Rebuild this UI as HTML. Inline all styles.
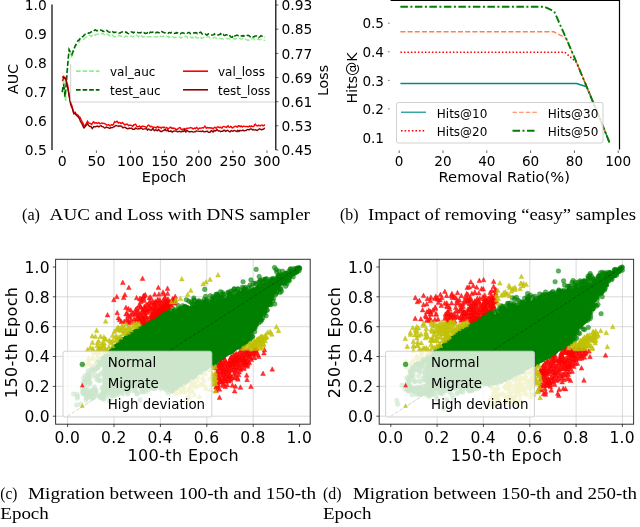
<!DOCTYPE html>
<html lang="en"><head><meta charset="utf-8"><title>Figure</title>
<style>html,body{margin:0;padding:0;background:#fff}svg{display:block}.s{font-family:"DejaVu Sans","Liberation Sans",sans-serif;fill:#000}.r{font-family:"Liberation Serif","DejaVu Serif",serif;fill:#000}</style></head>
<body>
<svg width="640" height="527" viewBox="0 0 640 527" style="will-change:transform">
<rect width="640" height="527" fill="#fff"/>
<path d="M62.3 92.3 63 85.5 63.7 79.1 64.3 88.6 65 97.8 65.7 101.4 66.4 87 67.1 76.4 67.8 68.9 68.4 58.5 69.1 48.4 69.8 51 70.5 53 71.2 55.6 71.9 57.8 72.5 55.9 73.2 52.9 73.9 50.9 74.6 48.3 75.3 47 75.9 45.9 76.6 45.2 77.3 44.7 78 43.6 78.7 42.7 79.4 41.6 80 39.9 80.7 39.3 81.4 39.1 82.1 39.8 82.8 39.2 83.5 39.2 84.1 38.9 84.8 38.2 85.5 37.7 86.2 36.8 86.9 36.4 87.5 35.8 88.2 35.8 88.9 35.4 89.6 35.3 90.3 35.5 91 36.4 91.6 36.1 92.3 35.1 93 34.1 93.7 34.2 94.4 34.8 95.1 35.1 95.7 34.7 96.4 34.4 97.1 34.2 97.8 34.2 98.5 34.2 99.1 34.3 99.8 34.3 100.5 34.3 101.2 34.1 101.9 33.5 102.6 33.3 103.2 33.4 103.9 34.6 104.6 34.7 105.3 35.4 106 35.3 106.7 35.1 107.3 34.2 108 34 108.7 35 109.4 35.6 110.1 36 110.7 35.4 111.4 34.6 112.1 34.5 112.8 35.2 113.5 36.5 114.2 36.8 114.8 36.8 115.5 36.8 116.2 36.7 116.9 37.1 117.6 36.3 118.3 36 118.9 35.2 119.6 35.8 120.3 35.9 121 36.4 121.7 36.3 122.3 36.6 123 37 123.7 37.4 124.4 37 125.1 36.6 125.8 36 126.4 36 127.1 36.5 127.8 36.8 128.5 37.1 129.2 36.4 129.9 36.3 130.5 36 131.2 36 131.9 36.3 132.6 37 133.3 36.8 133.9 36.2 134.6 36.5 135.3 36.3 136 36.3 136.7 35.2 137.4 35.8 138 36.1 138.7 36.9 139.4 35.9 140.1 35.9 140.8 35 141.5 36.1 142.1 35.9 142.8 37 143.5 37 144.2 36.7 144.9 36.5 145.5 36 146.2 36.3 146.9 36.2 147.6 36.7 148.3 37 149 36.7 149.6 36.7 150.3 36.8 151 36.9 151.7 37.1 152.4 37.2 153.1 37.1 153.7 36.5 154.4 36.6 155.1 36.5 155.8 37.1 156.5 36.9 157.1 36.6 157.8 36.5 158.5 35.7 159.2 36.3 159.9 35.9 160.6 36.5 161.2 36.6 161.9 36.5 162.6 36.5 163.3 36 164 36.3 164.6 36.6 165.3 36.9 166 36.8 166.7 36.2 167.4 36.5 168.1 36.5 168.7 37.4 169.4 36.9 170.1 37.3 170.8 37.3 171.5 37.6 172.2 36.9 172.8 36.8 173.5 37.1 174.2 37.8 174.9 37.7 175.6 37.2 176.2 37.2 176.9 37.1 177.6 37 178.3 37 179 36.7 179.7 37.2 180.3 37.4 181 38.2 181.7 37.2 182.4 36.9 183.1 36.2 183.8 36.9 184.4 36.8 185.1 36.8 185.8 36.2 186.5 36.6 187.2 37.2 187.8 38.2 188.5 38.3 189.2 37.5 189.9 36.9 190.6 36.8 191.3 37.6 191.9 38 192.6 37.2 193.3 37.7 194 37.4 194.7 38.3 195.4 37 196 37.5 196.7 37.3 197.4 38.2 198.1 38.1 198.8 37.6 199.4 36.8 200.1 36.6 200.8 37.4 201.5 38.3 202.2 38.4 202.9 38.1 203.5 37.5 204.2 37.4 204.9 37.8 205.6 37.8 206.3 37.8 207 37 207.6 36.4 208.3 36.4 209 37.1 209.7 37.8 210.4 38 211 38 211.7 38 212.4 38.2 213.1 37.8 213.8 37.8 214.5 37.4 215.1 37.7 215.8 37.9 216.5 38.4 217.2 38.4 217.9 38.4 218.6 38 219.2 38 219.9 38.3 220.6 38.4 221.3 38.9 222 38.6 222.6 38.8 223.3 39.1 224 38.9 224.7 38.7 225.4 38.1 226.1 38.3 226.7 38.5 227.4 38.8 228.1 38.8 228.8 38.9 229.5 38.6 230.2 38.9 230.8 38.7 231.5 38.7 232.2 38.4 232.9 38.6 233.6 38.5 234.2 39.1 234.9 38.8 235.6 38.9 236.3 38.3 237 38.4 237.7 38.7 238.3 38.9 239 38.9 239.7 38.5 240.4 38.4 241.1 39.2 241.8 39.1 242.4 38.8 243.1 38 243.8 38.2 244.5 39.1 245.2 39.2 245.8 39.3 246.5 39.7 247.2 39.9 247.9 40.4 248.6 40 249.3 40.4 249.9 39.5 250.6 39.2 251.3 38.9 252 38.8 252.7 38.2 253.4 38.3 254 39 254.7 40 255.4 40.2 256.1 40 256.8 39.5 257.4 39.3 258.1 39.1 258.8 39.5 259.5 39.6 260.2 39.7 260.9 39.3 261.5 39 262.2 39.1 262.9 39.5 263.6 39.8 264.3 40.3 265 40.8" fill="none" stroke="#90ee90" stroke-width="1.4" stroke-dasharray="5 2.2"/>
<path d="M62.3 92.1 63 85.8 63.7 84.9 64.3 89.3 65 96.8 65.7 88.1 66.4 82.4 67.1 70.9 67.8 63.2 68.4 56.4 69.1 49.6 69.8 51.2 70.5 52.4 71.2 53.3 71.9 54.5 72.5 52.5 73.2 51.2 73.9 49 74.6 47.3 75.3 45.7 75.9 44.7 76.6 43 77.3 41.8 78 40.4 78.7 40.4 79.4 39.6 80 38.5 80.7 37.2 81.4 37.1 82.1 36.8 82.8 36.8 83.5 36.1 84.1 35.1 84.8 34.6 85.5 33.9 86.2 33.7 86.9 33.4 87.5 33.2 88.2 33.2 88.9 32.7 89.6 32.9 90.3 32.6 91 31.9 91.6 31.8 92.3 31.3 93 31.5 93.7 30.9 94.4 30.3 95.1 29.8 95.7 30 96.4 30.7 97.1 30.8 97.8 30.5 98.5 30.3 99.1 30.6 99.8 30.3 100.5 30.1 101.2 30.3 101.9 30.5 102.6 31.2 103.2 31 103.9 31.5 104.6 31.5 105.3 31.7 106 31 106.7 30.4 107.3 30.9 108 31.6 108.7 31.9 109.4 32.2 110.1 32.2 110.7 32.6 111.4 31.7 112.1 31.4 112.8 31.6 113.5 32.3 114.2 32.7 114.8 32.2 115.5 32.3 116.2 32.3 116.9 32.7 117.6 32.6 118.3 32.5 118.9 33 119.6 33 120.3 33 121 32.3 121.7 32 122.3 31.9 123 32.1 123.7 32.4 124.4 32 125.1 32.2 125.8 31.9 126.4 32.7 127.1 32.6 127.8 33.4 128.5 33.6 129.2 33.8 129.9 33.5 130.5 32.8 131.2 31.9 131.9 31.9 132.6 32.2 133.3 32.9 133.9 32.4 134.6 32.2 135.3 32.4 136 32.3 136.7 32.1 137.4 32.3 138 32.6 138.7 32.8 139.4 32.8 140.1 32.6 140.8 32.9 141.5 32.3 142.1 32.3 142.8 31.9 143.5 32.5 144.2 32.6 144.9 33.3 145.5 33.5 146.2 33.3 146.9 33.3 147.6 32.7 148.3 33.4 149 32.4 149.6 32.9 150.3 32.1 151 32.3 151.7 32.5 152.4 32.4 153.1 31.9 153.7 31.4 154.4 31.9 155.1 32.5 155.8 32.8 156.5 32.3 157.1 32.4 157.8 32.1 158.5 32.7 159.2 32.8 159.9 33.2 160.6 32.5 161.2 32.4 161.9 31.6 162.6 32.1 163.3 32.3 164 32.7 164.6 33 165.3 32.7 166 32.8 166.7 32.7 167.4 33.2 168.1 33.4 168.7 32.7 169.4 32.5 170.1 32.6 170.8 33.1 171.5 32.4 172.2 32.6 172.8 32.8 173.5 33.5 174.2 33.6 174.9 33.3 175.6 33.2 176.2 32.6 176.9 33.1 177.6 32.9 178.3 33.2 179 33 179.7 33.5 180.3 33.8 181 33.3 181.7 33.1 182.4 32.7 183.1 33.1 183.8 33.1 184.4 33.4 185.1 33.2 185.8 33.2 186.5 33.1 187.2 33.3 187.8 32.9 188.5 32.6 189.2 32.5 189.9 33.1 190.6 33.8 191.3 33.7 191.9 33.2 192.6 32.8 193.3 32.9 194 33 194.7 32.7 195.4 32.6 196 33.1 196.7 32.9 197.4 33.6 198.1 33.2 198.8 33.6 199.4 32.9 200.1 32.5 200.8 32.2 201.5 32.9 202.2 34.2 202.9 34.4 203.5 34.4 204.2 33.9 204.9 33.9 205.6 34.1 206.3 34.8 207 35.1 207.6 34.5 208.3 33.9 209 34 209.7 34.3 210.4 34.8 211 34.9 211.7 35 212.4 35.1 213.1 34.9 213.8 34.6 214.5 33.9 215.1 34.5 215.8 34.7 216.5 35.2 217.2 35.2 217.9 35 218.6 35 219.2 34.6 219.9 34.6 220.6 33.7 221.3 34.3 222 34.1 222.6 34.9 223.3 34.5 224 35.3 224.7 35.5 225.4 35.2 226.1 34.8 226.7 34.7 227.4 35.1 228.1 34.7 228.8 34.7 229.5 35.4 230.2 36.1 230.8 36.8 231.5 37.2 232.2 37.2 232.9 36.1 233.6 35 234.2 35.3 234.9 36.1 235.6 35.7 236.3 35.3 237 35 237.7 35.5 238.3 35.6 239 35.3 239.7 35.2 240.4 35.1 241.1 35.8 241.8 35.9 242.4 36.2 243.1 35.5 243.8 36.2 244.5 36 245.2 36.4 245.8 36.5 246.5 35.9 247.2 35.4 247.9 35.2 248.6 35.5 249.3 35.9 249.9 36.7 250.6 36.9 251.3 37.1 252 36.2 252.7 36.7 253.4 36.8 254 37 254.7 36.2 255.4 36.1 256.1 36 256.8 36 257.4 36.3 258.1 36.5 258.8 37.6 259.5 37 260.2 36.5 260.9 35.7 261.5 36 262.2 36.3 262.9 36.6 263.6 37 264.3 37.2 265 37.3" fill="none" stroke="#006400" stroke-width="1.5" stroke-dasharray="5 2.2"/>
<path d="M62.3 77.7 63 76.6 63.7 76.3 64.3 77.1 65 77.3 65.7 78 66.4 81.2 67.1 83.4 67.8 85.4 68.4 89.8 69.1 94.7 69.8 98.5 70.5 101.9 71.2 104 71.9 105.8 72.5 108.2 73.2 110.8 73.9 112.4 74.6 112.4 75.3 112.3 75.9 113.7 76.6 115 77.3 114.7 78 115 78.7 116.2 79.4 116.8 80 117.2 80.7 118.7 81.4 120.4 82.1 121.6 82.8 122.9 83.5 124.3 84.1 126.1 84.8 126 85.5 124.6 86.2 123.6 86.9 122.5 87.5 121.2 88.2 122.4 88.9 122.9 89.6 123.2 90.3 123.3 91 123.9 91.6 124.4 92.3 123.5 93 122.3 93.7 121.8 94.4 122.7 95.1 123.3 95.7 122.6 96.4 122.6 97.1 123.5 97.8 123.3 98.5 122.6 99.1 122.9 99.8 123.7 100.5 123.8 101.2 123.1 101.9 123 102.6 123.5 103.2 123.4 103.9 123.2 104.6 123.7 105.3 124 106 124.4 106.7 125 107.3 125.3 108 124.8 108.7 124.6 109.4 125.6 110.1 126 110.7 125.4 111.4 124.6 112.1 124.8 112.8 125.2 113.5 124.3 114.2 122.4 114.8 121.5 115.5 122.2 116.2 122 116.9 121.2 117.6 121.8 118.3 123.1 118.9 122.7 119.6 122.5 120.3 122.9 121 123.6 121.7 123.2 122.3 122.5 123 123.1 123.7 123.7 124.4 124.8 125.1 124.9 125.8 124.3 126.4 124.4 127.1 124.1 127.8 124.5 128.5 125.6 129.2 125.4 129.9 125.1 130.5 125.4 131.2 125.5 131.9 125.5 132.6 126.3 133.3 125.7 133.9 124.7 134.6 124.8 135.3 124.1 136 124.6 136.7 126.3 137.4 126.8 138 126.6 138.7 126.5 139.4 126 140.1 126.7 140.8 126.6 141.5 126.5 142.1 126.6 142.8 126 143.5 126.4 144.2 126.4 144.9 126.6 145.5 126.9 146.2 127.4 146.9 127.2 147.6 125.8 148.3 125 149 125.3 149.6 125.9 150.3 126.8 151 126.5 151.7 126.3 152.4 127 153.1 127.2 153.7 127.2 154.4 127.3 155.1 127.4 155.8 127.8 156.5 128 157.1 126.6 157.8 126.5 158.5 127.7 159.2 127.5 159.9 127.1 160.6 127.8 161.2 128.3 161.9 127.4 162.6 127.2 163.3 127.6 164 127.1 164.6 127.5 165.3 128.1 166 128.1 166.7 127.5 167.4 128.1 168.1 129.1 168.7 128.5 169.4 127.9 170.1 127.5 170.8 127.2 171.5 128.1 172.2 128.4 172.8 127.9 173.5 128.5 174.2 128.2 174.9 128.4 175.6 129.5 176.2 129.3 176.9 129.1 177.6 129.2 178.3 128.4 179 128 179.7 127.6 180.3 127.8 181 129.1 181.7 129.4 182.4 129.2 183.1 129.4 183.8 128.8 184.4 128.6 185.1 129.7 185.8 129.1 186.5 128.2 187.2 128.4 187.8 128.2 188.5 128.1 189.2 128.1 189.9 127.8 190.6 127.6 191.3 127.9 191.9 127.9 192.6 128.6 193.3 128.9 194 128.3 194.7 128.1 195.4 128.6 196 127.9 196.7 127.3 197.4 128.4 198.1 129.2 198.8 128.7 199.4 128 200.1 128.2 200.8 128.1 201.5 128 202.2 127.8 202.9 127.8 203.5 128 204.2 127.2 204.9 126.1 205.6 126.9 206.3 128.2 207 128.1 207.6 127.5 208.3 127.6 209 128.1 209.7 127.6 210.4 127.8 211 128.2 211.7 127.9 212.4 128.4 213.1 128.8 213.8 128.1 214.5 127.4 215.1 127.3 215.8 128.1 216.5 128.2 217.2 127.1 217.9 126.7 218.6 127 219.2 127.6 219.9 127.3 220.6 127.2 221.3 128 222 128 222.6 126.9 223.3 126.5 224 126.6 224.7 126.9 225.4 127 226.1 127 226.7 127.5 227.4 126.2 228.1 125.8 228.8 127 229.5 127.4 230.2 127 230.8 126.4 231.5 126.8 232.2 128 232.9 127.9 233.6 127.2 234.2 127 234.9 126.4 235.6 126.3 236.3 126.5 237 127.1 237.7 127 238.3 125.6 239 125.6 239.7 126.4 240.4 126.6 241.1 125.9 241.8 126.3 242.4 127.1 243.1 126.5 243.8 126.1 244.5 126.4 245.2 126.6 245.8 126.5 246.5 126.5 247.2 126.4 247.9 126.9 248.6 126.9 249.3 126 249.9 126.3 250.6 126.8 251.3 126 252 126.4 252.7 126.5 253.4 126.5 254 126.1 254.7 124.6 255.4 124.2 256.1 125.2 256.8 125.7 257.4 125.6 258.1 125.8 258.8 125.1 259.5 125.7 260.2 125.9 260.9 125.3 261.5 125.1 262.2 125 262.9 125.8 263.6 125.8 264.3 125.1 265 125.2" fill="none" stroke="#ff0000" stroke-width="1.4"/>
<path d="M62.3 80.9 63 79.5 63.7 77.5 64.3 78.2 65 78.9 65.7 78.9 66.4 82 67.1 85.6 67.8 88.4 68.4 91.7 69.1 96 69.8 99.9 70.5 103.6 71.2 106.3 71.9 107.5 72.5 109 73.2 111.8 73.9 113.8 74.6 113.6 75.3 113.6 75.9 114.7 76.6 115.6 77.3 115.8 78 116.8 78.7 117.5 79.4 118.6 80 120.3 80.7 121.8 81.4 123 82.1 124.1 82.8 125.7 83.5 127.3 84.1 128 84.8 127.1 85.5 126.4 86.2 125.3 86.9 124.7 87.5 123.6 88.2 124.7 88.9 125.8 89.6 126.3 90.3 126.5 91 126.4 91.6 127.6 92.3 128.5 93 127.5 93.7 126.7 94.4 126.6 95.1 126.8 95.7 126.8 96.4 126.3 97.1 126.4 97.8 126.1 98.5 126.7 99.1 126.7 99.8 126.1 100.5 125.9 101.2 125.8 101.9 126.6 102.6 126.6 103.2 126.8 103.9 127.5 104.6 127.9 105.3 127.8 106 127.2 106.7 127 107.3 127.5 108 127.6 108.7 127.8 109.4 128.4 110.1 128.4 110.7 127.6 111.4 127.6 112.1 127.8 112.8 127.4 113.5 126.9 114.2 126.8 114.8 126.2 115.5 125.6 116.2 125.5 116.9 125.9 117.6 126.1 118.3 125.9 118.9 126.4 119.6 126 120.3 125.9 121 126.2 121.7 126.2 122.3 127.2 123 127.8 123.7 127.4 124.4 127.3 125.1 127.5 125.8 127.7 126.4 128.4 127.1 128.5 127.8 128.7 128.5 128.5 129.2 128 129.9 128.5 130.5 128.3 131.2 128 131.9 128.5 132.6 129.3 133.3 129.2 133.9 129.4 134.6 129.4 135.3 128.1 136 128.2 136.7 128.6 137.4 128.8 138 129 138.7 128.6 139.4 128.8 140.1 128.6 140.8 127.9 141.5 128.1 142.1 128.8 142.8 129.3 143.5 129.1 144.2 128.9 144.9 128.9 145.5 128.9 146.2 128.6 146.9 129.3 147.6 130.1 148.3 129.1 149 129.2 149.6 129.9 150.3 129.9 151 130.2 151.7 130.1 152.4 128.8 153.1 128.5 153.7 129.8 154.4 130.6 155.1 130.4 155.8 129.8 156.5 130 157.1 130.7 157.8 130.1 158.5 129.6 159.2 130.1 159.9 130.9 160.6 131.4 161.2 131.3 161.9 131.5 162.6 131 163.3 130.5 164 130.6 164.6 129.7 165.3 129.5 166 130.7 166.7 130.8 167.4 130 168.1 130.6 168.7 131.4 169.4 131.2 170.1 131.5 170.8 130.9 171.5 131.3 172.2 132.2 172.8 131.5 173.5 131.2 174.2 131.1 174.9 130.9 175.6 131.1 176.2 130.8 176.9 131.5 177.6 132 178.3 131.5 179 131.5 179.7 131.2 180.3 131.6 181 131.9 181.7 131.4 182.4 131 183.1 131.6 183.8 131 184.4 130 185.1 131.3 185.8 132 186.5 130.5 187.2 130.4 187.8 131.2 188.5 131.5 189.2 131.8 189.9 131.8 190.6 131.8 191.3 131.4 191.9 131.4 192.6 131.8 193.3 132.1 194 131.9 194.7 131.8 195.4 131.8 196 131.1 196.7 130.9 197.4 131.1 198.1 131.1 198.8 131.3 199.4 131.4 200.1 131.6 200.8 131.2 201.5 131.5 202.2 131.3 202.9 130.9 203.5 131.6 204.2 131.8 204.9 131.8 205.6 131.5 206.3 131.5 207 131.2 207.6 131.2 208.3 132.4 209 132.4 209.7 132.3 210.4 132 211 130.9 211.7 130.6 212.4 131.5 213.1 132 213.8 130.8 214.5 130.4 215.1 131 215.8 130.8 216.5 129.9 217.2 129.7 217.9 130.6 218.6 130.9 219.2 130.7 219.9 131 220.6 131.6 221.3 131.4 222 131.3 222.6 131.3 223.3 130.9 224 130.1 224.7 130.4 225.4 131.3 226.1 131 226.7 130.8 227.4 130.3 228.1 130.6 228.8 131.3 229.5 131.7 230.2 131.7 230.8 130.9 231.5 130.5 232.2 131.1 232.9 131.2 233.6 130.8 234.2 130.5 234.9 130.7 235.6 130.9 236.3 131.4 237 131.6 237.7 130.4 238.3 130.7 239 131.4 239.7 130.5 240.4 130.5 241.1 130.8 241.8 130.6 242.4 130.3 243.1 130.3 243.8 130.9 244.5 130.9 245.2 130.5 245.8 130.6 246.5 130.2 247.2 129.7 247.9 129.5 248.6 129.8 249.3 129.8 249.9 129.2 250.6 129 251.3 128.9 252 129.4 252.7 129.9 253.4 129.5 254 129.9 254.7 130.1 255.4 129.8 256.1 129.9 256.8 130.3 257.4 130.5 258.1 129.8 258.8 129.2 259.5 128.8 260.2 129.1 260.9 129.5 261.5 129.7 262.2 129.5 262.9 129.2 263.6 129.1 264.3 128.3 265 128.5" fill="none" stroke="#8b0000" stroke-width="1.4"/>
<rect x="70.7" y="62" width="206" height="40" rx="2" fill="#fff" fill-opacity=".8"/>
<path d="M70.7 64V100.5Q70.7 102 72.2 102H275" fill="none" stroke="#ccc" stroke-width=".9"/>
<path d="M76 71.2 99.5 71.2" fill="none" stroke="#90ee90" stroke-width="1.8" stroke-dasharray="4.6 2"/>
<path d="M76 89.8 99.5 89.8" fill="none" stroke="#006400" stroke-width="1.8" stroke-dasharray="4.6 2"/>
<path d="M183 71.2 208 71.2" fill="none" stroke="#ff0000" stroke-width="1.6"/>
<path d="M183 89.8 208 89.8" fill="none" stroke="#8b0000" stroke-width="1.6"/>
<text class="s" x="110" y="76.3" font-size="12" text-anchor="start">val_auc</text>
<text class="s" x="110" y="95" font-size="12" text-anchor="start">test_auc</text>
<text class="s" x="218" y="76.3" font-size="12" text-anchor="start">val_loss</text>
<text class="s" x="218" y="95" font-size="12" text-anchor="start">test_loss</text>
<path d="M52.0 4.5V150.0M275.8 0V150.0" stroke="#000" stroke-width="1.2" fill="none"/>
<path d="M62.3 150.4v2.6M96.4 150.4v2.6M130.5 150.4v2.6M164.6 150.4v2.6M198.8 150.4v2.6M232.9 150.4v2.6M267 150.4v2.6M275.8 150h2.6M275.8 125.8h2.6M275.8 101.7h2.6M275.8 77.5h2.6M275.8 53.4h2.6M275.8 29.2h2.6M275.8 5h2.6" stroke="#000" stroke-width=".6" fill="none"/>
<text class="s" x="62.3" y="165.6" font-size="14.1" text-anchor="middle">0</text>
<text class="s" x="96.4" y="165.6" font-size="14.1" text-anchor="middle">50</text>
<text class="s" x="130.5" y="165.6" font-size="14.1" text-anchor="middle">100</text>
<text class="s" x="164.6" y="165.6" font-size="14.1" text-anchor="middle">150</text>
<text class="s" x="198.8" y="165.6" font-size="14.1" text-anchor="middle">200</text>
<text class="s" x="232.9" y="165.6" font-size="14.1" text-anchor="middle">250</text>
<text class="s" x="267" y="165.6" font-size="14.1" text-anchor="middle">300</text>
<text class="s" x="46.8" y="155.2" font-size="13.8" text-anchor="end">0.5</text>
<text class="s" x="46.8" y="126.2" font-size="13.8" text-anchor="end">0.6</text>
<text class="s" x="46.8" y="97.2" font-size="13.8" text-anchor="end">0.7</text>
<text class="s" x="46.8" y="68.2" font-size="13.8" text-anchor="end">0.8</text>
<text class="s" x="46.8" y="39.2" font-size="13.8" text-anchor="end">0.9</text>
<text class="s" x="46.8" y="10.2" font-size="13.8" text-anchor="end">1.0</text>
<text class="s" x="281.5" y="155.2" font-size="13.8" text-anchor="start">0.45</text>
<text class="s" x="281.5" y="131" font-size="13.8" text-anchor="start">0.53</text>
<text class="s" x="281.5" y="106.9" font-size="13.8" text-anchor="start">0.61</text>
<text class="s" x="281.5" y="82.7" font-size="13.8" text-anchor="start">0.69</text>
<text class="s" x="281.5" y="58.6" font-size="13.8" text-anchor="start">0.77</text>
<text class="s" x="281.5" y="34.4" font-size="13.8" text-anchor="start">0.85</text>
<text class="s" x="281.5" y="10.2" font-size="13.8" text-anchor="start">0.93</text>
<text class="s" x="164" y="182.3" font-size="14.5" text-anchor="middle">Epoch</text>
<text class="s" x="18.3" y="79" font-size="14.2" text-anchor="middle" transform="rotate(-90 18.3 79)">AUC</text>
<text class="s" x="327.6" y="80.5" font-size="14.2" text-anchor="middle" transform="rotate(-90 327.6 80.5)">Loss</text>
<path d="M400.4 83.5 576.5 83.5 586.7 86.8 598 114 609.4 142.3" fill="none" stroke="#008b8b" stroke-width="1.5" stroke-linejoin="round"/>
<path d="M400.4 52.3 564.9 52.3 576.5 62.3 587 87.5 598 114 609.4 142.3" fill="none" stroke="#ff0000" stroke-width="1.5" stroke-dasharray="1.5 2.0" stroke-linejoin="round"/>
<path d="M400.4 31.7 553.5 31.7 566 38 577 63.5 587 87.5 598 114 609.4 142.3" fill="none" stroke="#ff7f50" stroke-width="1.4" stroke-dasharray="5 2.2" stroke-linejoin="round"/>
<path d="M400.4 6.7 544.2 6.7 554.2 11.4 566 38 577 63.5 587 87.5 598 114 609.4 142.3" fill="none" stroke="#008000" stroke-width="1.9" stroke-dasharray="7.5 2.5 2 2.5" stroke-linejoin="round"/>
<rect x="396.5" y="102.5" width="206.5" height="40.5" rx="2" fill="#fff" fill-opacity=".8" stroke="#ccc" stroke-width=".9"/>
<path d="M401 112.2 426 112.2" fill="none" stroke="#008b8b" stroke-width="1.15"/>
<path d="M401 130.7 426 130.7" fill="none" stroke="#ff0000" stroke-width="1.6" stroke-dasharray="1.6 2.0"/>
<path d="M512.5 112.2 537 112.2" fill="none" stroke="#ff7f50" stroke-width="1.15" stroke-dasharray="4.6 2"/>
<path d="M512.5 130.7 537 130.7" fill="none" stroke="#008000" stroke-width="1.9" stroke-dasharray="7.5 2.5 2 2.5"/>
<text class="s" x="436.8" y="117.6" font-size="12" text-anchor="start">Hits@10</text>
<text class="s" x="436.8" y="136.2" font-size="12" text-anchor="start">Hits@20</text>
<text class="s" x="547.8" y="117.6" font-size="12" text-anchor="start">Hits@30</text>
<text class="s" x="547.8" y="136.2" font-size="12" text-anchor="start">Hits@50</text>
<path d="M390.6 0.3H619.5M619.5 0V149.6" stroke="#000" stroke-width="1.2" fill="none"/>
<path d="M399.2 150.4v2.6M443 150.4v2.6M486.8 150.4v2.6M530.6 150.4v2.6M574.4 150.4v2.6M618.2 150.4v2.6M389.6 108.9h-1.5M389.6 80.4h-1.5M389.6 51.8h-1.5M389.6 23.2h-1.5" stroke="#000" stroke-width=".6" fill="none"/>
<text class="s" x="399.2" y="165.6" font-size="13.6" text-anchor="middle">0</text>
<text class="s" x="443" y="165.6" font-size="13.6" text-anchor="middle">20</text>
<text class="s" x="486.8" y="165.6" font-size="13.6" text-anchor="middle">40</text>
<text class="s" x="530.6" y="165.6" font-size="13.6" text-anchor="middle">60</text>
<text class="s" x="574.4" y="165.6" font-size="13.6" text-anchor="middle">80</text>
<text class="s" x="618.2" y="165.6" font-size="13.6" text-anchor="middle">100</text>
<text class="s" x="384" y="142.6" font-size="13.6" text-anchor="end">0.1</text>
<text class="s" x="384" y="114" font-size="13.6" text-anchor="end">0.2</text>
<text class="s" x="384" y="85.5" font-size="13.6" text-anchor="end">0.3</text>
<text class="s" x="384" y="56.9" font-size="13.6" text-anchor="end">0.4</text>
<text class="s" x="384" y="28.3" font-size="13.6" text-anchor="end">0.5</text>
<text class="s" x="504.3" y="182.3" font-size="14.7" text-anchor="middle">Removal Ratio(%)</text>
<text class="s" x="357.4" y="78" font-size="14.2" text-anchor="middle" transform="rotate(-90 357.4 78)">Hits@K</text>
<path d="M67.6 259.3V424.2M114 259.3V424.2M160.4 259.3V424.2M206.8 259.3V424.2M253.2 259.3V424.2M55.6 416.2H310.2M55.6 386.4H310.2M55.6 356.5H310.2M55.6 326.7H310.2M55.6 296.8H310.2" stroke="#d0d0d0" stroke-width=".8" fill="none"/>
<path d="M67.6 416.2L299.6 267" stroke="#000" stroke-width=".8" stroke-dasharray="3.4 1.8" fill="none"/>
<path d="M103.6 356.8 105.5 354.3 107.5 353.4 109.5 351 111.4 349.1 113.4 346.7 115.4 345.5 117.3 344.3 119.3 341.8 121.3 340.7 123.2 339.3 125.2 336.8 127.2 336.8 129.2 334.7 131.1 334 133.1 331.3 135.1 331 137 328.9 139 327.7 141 326.9 142.9 325.3 144.9 323.6 146.9 323.4 148.8 322.8 150.8 320.2 152.8 318.4 154.7 317.6 156.7 316.1 158.7 315 160.6 315.2 162.6 313 164.6 311.9 166.6 311.3 168.5 311.9 170.5 312.6 172.5 313 174.4 314.4 176.4 313.7 178.4 314.4 180.3 312.3 182.3 312.3 184.3 311.5 186.2 309.1 188.2 309.1 190.2 307.9 192.1 306.4 194.1 307.5 196.1 305.8 198 306.7 200 305.8 202 305.8 204 304.8 205.9 304.7 207.9 304.4 209.9 303.8 211.8 302.3 213.8 301.2 215.8 302.2 217.7 300.5 219.7 301.2 221.7 299.8 223.6 299.7 225.6 298.8 227.6 298.4 229.5 298 231.5 298.4 233.5 296 235.4 295.4 237.4 294.3 239.4 293.8 241.4 294.2 243.3 293.3 245.3 292.7 247.3 291.5 249.2 292.1 251.2 290.1 253.2 288.9 255.1 288.7 257.1 286.9 259.1 285.1 261 285.1 263 284.1 265 283.8 266.9 284.4 268.9 283.5 270.9 282.9 272.8 281.7 274.8 281.6 276.8 281.6 278.8 281.2 280.7 280.4 282.7 280.9 284.7 280.2 286.6 279 288.6 277.4 290.6 276.5 292.5 274 294.5 273.1 296.5 271 298.4 269.8 298.4 269.8 296.5 271 294.5 273.1 292.5 274 290.6 276.5 288.6 277.4 286.6 279 284.7 280.9 282.7 282 280.7 284.3 278.8 286.5 276.8 288.8 274.8 291.6 272.8 296.2 270.9 300.5 268.9 304.1 266.9 307.5 265 310.6 263 313.6 261 316.8 259.1 320.6 257.1 322 255.1 324.8 253.2 329.4 251.2 332.8 249.2 337.9 247.3 341.2 245.3 343.6 243.3 345.6 241.4 346.7 239.4 347.6 237.4 348.3 235.4 349.7 233.5 351.7 231.5 353.4 229.5 353.6 227.6 354.5 225.6 355.7 223.6 357.8 221.7 359.4 219.7 360.5 217.7 359.9 215.8 363.6 213.8 363.9 211.8 364.9 209.9 367.3 207.9 367 205.9 369.8 204 370.3 202 371.3 200 372.9 198 373.9 196.1 375.1 194.1 376.2 192.1 378.9 190.2 378.2 188.2 381.2 186.2 382.6 184.3 382.6 182.3 383.5 180.3 385.5 178.4 385.1 176.4 384.5 174.4 385.2 172.5 385.3 170.5 385.9 168.5 385.3 166.6 385.1 164.6 383.9 162.6 382.8 160.6 382.4 158.7 382.2 156.7 383.6 154.7 382.9 152.8 383 150.8 384.2 148.8 384 146.9 384.9 144.9 385.5 142.9 384.9 141 385.9 139 385.1 137 386.2 135.1 386.1 133.1 386.9 131.1 387.1 129.2 388.2 127.2 388.4 125.2 388.7 123.2 389.6 121.3 388.6 119.3 389.6 117.3 389.6 115.4 390.3 113.4 390.7 111.4 392.1 109.5 391.4 107.5 391.8 105.5 391.9 103.6 390.9Z" fill="#008000" stroke="#008000" stroke-width="2.4" stroke-linejoin="round"/>
<g fill="#008000" fill-opacity=".62" stroke="#008000" stroke-opacity=".5" stroke-width=".7">
<circle cx="174.9" cy="388" r="2.3"/><circle cx="171.8" cy="390.4" r="2.3"/><circle cx="269.5" cy="282.2" r="2.3"/><circle cx="181.8" cy="385.1" r="2.3"/><circle cx="198.4" cy="301.5" r="2.3"/><circle cx="237.3" cy="345.8" r="2.3"/><circle cx="176.6" cy="318.4" r="2.3"/><circle cx="87.9" cy="378.2" r="2.3"/><circle cx="281.1" cy="280" r="2.3"/><circle cx="100.4" cy="397.1" r="2.3"/><circle cx="179.2" cy="309" r="2.3"/><circle cx="292.5" cy="273.7" r="2.3"/><circle cx="191" cy="302.3" r="2.3"/><circle cx="187.8" cy="309.5" r="2.3"/><circle cx="88.6" cy="374.9" r="2.3"/><circle cx="285.7" cy="286.2" r="2.3"/><circle cx="168.2" cy="312.6" r="2.3"/><circle cx="270.3" cy="279.5" r="2.3"/><circle cx="212.1" cy="300.2" r="2.3"/><circle cx="163.2" cy="312.8" r="2.3"/><circle cx="166" cy="314.8" r="2.3"/><circle cx="158.9" cy="380.7" r="2.3"/><circle cx="275.5" cy="294.8" r="2.3"/><circle cx="281.6" cy="277.9" r="2.3"/><circle cx="171.4" cy="391.5" r="2.3"/><circle cx="247.5" cy="292.4" r="2.3"/><circle cx="135.7" cy="391.2" r="2.3"/><circle cx="145.8" cy="391.7" r="2.3"/><circle cx="86.1" cy="400.1" r="2.3"/><circle cx="128" cy="336" r="2.3"/><circle cx="164.2" cy="312.4" r="2.3"/><circle cx="140.6" cy="386.4" r="2.3"/><circle cx="163.6" cy="386.7" r="2.3"/><circle cx="120.6" cy="344.4" r="2.3"/><circle cx="173.4" cy="311.8" r="2.3"/><circle cx="162.7" cy="386.2" r="2.3"/><circle cx="101.7" cy="358.5" r="2.3"/><circle cx="162.7" cy="380.3" r="2.3"/><circle cx="137.9" cy="331" r="2.3"/><circle cx="131.4" cy="333.5" r="2.3"/><circle cx="259.9" cy="318.6" r="2.3"/><circle cx="206.9" cy="299.8" r="2.3"/><circle cx="84.2" cy="381.4" r="2.3"/><circle cx="219.7" cy="359.3" r="2.3"/><circle cx="282.2" cy="279.4" r="2.3"/><circle cx="255.4" cy="283.2" r="2.3"/><circle cx="144.3" cy="385" r="2.3"/><circle cx="253" cy="326.1" r="2.3"/><circle cx="179.3" cy="311" r="2.3"/><circle cx="232.6" cy="349.3" r="2.3"/><circle cx="294.2" cy="272.8" r="2.3"/><circle cx="276.8" cy="280.2" r="2.3"/><circle cx="217.7" cy="361.9" r="2.3"/><circle cx="103.8" cy="397.6" r="2.3"/><circle cx="216.6" cy="300.6" r="2.3"/><circle cx="275.3" cy="282.4" r="2.3"/><circle cx="167.9" cy="310.4" r="2.3"/><circle cx="139.2" cy="381.3" r="2.3"/><circle cx="220.3" cy="358.6" r="2.3"/><circle cx="95" cy="390" r="2.3"/><circle cx="182.7" cy="305.7" r="2.3"/><circle cx="97.6" cy="362.4" r="2.3"/><circle cx="235.7" cy="292.4" r="2.3"/><circle cx="138.9" cy="328.3" r="2.3"/><circle cx="278.2" cy="275.2" r="2.3"/><circle cx="204.8" cy="367" r="2.3"/><circle cx="110.5" cy="398.4" r="2.3"/><circle cx="115.6" cy="346.3" r="2.3"/><circle cx="172.5" cy="314.1" r="2.3"/><circle cx="251.4" cy="334" r="2.3"/><circle cx="109.2" cy="400.8" r="2.3"/><circle cx="199.7" cy="312.1" r="2.3"/><circle cx="186.4" cy="299.8" r="2.3"/><circle cx="266.2" cy="315.8" r="2.3"/><circle cx="272.1" cy="280.5" r="2.3"/><circle cx="148.3" cy="389.6" r="2.3"/><circle cx="235.8" cy="291.5" r="2.3"/><circle cx="265.1" cy="279.6" r="2.3"/><circle cx="116.3" cy="347.2" r="2.3"/><circle cx="213.6" cy="304.6" r="2.3"/><circle cx="280.4" cy="289.3" r="2.3"/><circle cx="129.2" cy="333.6" r="2.3"/><circle cx="147.3" cy="383" r="2.3"/><circle cx="257.3" cy="321.6" r="2.3"/><circle cx="166.3" cy="311.4" r="2.3"/><circle cx="243.3" cy="288.8" r="2.3"/><circle cx="256" cy="324.4" r="2.3"/><circle cx="273.4" cy="282" r="2.3"/><circle cx="280" cy="292.5" r="2.3"/><circle cx="155" cy="388.8" r="2.3"/><circle cx="180.3" cy="314.1" r="2.3"/><circle cx="214.5" cy="305.6" r="2.3"/><circle cx="194.2" cy="372.6" r="2.3"/><circle cx="159.1" cy="381.3" r="2.3"/><circle cx="176.7" cy="387.9" r="2.3"/><circle cx="204.2" cy="299.5" r="2.3"/><circle cx="163" cy="383" r="2.3"/><circle cx="91.1" cy="369.8" r="2.3"/><circle cx="84.1" cy="391.3" r="2.3"/><circle cx="219.1" cy="297.4" r="2.3"/><circle cx="195.1" cy="304.8" r="2.3"/><circle cx="185.7" cy="307.9" r="2.3"/><circle cx="270.4" cy="304.2" r="2.3"/><circle cx="229.8" cy="297.4" r="2.3"/><circle cx="219.8" cy="360.1" r="2.3"/><circle cx="129.2" cy="383.6" r="2.3"/><circle cx="152.3" cy="388.2" r="2.3"/><circle cx="247.5" cy="341.1" r="2.3"/><circle cx="86.7" cy="397.8" r="2.3"/><circle cx="109.4" cy="354.4" r="2.3"/><circle cx="269.9" cy="282.6" r="2.3"/><circle cx="230.3" cy="296" r="2.3"/><circle cx="192.5" cy="304.6" r="2.3"/><circle cx="258.7" cy="289.1" r="2.3"/><circle cx="206.4" cy="308.9" r="2.3"/><circle cx="262.8" cy="317.9" r="2.3"/><circle cx="242" cy="293" r="2.3"/><circle cx="265.4" cy="279.1" r="2.3"/><circle cx="128.7" cy="388.3" r="2.3"/><circle cx="256.7" cy="322.2" r="2.3"/><circle cx="153.5" cy="319.1" r="2.3"/><circle cx="232" cy="291.2" r="2.3"/><circle cx="229.5" cy="296.6" r="2.3"/><circle cx="242.9" cy="341.4" r="2.3"/><circle cx="176.5" cy="387.7" r="2.3"/><circle cx="208.3" cy="366.1" r="2.3"/><circle cx="168.9" cy="315.4" r="2.3"/><circle cx="167.1" cy="385.8" r="2.3"/><circle cx="203.9" cy="307.3" r="2.3"/><circle cx="91.4" cy="393.4" r="2.3"/><circle cx="165.5" cy="321.7" r="2.3"/><circle cx="160.2" cy="386.9" r="2.3"/><circle cx="259.2" cy="276.5" r="2.3"/><circle cx="133.1" cy="335.1" r="2.3"/><circle cx="240" cy="293.8" r="2.3"/><circle cx="170.3" cy="311" r="2.3"/><circle cx="219.5" cy="300.3" r="2.3"/><circle cx="87.8" cy="377.7" r="2.3"/><circle cx="165.4" cy="387.3" r="2.3"/><circle cx="117" cy="392.3" r="2.3"/><circle cx="229.2" cy="294.1" r="2.3"/><circle cx="123" cy="390.1" r="2.3"/><circle cx="281.4" cy="291.3" r="2.3"/><circle cx="220.9" cy="356.2" r="2.3"/><circle cx="279.4" cy="280.1" r="2.3"/><circle cx="223.9" cy="294.6" r="2.3"/><circle cx="266.8" cy="310.2" r="2.3"/><circle cx="252.6" cy="336.8" r="2.3"/><circle cx="293.7" cy="272.9" r="2.3"/><circle cx="89.5" cy="395.6" r="2.3"/><circle cx="111" cy="393.3" r="2.3"/><circle cx="146.6" cy="384.8" r="2.3"/><circle cx="174.1" cy="384.4" r="2.3"/><circle cx="108.1" cy="352.2" r="2.3"/><circle cx="190.5" cy="308.6" r="2.3"/><circle cx="95.1" cy="392.5" r="2.3"/><circle cx="244.5" cy="288.7" r="2.3"/><circle cx="247.9" cy="292.5" r="2.3"/><circle cx="207" cy="300.5" r="2.3"/><circle cx="249.6" cy="291" r="2.3"/><circle cx="155.9" cy="380.4" r="2.3"/><circle cx="233.6" cy="349.4" r="2.3"/><circle cx="172.8" cy="387" r="2.3"/><circle cx="245.9" cy="340.1" r="2.3"/><circle cx="280.5" cy="276.8" r="2.3"/><circle cx="185.4" cy="306.9" r="2.3"/><circle cx="88.6" cy="397.1" r="2.3"/><circle cx="122" cy="385.5" r="2.3"/><circle cx="199.7" cy="302.9" r="2.3"/><circle cx="198.8" cy="309.8" r="2.3"/><circle cx="240.2" cy="293.1" r="2.3"/><circle cx="186.5" cy="307.4" r="2.3"/><circle cx="201.2" cy="372.6" r="2.3"/><circle cx="228.7" cy="298.1" r="2.3"/><circle cx="112.7" cy="391.6" r="2.3"/><circle cx="184.4" cy="309.7" r="2.3"/><circle cx="125.2" cy="386.4" r="2.3"/><circle cx="220.7" cy="301" r="2.3"/><circle cx="287.9" cy="274.6" r="2.3"/><circle cx="228.4" cy="351.6" r="2.3"/><circle cx="113.5" cy="395.7" r="2.3"/><circle cx="247.1" cy="335.1" r="2.3"/><circle cx="220" cy="297" r="2.3"/><circle cx="164.9" cy="384.3" r="2.3"/><circle cx="280.9" cy="288.6" r="2.3"/><circle cx="87.4" cy="395.1" r="2.3"/><circle cx="185" cy="306.5" r="2.3"/><circle cx="244.4" cy="290.4" r="2.3"/><circle cx="243.4" cy="292.2" r="2.3"/><circle cx="267.3" cy="305.8" r="2.3"/><circle cx="120.3" cy="390.6" r="2.3"/><circle cx="214.8" cy="298.8" r="2.3"/><circle cx="254.7" cy="331.8" r="2.3"/><circle cx="98.2" cy="361.6" r="2.3"/><circle cx="222.5" cy="292.8" r="2.3"/><circle cx="176.7" cy="318.9" r="2.3"/><circle cx="151" cy="322.7" r="2.3"/><circle cx="88.1" cy="370.9" r="2.3"/><circle cx="87.6" cy="374.9" r="2.3"/><circle cx="260.6" cy="321.4" r="2.3"/><circle cx="267.2" cy="284.1" r="2.3"/><circle cx="142.7" cy="391.7" r="2.3"/><circle cx="184.1" cy="382.5" r="2.3"/><circle cx="106.7" cy="395.7" r="2.3"/><circle cx="216.7" cy="360.4" r="2.3"/><circle cx="217.3" cy="297.4" r="2.3"/><circle cx="83.3" cy="393.7" r="2.3"/><circle cx="242.1" cy="342.2" r="2.3"/><circle cx="92.8" cy="397.5" r="2.3"/><circle cx="215.9" cy="363.2" r="2.3"/><circle cx="256.2" cy="269.4" r="2.3"/><circle cx="178.9" cy="311.3" r="2.3"/><circle cx="270.4" cy="285.7" r="2.3"/><circle cx="264.5" cy="311.2" r="2.3"/><circle cx="204" cy="303.2" r="2.3"/><circle cx="210.2" cy="304.5" r="2.3"/><circle cx="92.8" cy="397.9" r="2.3"/><circle cx="179.8" cy="311.1" r="2.3"/><circle cx="261.1" cy="319.2" r="2.3"/><circle cx="183" cy="308.7" r="2.3"/><circle cx="180.2" cy="380.7" r="2.3"/><circle cx="228.7" cy="296" r="2.3"/><circle cx="280.1" cy="278.2" r="2.3"/><circle cx="85.9" cy="380.5" r="2.3"/><circle cx="169.6" cy="382.7" r="2.3"/><circle cx="222.6" cy="357.2" r="2.3"/><circle cx="97.5" cy="364.6" r="2.3"/><circle cx="259.7" cy="286.7" r="2.3"/><circle cx="168.3" cy="384.9" r="2.3"/><circle cx="254.8" cy="323.4" r="2.3"/><circle cx="235.4" cy="298.8" r="2.3"/><circle cx="156.6" cy="378.1" r="2.3"/><circle cx="162.3" cy="313.1" r="2.3"/><circle cx="119.7" cy="386.6" r="2.3"/><circle cx="86.7" cy="392.8" r="2.3"/><circle cx="264.3" cy="312.9" r="2.3"/><circle cx="242.4" cy="287.2" r="2.3"/><circle cx="141" cy="382.1" r="2.3"/><circle cx="261" cy="284.9" r="2.3"/><circle cx="91.8" cy="390.2" r="2.3"/><circle cx="238.7" cy="293.1" r="2.3"/><circle cx="203.7" cy="301.8" r="2.3"/><circle cx="192.1" cy="375.9" r="2.3"/><circle cx="195.9" cy="374.6" r="2.3"/><circle cx="178.9" cy="381.5" r="2.3"/><circle cx="277.6" cy="280.5" r="2.3"/><circle cx="117.6" cy="392" r="2.3"/><circle cx="91.7" cy="398.3" r="2.3"/><circle cx="217.2" cy="294.2" r="2.3"/><circle cx="281.8" cy="275.1" r="2.3"/><circle cx="193.8" cy="307.5" r="2.3"/><circle cx="274.8" cy="304" r="2.3"/><circle cx="171.6" cy="315.6" r="2.3"/><circle cx="241.2" cy="291" r="2.3"/><circle cx="179.7" cy="385.4" r="2.3"/><circle cx="217.4" cy="359.6" r="2.3"/><circle cx="260.2" cy="280.2" r="2.3"/><circle cx="121.8" cy="387.3" r="2.3"/><circle cx="128" cy="337" r="2.3"/><circle cx="222.2" cy="297.7" r="2.3"/><circle cx="181.1" cy="384.2" r="2.3"/><circle cx="156.7" cy="380.8" r="2.3"/><circle cx="273.8" cy="291.8" r="2.3"/><circle cx="256.5" cy="292.4" r="2.3"/><circle cx="236.8" cy="298.6" r="2.3"/><circle cx="253.3" cy="283.3" r="2.3"/><circle cx="91.6" cy="372.6" r="2.3"/><circle cx="278.6" cy="287.9" r="2.3"/><circle cx="163.8" cy="378.2" r="2.3"/><circle cx="166.7" cy="381.2" r="2.3"/><circle cx="180.8" cy="309.8" r="2.3"/><circle cx="114.2" cy="393" r="2.3"/><circle cx="197.4" cy="302.5" r="2.3"/><circle cx="150.9" cy="385.8" r="2.3"/><circle cx="168.6" cy="386.4" r="2.3"/><circle cx="86" cy="382.9" r="2.3"/><circle cx="248.8" cy="340.3" r="2.3"/><circle cx="212.6" cy="365.2" r="2.3"/><circle cx="220.5" cy="291.7" r="2.3"/><circle cx="127.9" cy="392.4" r="2.3"/><circle cx="84.1" cy="393.9" r="2.3"/><circle cx="165.1" cy="384.6" r="2.3"/><circle cx="248.3" cy="294.3" r="2.3"/><circle cx="245.3" cy="287.4" r="2.3"/><circle cx="100.5" cy="362.3" r="2.3"/><circle cx="250.9" cy="279.9" r="2.3"/><circle cx="187" cy="307.6" r="2.3"/><circle cx="244.6" cy="344.3" r="2.3"/><circle cx="252.3" cy="336.2" r="2.3"/><circle cx="102.5" cy="389.7" r="2.3"/><circle cx="96.2" cy="394.4" r="2.3"/><circle cx="194.2" cy="375.8" r="2.3"/><circle cx="178.6" cy="314" r="2.3"/><circle cx="243.1" cy="281.8" r="2.3"/><circle cx="293.7" cy="273.2" r="2.3"/><circle cx="153.1" cy="383.7" r="2.3"/><circle cx="188.5" cy="308" r="2.3"/><circle cx="152.3" cy="382.1" r="2.3"/><circle cx="277.4" cy="277.6" r="2.3"/><circle cx="236.8" cy="295.3" r="2.3"/><circle cx="230.1" cy="294.1" r="2.3"/><circle cx="103.8" cy="399.4" r="2.3"/><circle cx="206" cy="301.9" r="2.3"/><circle cx="183.8" cy="312.4" r="2.3"/><circle cx="173.9" cy="314.5" r="2.3"/><circle cx="193.9" cy="299.8" r="2.3"/><circle cx="205.1" cy="305.1" r="2.3"/><circle cx="167.7" cy="383.5" r="2.3"/><circle cx="259.8" cy="283.6" r="2.3"/><circle cx="247.9" cy="341.8" r="2.3"/><circle cx="263.2" cy="311.4" r="2.3"/><circle cx="287.1" cy="283.8" r="2.3"/><circle cx="237.9" cy="297" r="2.3"/><circle cx="261.1" cy="285.7" r="2.3"/><circle cx="195.7" cy="309" r="2.3"/><circle cx="234.4" cy="288.7" r="2.3"/><circle cx="153.4" cy="384.6" r="2.3"/><circle cx="108.2" cy="354.7" r="2.3"/><circle cx="252.1" cy="329.6" r="2.3"/><circle cx="126" cy="339.9" r="2.3"/><circle cx="243.8" cy="344.6" r="2.3"/><circle cx="271" cy="304.7" r="2.3"/><circle cx="251.6" cy="287" r="2.3"/><circle cx="142.7" cy="389.7" r="2.3"/><circle cx="182.4" cy="312.2" r="2.3"/><circle cx="142" cy="386.1" r="2.3"/><circle cx="146.4" cy="389.2" r="2.3"/><circle cx="209.1" cy="308.8" r="2.3"/><circle cx="215.9" cy="294.5" r="2.3"/><circle cx="224.4" cy="297" r="2.3"/><circle cx="234.7" cy="300.4" r="2.3"/><circle cx="138.2" cy="330.6" r="2.3"/><circle cx="291.5" cy="272.6" r="2.3"/><circle cx="99.7" cy="396.7" r="2.3"/><circle cx="283" cy="280.2" r="2.3"/><circle cx="194.7" cy="371.1" r="2.3"/><circle cx="251.1" cy="338" r="2.3"/><circle cx="182.9" cy="384.6" r="2.3"/><circle cx="145.5" cy="325.8" r="2.3"/><circle cx="164.4" cy="387" r="2.3"/><circle cx="246.4" cy="289.6" r="2.3"/><circle cx="104" cy="392.2" r="2.3"/><circle cx="145.4" cy="386.5" r="2.3"/><circle cx="178" cy="305.6" r="2.3"/><circle cx="278.1" cy="284" r="2.3"/><circle cx="180.4" cy="308.2" r="2.3"/><circle cx="193.8" cy="298" r="2.3"/><circle cx="243.6" cy="342.9" r="2.3"/><circle cx="230.5" cy="291.2" r="2.3"/><circle cx="127.9" cy="336.4" r="2.3"/><circle cx="129" cy="390.5" r="2.3"/><circle cx="106.1" cy="357.4" r="2.3"/><circle cx="146.4" cy="381.2" r="2.3"/><circle cx="162.9" cy="312.3" r="2.3"/><circle cx="176" cy="380.5" r="2.3"/><circle cx="277.9" cy="284.1" r="2.3"/><circle cx="227.8" cy="292.3" r="2.3"/><circle cx="116.5" cy="395.3" r="2.3"/><circle cx="234.7" cy="300.7" r="2.3"/><circle cx="276.9" cy="291.7" r="2.3"/><circle cx="132.4" cy="384.1" r="2.3"/><circle cx="289.4" cy="280.7" r="2.3"/><circle cx="92.4" cy="391.7" r="2.3"/><circle cx="220.2" cy="303.4" r="2.3"/><circle cx="94.2" cy="388.9" r="2.3"/><circle cx="113.8" cy="391.1" r="2.3"/><circle cx="121.1" cy="391.9" r="2.3"/><circle cx="249.8" cy="339.9" r="2.3"/><circle cx="162.4" cy="314.9" r="2.3"/><circle cx="135.1" cy="389.7" r="2.3"/><circle cx="226.4" cy="354" r="2.3"/><circle cx="230.3" cy="295" r="2.3"/><circle cx="275.6" cy="280.6" r="2.3"/><circle cx="239.4" cy="347.2" r="2.3"/><circle cx="211" cy="305" r="2.3"/><circle cx="218.7" cy="355.5" r="2.3"/><circle cx="278.6" cy="276.3" r="2.3"/><circle cx="123.9" cy="388.7" r="2.3"/><circle cx="121.8" cy="339.8" r="2.3"/><circle cx="187.4" cy="310.5" r="2.3"/><circle cx="185.6" cy="310.6" r="2.3"/><circle cx="272" cy="285.2" r="2.3"/><circle cx="206.4" cy="302.9" r="2.3"/><circle cx="93.4" cy="395.9" r="2.3"/><circle cx="254.6" cy="326.2" r="2.3"/><circle cx="161" cy="384.4" r="2.3"/><circle cx="127.8" cy="394.1" r="2.3"/><circle cx="204.7" cy="289.4" r="2.3"/><circle cx="218.5" cy="295.7" r="2.3"/><circle cx="192.1" cy="308" r="2.3"/><circle cx="120.3" cy="390.4" r="2.3"/><circle cx="122.5" cy="339.4" r="2.3"/><circle cx="256" cy="284.1" r="2.3"/><circle cx="266.2" cy="301.4" r="2.3"/><circle cx="109.3" cy="393" r="2.3"/><circle cx="213.6" cy="298.3" r="2.3"/><circle cx="174.3" cy="313.6" r="2.3"/><circle cx="132.8" cy="390.8" r="2.3"/><circle cx="229.6" cy="348.3" r="2.3"/><circle cx="143.8" cy="329.1" r="2.3"/><circle cx="252.3" cy="330.2" r="2.3"/><circle cx="255" cy="289.2" r="2.3"/><circle cx="151.6" cy="383.1" r="2.3"/><circle cx="153" cy="318.4" r="2.3"/><circle cx="289.1" cy="276.5" r="2.3"/><circle cx="164.2" cy="388.6" r="2.3"/><circle cx="276.3" cy="293.5" r="2.3"/><circle cx="255.1" cy="328.1" r="2.3"/><circle cx="202.9" cy="303.9" r="2.3"/><circle cx="118.5" cy="345.5" r="2.3"/><circle cx="137.2" cy="393.8" r="2.3"/><circle cx="92" cy="376.3" r="2.3"/><circle cx="119.8" cy="343.9" r="2.3"/><circle cx="248.2" cy="287.8" r="2.3"/><circle cx="271" cy="281.7" r="2.3"/><circle cx="118.2" cy="344.5" r="2.3"/><circle cx="106" cy="393.5" r="2.3"/><circle cx="192.2" cy="308.1" r="2.3"/><circle cx="137.2" cy="393.6" r="2.3"/><circle cx="109.6" cy="388.5" r="2.3"/><circle cx="282.5" cy="282.5" r="2.3"/><circle cx="272.6" cy="278.5" r="2.3"/><circle cx="121.4" cy="386.8" r="2.3"/><circle cx="271.6" cy="297.7" r="2.3"/><circle cx="177.7" cy="309.8" r="2.3"/><circle cx="174.6" cy="309.8" r="2.3"/><circle cx="212" cy="302.1" r="2.3"/><circle cx="168.3" cy="309" r="2.3"/><circle cx="143.6" cy="382.2" r="2.3"/><circle cx="157.7" cy="384" r="2.3"/><circle cx="190.4" cy="375.3" r="2.3"/><circle cx="163.4" cy="314" r="2.3"/><circle cx="249.9" cy="293.5" r="2.3"/><circle cx="221.3" cy="297.7" r="2.3"/><circle cx="265" cy="282.9" r="2.3"/><circle cx="254.2" cy="327.6" r="2.3"/><circle cx="208.3" cy="363.4" r="2.3"/><circle cx="172.3" cy="314.9" r="2.3"/><circle cx="133" cy="382.2" r="2.3"/><circle cx="88.7" cy="377.9" r="2.3"/><circle cx="144.3" cy="385.1" r="2.3"/><circle cx="123.6" cy="381.4" r="2.3"/><circle cx="103.4" cy="358" r="2.3"/><circle cx="271" cy="300.2" r="2.3"/><circle cx="94.4" cy="390.8" r="2.3"/><circle cx="259" cy="281.9" r="2.3"/><circle cx="199.5" cy="303.1" r="2.3"/><circle cx="133.6" cy="386.7" r="2.3"/><circle cx="155.6" cy="380.1" r="2.3"/><circle cx="213" cy="296.7" r="2.3"/><circle cx="222.8" cy="294.6" r="2.3"/><circle cx="217" cy="294.3" r="2.3"/><circle cx="195.8" cy="305" r="2.3"/><circle cx="120.7" cy="341" r="2.3"/><circle cx="96.2" cy="390.2" r="2.3"/><circle cx="248.6" cy="340.1" r="2.3"/><circle cx="237.7" cy="344.3" r="2.3"/><circle cx="117.4" cy="393.7" r="2.3"/><circle cx="210.3" cy="295.7" r="2.3"/><circle cx="160.7" cy="388.6" r="2.3"/><circle cx="286.7" cy="273.6" r="2.3"/><circle cx="192.1" cy="303.3" r="2.3"/><circle cx="245.7" cy="293.5" r="2.3"/><circle cx="266.5" cy="282.8" r="2.3"/><circle cx="189.5" cy="380.4" r="2.3"/><circle cx="211.8" cy="299.2" r="2.3"/><circle cx="274.5" cy="283.4" r="2.3"/><circle cx="282" cy="280.4" r="2.3"/><circle cx="279.4" cy="276.6" r="2.3"/><circle cx="189.4" cy="375" r="2.3"/><circle cx="130" cy="386.3" r="2.3"/><circle cx="263.1" cy="281.9" r="2.3"/><circle cx="274.5" cy="267.5" r="2.3"/><circle cx="115.8" cy="390.5" r="2.3"/><circle cx="166.2" cy="313.1" r="2.3"/><circle cx="198.9" cy="300.8" r="2.3"/><circle cx="170.1" cy="390" r="2.3"/><circle cx="269.7" cy="303" r="2.3"/><circle cx="141.6" cy="389" r="2.3"/><circle cx="223.4" cy="357.7" r="2.3"/><circle cx="95.9" cy="393.8" r="2.3"/><circle cx="167.6" cy="385.1" r="2.3"/><circle cx="250" cy="293.9" r="2.3"/><circle cx="266" cy="285.3" r="2.3"/><circle cx="278.1" cy="283.8" r="2.3"/><circle cx="164.2" cy="379.2" r="2.3"/><circle cx="274.6" cy="291.4" r="2.3"/><circle cx="228.5" cy="292.9" r="2.3"/><circle cx="143" cy="385.8" r="2.3"/><circle cx="266.6" cy="278.8" r="2.3"/><circle cx="198.4" cy="306.2" r="2.3"/><circle cx="88" cy="393.9" r="2.3"/><circle cx="273.5" cy="298.4" r="2.3"/><circle cx="86.3" cy="398" r="2.3"/><circle cx="205.3" cy="302.2" r="2.3"/><circle cx="244.8" cy="290.9" r="2.3"/><circle cx="84.6" cy="393.7" r="2.3"/><circle cx="183.8" cy="307.1" r="2.3"/><circle cx="159.3" cy="380.1" r="2.3"/><circle cx="127.4" cy="336.9" r="2.3"/><circle cx="231.3" cy="298.9" r="2.3"/><circle cx="86.9" cy="378.6" r="2.3"/><circle cx="152.1" cy="388" r="2.3"/><circle cx="260.3" cy="317.9" r="2.3"/><circle cx="201.3" cy="302" r="2.3"/><circle cx="261.7" cy="320.1" r="2.3"/><circle cx="181.5" cy="308.5" r="2.3"/><circle cx="159.2" cy="314.8" r="2.3"/><circle cx="188.9" cy="301.1" r="2.3"/><circle cx="270" cy="281.2" r="2.3"/><circle cx="208.7" cy="305.3" r="2.3"/><circle cx="171.7" cy="386.3" r="2.3"/><circle cx="116.1" cy="391.8" r="2.3"/><circle cx="94.6" cy="371" r="2.3"/><circle cx="140.8" cy="391.8" r="2.3"/><circle cx="101.1" cy="394.6" r="2.3"/><circle cx="92.7" cy="370" r="2.3"/><circle cx="148.7" cy="323.4" r="2.3"/><circle cx="155.4" cy="319" r="2.3"/><circle cx="228.1" cy="303" r="2.3"/><circle cx="222.4" cy="302.9" r="2.3"/><circle cx="88.6" cy="373.7" r="2.3"/><circle cx="93.1" cy="397.1" r="2.3"/><circle cx="120.7" cy="345.4" r="2.3"/><circle cx="155.7" cy="387.6" r="2.3"/><circle cx="165.2" cy="381.9" r="2.3"/><circle cx="194.7" cy="308.7" r="2.3"/><circle cx="202.2" cy="306.5" r="2.3"/><circle cx="204.2" cy="305.9" r="2.3"/><circle cx="286" cy="282.1" r="2.3"/><circle cx="288.6" cy="279.1" r="2.3"/><circle cx="135.2" cy="331.4" r="2.3"/><circle cx="273.8" cy="278.7" r="2.3"/><circle cx="231" cy="295.9" r="2.3"/><circle cx="177.9" cy="385.2" r="2.3"/><circle cx="243" cy="344.8" r="2.3"/><circle cx="207.5" cy="305.4" r="2.3"/><circle cx="112.5" cy="394.9" r="2.3"/><circle cx="173.4" cy="390.3" r="2.3"/><circle cx="238" cy="288.8" r="2.3"/><circle cx="190.7" cy="378" r="2.3"/><circle cx="88" cy="395.2" r="2.3"/><circle cx="208" cy="306.4" r="2.3"/><circle cx="133.6" cy="387.7" r="2.3"/><circle cx="118.4" cy="344.5" r="2.3"/><circle cx="276.5" cy="282.3" r="2.3"/><circle cx="262.8" cy="279.7" r="2.3"/><circle cx="186.1" cy="309.5" r="2.3"/><circle cx="229.7" cy="297.4" r="2.3"/><circle cx="100.7" cy="397.8" r="2.3"/><circle cx="242.8" cy="344.1" r="2.3"/><circle cx="172.6" cy="308.5" r="2.3"/><circle cx="140.1" cy="399.9" r="2.3"/><circle cx="269.4" cy="304" r="2.3"/><circle cx="206.2" cy="367.9" r="2.3"/><circle cx="260.8" cy="280.7" r="2.3"/><circle cx="194.2" cy="376.1" r="2.3"/><circle cx="90.7" cy="395.1" r="2.3"/><circle cx="146.4" cy="386.2" r="2.3"/><circle cx="167.3" cy="379" r="2.3"/><circle cx="237.6" cy="289.2" r="2.3"/><circle cx="217.5" cy="359.4" r="2.3"/><circle cx="112" cy="393.6" r="2.3"/><circle cx="154.1" cy="380.5" r="2.3"/><circle cx="238.4" cy="345.8" r="2.3"/><circle cx="133.1" cy="333.5" r="2.3"/><circle cx="136.1" cy="387.2" r="2.3"/><circle cx="162.6" cy="385.8" r="2.3"/><circle cx="235.9" cy="297.8" r="2.3"/><circle cx="119.7" cy="393" r="2.3"/><circle cx="101.5" cy="397.5" r="2.3"/><circle cx="114.4" cy="392" r="2.3"/><circle cx="145.9" cy="380.9" r="2.3"/><circle cx="197.4" cy="303.6" r="2.3"/><circle cx="174.3" cy="311.2" r="2.3"/><circle cx="166" cy="313" r="2.3"/><circle cx="244.8" cy="293.3" r="2.3"/><circle cx="121.7" cy="389" r="2.3"/><circle cx="102.6" cy="360.2" r="2.3"/><circle cx="102.9" cy="392.9" r="2.3"/><circle cx="122.6" cy="341.2" r="2.3"/><circle cx="112.8" cy="394.2" r="2.3"/><circle cx="205.6" cy="296.4" r="2.3"/><circle cx="172.5" cy="390.7" r="2.3"/><circle cx="125.9" cy="389.8" r="2.3"/><circle cx="174.8" cy="314.8" r="2.3"/><circle cx="277.7" cy="287.6" r="2.3"/><circle cx="256.3" cy="323.7" r="2.3"/><circle cx="82.7" cy="392.4" r="2.3"/><circle cx="142.2" cy="325.6" r="2.3"/><circle cx="174" cy="389.1" r="2.3"/><circle cx="231.3" cy="295.2" r="2.3"/><circle cx="123" cy="394" r="2.3"/><circle cx="256.3" cy="325.1" r="2.3"/><circle cx="193" cy="377.9" r="2.3"/><circle cx="168.6" cy="383.5" r="2.3"/><circle cx="166.1" cy="389.8" r="2.3"/><circle cx="185.3" cy="382.7" r="2.3"/><circle cx="267.2" cy="310.2" r="2.3"/><circle cx="258.7" cy="322.9" r="2.3"/><circle cx="210.5" cy="303.3" r="2.3"/><circle cx="234" cy="289.2" r="2.3"/><circle cx="159.2" cy="380.3" r="2.3"/><circle cx="99.9" cy="365.2" r="2.3"/><circle cx="254.4" cy="328" r="2.3"/><circle cx="284.1" cy="277.6" r="2.3"/><circle cx="136" cy="383.1" r="2.3"/><circle cx="273" cy="300.9" r="2.3"/><circle cx="237.3" cy="296.9" r="2.3"/><circle cx="126.8" cy="390.8" r="2.3"/><circle cx="214" cy="297.7" r="2.3"/><circle cx="226.7" cy="301.3" r="2.3"/><circle cx="278.2" cy="277.5" r="2.3"/><circle cx="119.8" cy="342.6" r="2.3"/><circle cx="169.2" cy="388.5" r="2.3"/><circle cx="83.7" cy="378.2" r="2.3"/><circle cx="249.9" cy="285.1" r="2.3"/><circle cx="134.7" cy="333.6" r="2.3"/><circle cx="104.3" cy="395.9" r="2.3"/><circle cx="264.7" cy="312" r="2.3"/><circle cx="274.9" cy="289.2" r="2.3"/><circle cx="87.1" cy="393.3" r="2.3"/><circle cx="225.5" cy="304.4" r="2.3"/><circle cx="169.1" cy="389.2" r="2.3"/><circle cx="210.7" cy="302.5" r="2.3"/><circle cx="232" cy="293.7" r="2.3"/><circle cx="264" cy="314.6" r="2.3"/><circle cx="195.1" cy="376.3" r="2.3"/><circle cx="163.6" cy="374.9" r="2.3"/><circle cx="122.1" cy="387.3" r="2.3"/><circle cx="194.8" cy="300.7" r="2.3"/><circle cx="183.8" cy="308.4" r="2.3"/><circle cx="241.7" cy="297.1" r="2.3"/><circle cx="213" cy="363.1" r="2.3"/><circle cx="294.2" cy="272.4" r="2.3"/><circle cx="276.7" cy="289" r="2.3"/><circle cx="102.9" cy="393.6" r="2.3"/><circle cx="151.2" cy="386.6" r="2.3"/><circle cx="272.1" cy="279.8" r="2.3"/><circle cx="180.6" cy="312.6" r="2.3"/><circle cx="197" cy="303.9" r="2.3"/><circle cx="149.8" cy="387.6" r="2.3"/><circle cx="157.7" cy="381.9" r="2.3"/><circle cx="165.8" cy="380.2" r="2.3"/><circle cx="142.9" cy="391.7" r="2.3"/><circle cx="145.3" cy="324.3" r="2.3"/><circle cx="146" cy="326" r="2.3"/><circle cx="273.3" cy="283.2" r="2.3"/><circle cx="167.9" cy="393" r="2.3"/><circle cx="177.8" cy="311.7" r="2.3"/><circle cx="105.1" cy="386.2" r="2.3"/><circle cx="105.4" cy="363.4" r="2.3"/><circle cx="101.9" cy="387.6" r="2.3"/><circle cx="101.5" cy="373.1" r="2.3"/><circle cx="92.5" cy="366.7" r="2.3"/><circle cx="106.8" cy="368.6" r="2.3"/><circle cx="105.7" cy="383.5" r="2.3"/><circle cx="87.5" cy="390.1" r="2.3"/><circle cx="98" cy="364.8" r="2.3"/><circle cx="104.2" cy="388" r="2.3"/><circle cx="103.8" cy="360.7" r="2.3"/><circle cx="98.4" cy="380" r="2.3"/><circle cx="95.6" cy="392" r="2.3"/><circle cx="90.1" cy="383.8" r="2.3"/><circle cx="96.7" cy="379.5" r="2.3"/><circle cx="95.1" cy="369.2" r="2.3"/><circle cx="87.4" cy="394.6" r="2.3"/><circle cx="106.3" cy="372" r="2.3"/><circle cx="99.2" cy="380.5" r="2.3"/><circle cx="94.6" cy="386.9" r="2.3"/><circle cx="97.2" cy="368.3" r="2.3"/><circle cx="83.3" cy="382.9" r="2.3"/><circle cx="88.1" cy="385.4" r="2.3"/><circle cx="104" cy="392.7" r="2.3"/><circle cx="100" cy="374.8" r="2.3"/><circle cx="97.7" cy="367.8" r="2.3"/><circle cx="86.3" cy="393.7" r="2.3"/><circle cx="105.8" cy="356.1" r="2.3"/><circle cx="86.1" cy="381.6" r="2.3"/><circle cx="85.2" cy="375.7" r="2.3"/><circle cx="106.5" cy="367.1" r="2.3"/><circle cx="95.9" cy="375.6" r="2.3"/><circle cx="97.8" cy="367.9" r="2.3"/><circle cx="104.1" cy="361.4" r="2.3"/><circle cx="104.2" cy="388.9" r="2.3"/><circle cx="88.6" cy="379" r="2.3"/><circle cx="97.6" cy="362.7" r="2.3"/><circle cx="83.7" cy="391.1" r="2.3"/><circle cx="104.9" cy="378.8" r="2.3"/><circle cx="86.4" cy="390.8" r="2.3"/><circle cx="106.9" cy="363.2" r="2.3"/><circle cx="104.2" cy="387.2" r="2.3"/><circle cx="103.4" cy="398.2" r="2.3"/><circle cx="89" cy="380.9" r="2.3"/><circle cx="100.2" cy="380.7" r="2.3"/><circle cx="106.9" cy="381.5" r="2.3"/><circle cx="90.5" cy="393" r="2.3"/><circle cx="102.2" cy="364.8" r="2.3"/><circle cx="103.9" cy="371.8" r="2.3"/><circle cx="82.9" cy="392" r="2.3"/><circle cx="87.4" cy="391.6" r="2.3"/><circle cx="82.6" cy="388.8" r="2.3"/><circle cx="89.9" cy="382.2" r="2.3"/><circle cx="106.9" cy="387.5" r="2.3"/><circle cx="90.9" cy="391.3" r="2.3"/><circle cx="84.1" cy="387.3" r="2.3"/><circle cx="97.6" cy="376.5" r="2.3"/><circle cx="106.9" cy="372" r="2.3"/><circle cx="99" cy="364.4" r="2.3"/><circle cx="105" cy="375.4" r="2.3"/><circle cx="288.6" cy="280" r="2.3"/><circle cx="285.6" cy="273.1" r="2.3"/><circle cx="286.5" cy="279.9" r="2.3"/><circle cx="288.5" cy="275.8" r="2.3"/><circle cx="280.4" cy="282.3" r="2.3"/><circle cx="293.6" cy="268.7" r="2.3"/><circle cx="299.5" cy="268.5" r="2.3"/><circle cx="289" cy="271" r="2.3"/><circle cx="290.8" cy="269.4" r="2.3"/><circle cx="283.8" cy="283.1" r="2.3"/><circle cx="299.1" cy="270.7" r="2.3"/><circle cx="282" cy="283.6" r="2.3"/><circle cx="295.4" cy="268.9" r="2.3"/><circle cx="280.4" cy="280.4" r="2.3"/><circle cx="275.6" cy="283.7" r="2.3"/><circle cx="296.8" cy="271.4" r="2.3"/><circle cx="291.6" cy="272.9" r="2.3"/><circle cx="297.1" cy="270.3" r="2.3"/><circle cx="296.7" cy="272.3" r="2.3"/><circle cx="296.5" cy="271.5" r="2.3"/><circle cx="292.1" cy="274.2" r="2.3"/><circle cx="279.5" cy="280.6" r="2.3"/><circle cx="297.2" cy="268.4" r="2.3"/><circle cx="278.8" cy="271.1" r="2.3"/><circle cx="296.2" cy="269.4" r="2.3"/><circle cx="289.1" cy="276.9" r="2.3"/><circle cx="283.6" cy="274.6" r="2.3"/><circle cx="289.7" cy="277" r="2.3"/><circle cx="291" cy="271.7" r="2.3"/><circle cx="274" cy="285.3" r="2.3"/><circle cx="275" cy="284.8" r="2.3"/><circle cx="289.8" cy="275.5" r="2.3"/><circle cx="297.5" cy="270.2" r="2.3"/><circle cx="297.4" cy="268" r="2.3"/><circle cx="282.4" cy="271.2" r="2.3"/><circle cx="276.1" cy="281.4" r="2.3"/><circle cx="299.5" cy="268" r="2.3"/><circle cx="297.6" cy="268.7" r="2.3"/><circle cx="288.4" cy="273.6" r="2.3"/><circle cx="291.4" cy="271.8" r="2.3"/><circle cx="283.9" cy="278.3" r="2.3"/><circle cx="281" cy="274.8" r="2.3"/><circle cx="284.5" cy="278.9" r="2.3"/><circle cx="299.1" cy="267.7" r="2.3"/><circle cx="275.9" cy="280.4" r="2.3"/><circle cx="280.3" cy="280.8" r="2.3"/><circle cx="277.5" cy="282.7" r="2.3"/><circle cx="279.7" cy="279.2" r="2.3"/><circle cx="276" cy="269.5" r="2.3"/><circle cx="283.7" cy="277.4" r="2.3"/><circle cx="291.4" cy="273" r="2.3"/><circle cx="284.6" cy="282.2" r="2.3"/><circle cx="280.3" cy="276.4" r="2.3"/><circle cx="290.6" cy="273.9" r="2.3"/><circle cx="283.1" cy="278.6" r="2.3"/><circle cx="280.8" cy="279.9" r="2.3"/><circle cx="290.9" cy="275.9" r="2.3"/><circle cx="293.2" cy="276.9" r="2.3"/><circle cx="272.2" cy="280.6" r="2.3"/><circle cx="290.4" cy="268.8" r="2.3"/><circle cx="287.9" cy="276.1" r="2.3"/><circle cx="295.1" cy="271.5" r="2.3"/><circle cx="283.9" cy="283" r="2.3"/><circle cx="276.7" cy="272.1" r="2.3"/><circle cx="286.3" cy="273.6" r="2.3"/><circle cx="277.5" cy="282.5" r="2.3"/><circle cx="278.4" cy="282.2" r="2.3"/><circle cx="298.5" cy="268.8" r="2.3"/><circle cx="278.8" cy="277.2" r="2.3"/><circle cx="294.7" cy="273.3" r="2.3"/><circle cx="73.5" cy="394" r="2.3"/><circle cx="76.6" cy="404.9" r="2.3"/><circle cx="77.3" cy="398.2" r="2.3"/><circle cx="80.8" cy="404.2" r="2.3"/><circle cx="77.5" cy="396.6" r="2.3"/><circle cx="77.1" cy="394.2" r="2.3"/>
</g>
<path d="M79.2 408.7L299.6 267" stroke="#002800" stroke-opacity=".55" stroke-width=".8" stroke-dasharray="3.4 1.8" fill="none"/>
<path d="M156.3 305.9l2.4 4.5h-4.7zM136.9 306l2.4 4.5h-4.7zM140.3 313.2l2.4 4.5h-4.7zM172.4 297.2l2.4 4.5h-4.7zM150.6 294.7l2.4 4.5h-4.7zM174.1 300.3l2.4 4.5h-4.7zM145.7 307.1l2.4 4.5h-4.7zM158.6 308.3l2.4 4.5h-4.7zM165.4 304.9l2.4 4.5h-4.7zM168.4 301l2.4 4.5h-4.7zM151.7 306l2.4 4.5h-4.7zM139.3 317.8l2.4 4.5h-4.7zM144.5 307l2.4 4.5h-4.7zM139.3 311.8l2.4 4.5h-4.7zM142.7 307.1l2.4 4.5h-4.7zM175.4 299.3l2.4 4.5h-4.7zM145.5 309.1l2.4 4.5h-4.7zM146.1 313.5l2.4 4.5h-4.7zM141.8 297.5l2.4 4.5h-4.7zM152.8 309.8l2.4 4.5h-4.7zM149.1 300.5l2.4 4.5h-4.7zM126.6 317l2.4 4.5h-4.7zM145.8 306.1l2.4 4.5h-4.7zM130.6 312.6l2.4 4.5h-4.7zM140.8 305.1l2.4 4.5h-4.7zM158.1 309.5l2.4 4.5h-4.7zM154.4 300.7l2.4 4.5h-4.7zM175.2 293.9l2.4 4.5h-4.7zM165.3 295.4l2.4 4.5h-4.7zM136.3 309.5l2.4 4.5h-4.7zM153.3 308.2l2.4 4.5h-4.7zM158.7 309.9l2.4 4.5h-4.7zM160.4 307.8l2.4 4.5h-4.7zM151.1 308.1l2.4 4.5h-4.7zM154.6 312.7l2.4 4.5h-4.7zM152.1 311.9l2.4 4.5h-4.7zM160.4 307.5l2.4 4.5h-4.7zM167 297.5l2.4 4.5h-4.7zM142.4 311.6l2.4 4.5h-4.7zM164.1 305.9l2.4 4.5h-4.7zM146.3 302.5l2.4 4.5h-4.7zM158.2 297.9l2.4 4.5h-4.7zM164.2 303.8l2.4 4.5h-4.7zM146.3 302.6l2.4 4.5h-4.7zM153 303.9l2.4 4.5h-4.7zM161.8 301.1l2.4 4.5h-4.7zM172.5 299.2l2.4 4.5h-4.7zM155.9 308.2l2.4 4.5h-4.7zM130 314.7l2.4 4.5h-4.7zM126.9 318.6l2.4 4.5h-4.7zM140.7 304.1l2.4 4.5h-4.7zM145 306.5l2.4 4.5h-4.7zM166.6 300.6l2.4 4.5h-4.7zM141.6 317.1l2.4 4.5h-4.7zM158 308.3l2.4 4.5h-4.7zM133.3 310.8l2.4 4.5h-4.7zM142.4 314.6l2.4 4.5h-4.7zM132.3 310.8l2.4 4.5h-4.7zM137.4 316.8l2.4 4.5h-4.7zM157.2 309.5l2.4 4.5h-4.7zM121.4 319.3l2.4 4.5h-4.7zM143.7 295.9l2.4 4.5h-4.7zM160 305.6l2.4 4.5h-4.7zM138.5 309.9l2.4 4.5h-4.7zM162 307.5l2.4 4.5h-4.7zM154.5 302.3l2.4 4.5h-4.7zM164.7 299.3l2.4 4.5h-4.7zM151.8 312.4l2.4 4.5h-4.7zM130.7 307.5l2.4 4.5h-4.7zM162.8 305.1l2.4 4.5h-4.7zM129.6 320.3l2.4 4.5h-4.7zM159.4 301.2l2.4 4.5h-4.7zM161.9 305.5l2.4 4.5h-4.7zM164.1 300.7l2.4 4.5h-4.7zM128.6 318.8l2.4 4.5h-4.7zM163.8 303.5l2.4 4.5h-4.7zM155 300.7l2.4 4.5h-4.7zM162.8 304.6l2.4 4.5h-4.7zM158.5 305.7l2.4 4.5h-4.7zM152.9 299.5l2.4 4.5h-4.7zM149.7 303.7l2.4 4.5h-4.7zM157.7 297l2.4 4.5h-4.7zM164.2 305.9l2.4 4.5h-4.7zM139.6 302.9l2.4 4.5h-4.7zM135.7 307l2.4 4.5h-4.7zM154.8 309.9l2.4 4.5h-4.7zM148.2 308.4l2.4 4.5h-4.7zM160.8 301.3l2.4 4.5h-4.7zM147.5 309.9l2.4 4.5h-4.7zM162.3 304.9l2.4 4.5h-4.7zM154.9 310.7l2.4 4.5h-4.7zM167 299.1l2.4 4.5h-4.7zM142.8 319.9l2.4 4.5h-4.7zM165.3 302.5l2.4 4.5h-4.7zM145.1 313.7l2.4 4.5h-4.7zM128.4 306.2l2.4 4.5h-4.7zM154.5 309.5l2.4 4.5h-4.7zM141.9 317.3l2.4 4.5h-4.7zM166.9 304.5l2.4 4.5h-4.7zM142.2 310l2.4 4.5h-4.7zM130.9 318l2.4 4.5h-4.7zM148.6 316.3l2.4 4.5h-4.7zM157.2 300.5l2.4 4.5h-4.7zM139.2 302.6l2.4 4.5h-4.7zM163.4 297.2l2.4 4.5h-4.7zM165.2 306.3l2.4 4.5h-4.7zM170.4 299.4l2.4 4.5h-4.7zM124.2 319.1l2.4 4.5h-4.7zM169 298.6l2.4 4.5h-4.7zM138.8 316.5l2.4 4.5h-4.7zM137.8 314.6l2.4 4.5h-4.7zM149.8 305.6l2.4 4.5h-4.7zM147.5 302.5l2.4 4.5h-4.7zM164.6 301.7l2.4 4.5h-4.7zM155.3 298.9l2.4 4.5h-4.7zM157.6 310.1l2.4 4.5h-4.7zM139.9 318.4l2.4 4.5h-4.7zM145.3 314.5l2.4 4.5h-4.7zM167.3 300.2l2.4 4.5h-4.7zM168 296.7l2.4 4.5h-4.7zM151.6 300.8l2.4 4.5h-4.7zM150.3 305l2.4 4.5h-4.7zM143.1 308.8l2.4 4.5h-4.7zM143.5 317.5l2.4 4.5h-4.7zM128 313.4l2.4 4.5h-4.7zM142.7 318.6l2.4 4.5h-4.7zM156.1 304.9l2.4 4.5h-4.7zM153.5 313.4l2.4 4.5h-4.7zM162.1 304l2.4 4.5h-4.7zM152.9 313.8l2.4 4.5h-4.7zM137.7 308.7l2.4 4.5h-4.7zM135.5 311.1l2.4 4.5h-4.7zM163.3 306.6l2.4 4.5h-4.7zM164.4 305.6l2.4 4.5h-4.7zM172.1 298.8l2.4 4.5h-4.7zM166.2 303l2.4 4.5h-4.7zM163.5 305.5l2.4 4.5h-4.7zM144.1 293.1l2.4 4.5h-4.7zM140.8 299.3l2.4 4.5h-4.7zM154.7 291.8l2.4 4.5h-4.7zM157.7 311.3l2.4 4.5h-4.7zM168.3 301.4l2.4 4.5h-4.7zM155.6 312.5l2.4 4.5h-4.7zM136.3 316.2l2.4 4.5h-4.7zM140.7 319.2l2.4 4.5h-4.7zM142.8 319.6l2.4 4.5h-4.7zM150.1 298.3l2.4 4.5h-4.7zM146.4 307.4l2.4 4.5h-4.7zM162 300.8l2.4 4.5h-4.7zM152.4 311.8l2.4 4.5h-4.7zM141 314.2l2.4 4.5h-4.7zM153.4 311.3l2.4 4.5h-4.7zM174.3 300.2l2.4 4.5h-4.7zM165.1 306.2l2.4 4.5h-4.7zM165.8 299.2l2.4 4.5h-4.7zM166.2 301.8l2.4 4.5h-4.7zM144.8 311.8l2.4 4.5h-4.7zM171.6 299.6l2.4 4.5h-4.7zM142.5 308.4l2.4 4.5h-4.7zM172.8 296.3l2.4 4.5h-4.7zM164.6 295.6l2.4 4.5h-4.7zM143.6 316.9l2.4 4.5h-4.7zM146.1 314.1l2.4 4.5h-4.7zM145.7 316.5l2.4 4.5h-4.7zM126 311.5l2.4 4.5h-4.7zM134.5 319.3l2.4 4.5h-4.7zM139.7 312.7l2.4 4.5h-4.7zM146.5 317.4l2.4 4.5h-4.7zM168.6 304.2l2.4 4.5h-4.7zM143.4 293.7l2.4 4.5h-4.7zM148.2 306.4l2.4 4.5h-4.7zM157.7 311.2l2.4 4.5h-4.7zM163.7 291.3l2.4 4.5h-4.7zM159.8 297.4l2.4 4.5h-4.7zM150.7 313.2l2.4 4.5h-4.7zM158.4 305.4l2.4 4.5h-4.7zM159.8 304l2.4 4.5h-4.7zM119.7 317.3l2.4 4.5h-4.7zM168.9 302l2.4 4.5h-4.7zM168.4 303.5l2.4 4.5h-4.7zM152.7 304.7l2.4 4.5h-4.7zM172.7 300.4l2.4 4.5h-4.7zM144.1 318.7l2.4 4.5h-4.7zM174.9 296.6l2.4 4.5h-4.7zM166.3 300.7l2.4 4.5h-4.7zM152.9 299.3l2.4 4.5h-4.7zM152.1 314l2.4 4.5h-4.7zM157.7 300.6l2.4 4.5h-4.7zM151.9 314l2.4 4.5h-4.7zM143.2 316.3l2.4 4.5h-4.7zM159.8 298.6l2.4 4.5h-4.7zM155.7 304.5l2.4 4.5h-4.7zM160.7 306.1l2.4 4.5h-4.7zM162.1 304.5l2.4 4.5h-4.7zM135.1 311.9l2.4 4.5h-4.7zM143.9 297.9l2.4 4.5h-4.7zM155.1 309.5l2.4 4.5h-4.7zM171.1 302.5l2.4 4.5h-4.7zM156.5 305.5l2.4 4.5h-4.7zM168.9 301.3l2.4 4.5h-4.7zM166.7 301.6l2.4 4.5h-4.7zM173.9 299.6l2.4 4.5h-4.7zM155.2 306.8l2.4 4.5h-4.7zM144.3 304l2.4 4.5h-4.7zM174.6 297.7l2.4 4.5h-4.7zM134.1 316.5l2.4 4.5h-4.7zM155.4 303l2.4 4.5h-4.7zM125.9 305l2.4 4.5h-4.7zM158.9 291.7l2.4 4.5h-4.7zM163 289.7l2.4 4.5h-4.7zM123.6 295.1l2.4 4.5h-4.7zM142.5 276l2.4 4.5h-4.7zM167.5 285.9l2.4 4.5h-4.7zM118.4 315.4l2.4 4.5h-4.7zM136.6 295.3l2.4 4.5h-4.7zM139.9 296.2l2.4 4.5h-4.7zM143.4 293.8l2.4 4.5h-4.7zM167.6 290.9l2.4 4.5h-4.7zM245.3 360.1l2.4 4.5h-4.7zM253.9 349.6l2.4 4.5h-4.7zM254.6 350.6l2.4 4.5h-4.7zM220.7 363.4l2.4 4.5h-4.7zM230.8 357.8l2.4 4.5h-4.7zM216.9 377.5l2.4 4.5h-4.7zM226.9 373.8l2.4 4.5h-4.7zM221.3 359.2l2.4 4.5h-4.7zM229.8 357.3l2.4 4.5h-4.7zM218.6 373.6l2.4 4.5h-4.7zM223.8 366.1l2.4 4.5h-4.7zM222.9 382.9l2.4 4.5h-4.7zM219.4 386.8l2.4 4.5h-4.7zM217.6 368.3l2.4 4.5h-4.7zM230.8 365.5l2.4 4.5h-4.7zM247.9 361.8l2.4 4.5h-4.7zM236.8 360.7l2.4 4.5h-4.7zM246.9 350.9l2.4 4.5h-4.7zM230.5 361.3l2.4 4.5h-4.7zM228.9 376.3l2.4 4.5h-4.7zM231.1 358l2.4 4.5h-4.7zM256.2 350l2.4 4.5h-4.7zM254.1 355.3l2.4 4.5h-4.7zM222.2 364.6l2.4 4.5h-4.7zM258 352l2.4 4.5h-4.7zM225.1 377.9l2.4 4.5h-4.7zM226.8 366.5l2.4 4.5h-4.7zM234.2 359l2.4 4.5h-4.7zM234.2 371l2.4 4.5h-4.7zM229.9 362.6l2.4 4.5h-4.7zM223.9 372.1l2.4 4.5h-4.7zM217 370.1l2.4 4.5h-4.7zM232.6 361.1l2.4 4.5h-4.7zM232.8 363.9l2.4 4.5h-4.7zM215.7 365.5l2.4 4.5h-4.7zM242.1 357.4l2.4 4.5h-4.7zM218.9 363.2l2.4 4.5h-4.7zM243.9 362.1l2.4 4.5h-4.7zM238.3 361.8l2.4 4.5h-4.7zM256.7 346.4l2.4 4.5h-4.7zM220.2 361.1l2.4 4.5h-4.7zM255.1 347.8l2.4 4.5h-4.7zM233.9 352.6l2.4 4.5h-4.7zM225.2 357.4l2.4 4.5h-4.7zM216.9 383.5l2.4 4.5h-4.7zM238.2 353.3l2.4 4.5h-4.7zM225.6 374l2.4 4.5h-4.7zM240.2 357.1l2.4 4.5h-4.7zM244.8 355l2.4 4.5h-4.7zM237.1 361.7l2.4 4.5h-4.7zM226.6 368.7l2.4 4.5h-4.7zM219.5 377.7l2.4 4.5h-4.7zM235.5 355.5l2.4 4.5h-4.7zM230.5 355.5l2.4 4.5h-4.7zM230.6 377.7l2.4 4.5h-4.7zM220.5 378.8l2.4 4.5h-4.7zM215.9 384.6l2.4 4.5h-4.7zM244.2 356.4l2.4 4.5h-4.7zM240.4 359.7l2.4 4.5h-4.7zM231 358.2l2.4 4.5h-4.7zM217.4 365.1l2.4 4.5h-4.7zM218 364l2.4 4.5h-4.7zM236.2 356.5l2.4 4.5h-4.7zM230.1 373.3l2.4 4.5h-4.7zM221.9 361.4l2.4 4.5h-4.7zM240.2 348.5l2.4 4.5h-4.7zM235.1 364.2l2.4 4.5h-4.7zM241.9 355.1l2.4 4.5h-4.7zM220.1 360.8l2.4 4.5h-4.7zM219.5 362.6l2.4 4.5h-4.7zM235.3 369.7l2.4 4.5h-4.7zM249.6 355l2.4 4.5h-4.7zM238 357.2l2.4 4.5h-4.7zM226.8 366.4l2.4 4.5h-4.7zM239.7 357l2.4 4.5h-4.7zM243.7 352.2l2.4 4.5h-4.7zM242.3 347l2.4 4.5h-4.7zM248.7 349.8l2.4 4.5h-4.7zM229.5 372.8l2.4 4.5h-4.7zM252.8 350.1l2.4 4.5h-4.7zM247.5 350.6l2.4 4.5h-4.7zM247.5 351.7l2.4 4.5h-4.7zM230.7 375.9l2.4 4.5h-4.7zM238.2 357.7l2.4 4.5h-4.7zM238.5 365.8l2.4 4.5h-4.7zM248.8 348l2.4 4.5h-4.7zM239.7 363.7l2.4 4.5h-4.7zM245.7 361.5l2.4 4.5h-4.7zM248.9 354.3l2.4 4.5h-4.7zM233 360.1l2.4 4.5h-4.7zM219.9 363.7l2.4 4.5h-4.7zM234.7 359.1l2.4 4.5h-4.7zM246 348.9l2.4 4.5h-4.7zM227.6 376.5l2.4 4.5h-4.7zM228 361.9l2.4 4.5h-4.7zM240.1 365.1l2.4 4.5h-4.7zM242.1 354.6l2.4 4.5h-4.7zM235.9 360.8l2.4 4.5h-4.7zM220.5 379.7l2.4 4.5h-4.7zM229.9 361.3l2.4 4.5h-4.7zM229.5 359.3l2.4 4.5h-4.7zM241.9 351.2l2.4 4.5h-4.7zM216.7 371.8l2.4 4.5h-4.7zM243.1 357.3l2.4 4.5h-4.7zM218.2 374.5l2.4 4.5h-4.7zM218.1 382.2l2.4 4.5h-4.7zM223.8 359.7l2.4 4.5h-4.7zM236.8 355.6l2.4 4.5h-4.7zM219.5 365.5l2.4 4.5h-4.7zM243.2 361l2.4 4.5h-4.7zM218 377.4l2.4 4.5h-4.7zM217.6 384.8l2.4 4.5h-4.7zM240.6 357l2.4 4.5h-4.7zM245.4 349.1l2.4 4.5h-4.7zM222.2 374.3l2.4 4.5h-4.7zM219.3 375.9l2.4 4.5h-4.7zM250.1 351.5l2.4 4.5h-4.7zM221 368.5l2.4 4.5h-4.7zM223.6 370.6l2.4 4.5h-4.7zM222.5 369.6l2.4 4.5h-4.7zM228.5 378.6l2.4 4.5h-4.7zM238.9 365.1l2.4 4.5h-4.7zM234.4 358.2l2.4 4.5h-4.7zM225.2 384l2.4 4.5h-4.7zM224.7 375.9l2.4 4.5h-4.7zM246.6 359.5l2.4 4.5h-4.7zM223.3 378.5l2.4 4.5h-4.7zM234.4 366.6l2.4 4.5h-4.7zM218.8 371.8l2.4 4.5h-4.7zM249.2 360.1l2.4 4.5h-4.7zM236.5 351.5l2.4 4.5h-4.7zM242.3 355.3l2.4 4.5h-4.7zM231.8 354.8l2.4 4.5h-4.7zM235 354.7l2.4 4.5h-4.7zM229 367.9l2.4 4.5h-4.7zM226.7 371l2.4 4.5h-4.7zM234 355.9l2.4 4.5h-4.7zM250.6 351.1l2.4 4.5h-4.7zM239.1 351.7l2.4 4.5h-4.7zM222.9 369.9l2.4 4.5h-4.7zM226.7 368.8l2.4 4.5h-4.7zM223.2 376l2.4 4.5h-4.7zM228.9 365.3l2.4 4.5h-4.7zM225.8 361.4l2.4 4.5h-4.7zM236.1 368l2.4 4.5h-4.7zM225.8 372.9l2.4 4.5h-4.7zM244.5 359l2.4 4.5h-4.7zM218.7 377.4l2.4 4.5h-4.7zM248.7 359.3l2.4 4.5h-4.7zM246.9 351l2.4 4.5h-4.7zM253.4 347.9l2.4 4.5h-4.7zM247.6 353.2l2.4 4.5h-4.7zM220.5 369.2l2.4 4.5h-4.7zM232.9 359.3l2.4 4.5h-4.7zM228.1 373.2l2.4 4.5h-4.7zM224.7 368.1l2.4 4.5h-4.7zM242 352.8l2.4 4.5h-4.7zM228.7 363.2l2.4 4.5h-4.7zM233.9 357.7l2.4 4.5h-4.7zM224.1 377.9l2.4 4.5h-4.7zM245.4 352.5l2.4 4.5h-4.7zM264.4 347.2l2.4 4.5h-4.7zM238.6 372.3l2.4 4.5h-4.7zM220.1 360.6l2.4 4.5h-4.7zM238 358.6l2.4 4.5h-4.7zM222.3 365l2.4 4.5h-4.7zM235.4 372.9l2.4 4.5h-4.7zM249.6 354.4l2.4 4.5h-4.7zM247.4 359.1l2.4 4.5h-4.7zM231.8 362l2.4 4.5h-4.7zM222.7 368.1l2.4 4.5h-4.7zM254.2 355l2.4 4.5h-4.7zM240.5 367.2l2.4 4.5h-4.7zM243.6 364.9l2.4 4.5h-4.7zM221.9 361.3l2.4 4.5h-4.7zM253.5 351.6l2.4 4.5h-4.7zM228.3 376.2l2.4 4.5h-4.7zM233 353.9l2.4 4.5h-4.7zM226.2 364.7l2.4 4.5h-4.7zM229.9 366.6l2.4 4.5h-4.7zM220.5 362l2.4 4.5h-4.7zM252.2 351.2l2.4 4.5h-4.7zM235.3 364.5l2.4 4.5h-4.7zM240 350.6l2.4 4.5h-4.7zM243.8 358.9l2.4 4.5h-4.7zM236.4 357.8l2.4 4.5h-4.7zM258.6 354l2.4 4.5h-4.7zM237.8 376.8l2.4 4.5h-4.7zM251.2 357.1l2.4 4.5h-4.7zM223.4 368.7l2.4 4.5h-4.7zM236.6 364.1l2.4 4.5h-4.7zM243.4 347.1l2.4 4.5h-4.7zM255.9 348.1l2.4 4.5h-4.7zM223.3 381.1l2.4 4.5h-4.7zM219.7 366.8l2.4 4.5h-4.7zM237 351.5l2.4 4.5h-4.7zM231.4 361.7l2.4 4.5h-4.7zM263.9 350.5l2.4 4.5h-4.7zM226 359.7l2.4 4.5h-4.7zM232.6 361.1l2.4 4.5h-4.7zM234.8 375.4l2.4 4.5h-4.7zM232 375l2.4 4.5h-4.7zM254.9 347l2.4 4.5h-4.7zM232.4 367.9l2.4 4.5h-4.7zM245.9 362.3l2.4 4.5h-4.7zM240.7 362.5l2.4 4.5h-4.7zM229.4 371.5l2.4 4.5h-4.7zM219.3 364.9l2.4 4.5h-4.7zM230.3 372.2l2.4 4.5h-4.7zM222.3 375.4l2.4 4.5h-4.7zM232.4 364.5l2.4 4.5h-4.7zM239.2 369.4l2.4 4.5h-4.7zM234.5 366.6l2.4 4.5h-4.7zM238.4 354.3l2.4 4.5h-4.7zM229.6 362.5l2.4 4.5h-4.7zM250.3 353.6l2.4 4.5h-4.7zM246.6 358l2.4 4.5h-4.7zM243.8 356.6l2.4 4.5h-4.7zM225.7 378.8l2.4 4.5h-4.7zM235.2 352.2l2.4 4.5h-4.7zM218.1 382.1l2.4 4.5h-4.7zM216.3 380.6l2.4 4.5h-4.7zM246.6 348.6l2.4 4.5h-4.7zM242 349.2l2.4 4.5h-4.7zM224.3 357.8l2.4 4.5h-4.7zM224.6 367.1l2.4 4.5h-4.7zM225.8 359.8l2.4 4.5h-4.7zM236.5 359.1l2.4 4.5h-4.7zM244.7 360l2.4 4.5h-4.7zM224.4 362.4l2.4 4.5h-4.7zM243.8 366l2.4 4.5h-4.7zM231.1 354.8l2.4 4.5h-4.7zM222.1 371.7l2.4 4.5h-4.7zM236.1 356.9l2.4 4.5h-4.7zM244.8 359.3l2.4 4.5h-4.7zM236.5 352.7l2.4 4.5h-4.7zM220.3 378.9l2.4 4.5h-4.7zM235.4 383.8l2.4 4.5h-4.7zM219.5 394.9l2.4 4.5h-4.7zM247 377.2l2.4 4.5h-4.7zM227.3 382.4l2.4 4.5h-4.7zM237.6 375.4l2.4 4.5h-4.7zM247.3 363.7l2.4 4.5h-4.7zM246.7 372.7l2.4 4.5h-4.7zM216.2 388.1l2.4 4.5h-4.7zM240.4 384.8l2.4 4.5h-4.7zM263 371l2.4 4.5h-4.7zM232.4 382.8l2.4 4.5h-4.7zM122.8 280l2.4 4.5h-4.7zM128.8 285.1l2.4 4.5h-4.7zM116.8 294.2l2.4 4.5h-4.7zM124.9 292.3l2.4 4.5h-4.7zM113.8 297.3l2.4 4.5h-4.7zM107.5 312.5l2.4 4.5h-4.7zM117.2 310.2l2.4 4.5h-4.7zM127 310.5l2.4 4.5h-4.7zM158.3 285.1l2.4 4.5h-4.7zM145.3 292.3l2.4 4.5h-4.7zM140.2 296.3l2.4 4.5h-4.7zM149.3 295.2l2.4 4.5h-4.7zM272.2 366.7l2.4 4.5h-4.7zM250.9 384l2.4 4.5h-4.7zM234.6 388.5l2.4 4.5h-4.7z" fill="#ff0000" fill-opacity=".8" stroke="#ff0000" stroke-opacity=".55" stroke-width=".7"/>
<path d="M187.6 291.9l2.4 4.5h-4.7zM133.5 324.2l2.4 4.5h-4.7zM118 334.7l2.4 4.5h-4.7zM103.6 349.6l2.4 4.5h-4.7zM138.3 322l2.4 4.5h-4.7zM109.2 337.8l2.4 4.5h-4.7zM84.6 363.1l2.4 4.5h-4.7zM99.3 350.2l2.4 4.5h-4.7zM92.8 345.9l2.4 4.5h-4.7zM119.6 327.3l2.4 4.5h-4.7zM102.3 340.6l2.4 4.5h-4.7zM114.3 329.1l2.4 4.5h-4.7zM105 347l2.4 4.5h-4.7zM120 334.2l2.4 4.5h-4.7zM136.6 323.8l2.4 4.5h-4.7zM88.7 360.5l2.4 4.5h-4.7zM104.4 336.6l2.4 4.5h-4.7zM175.8 296.9l2.4 4.5h-4.7zM127.9 325.7l2.4 4.5h-4.7zM87.5 347.2l2.4 4.5h-4.7zM124.5 328.7l2.4 4.5h-4.7zM100.6 346l2.4 4.5h-4.7zM123 331.2l2.4 4.5h-4.7zM87.1 361.5l2.4 4.5h-4.7zM97.1 343.3l2.4 4.5h-4.7zM97.1 348.9l2.4 4.5h-4.7zM190.8 287.9l2.4 4.5h-4.7zM122.4 327.4l2.4 4.5h-4.7zM115.9 333.8l2.4 4.5h-4.7zM122.2 323l2.4 4.5h-4.7zM118.3 324.9l2.4 4.5h-4.7zM88.1 357l2.4 4.5h-4.7zM218 272.5l2.4 4.5h-4.7zM121.1 328.2l2.4 4.5h-4.7zM117.1 325.5l2.4 4.5h-4.7zM99.8 347.1l2.4 4.5h-4.7zM98.6 338.6l2.4 4.5h-4.7zM105.7 336.6l2.4 4.5h-4.7zM206 279.5l2.4 4.5h-4.7zM103.9 334.5l2.4 4.5h-4.7zM126.1 329.3l2.4 4.5h-4.7zM100.3 345.5l2.4 4.5h-4.7zM122.1 324.7l2.4 4.5h-4.7zM130.1 325.1l2.4 4.5h-4.7zM116.7 327.5l2.4 4.5h-4.7zM96.6 327.9l2.4 4.5h-4.7zM124.6 325.5l2.4 4.5h-4.7zM102.7 343.2l2.4 4.5h-4.7zM112.6 332.9l2.4 4.5h-4.7zM108.8 344.5l2.4 4.5h-4.7zM103.2 345.2l2.4 4.5h-4.7zM93 356l2.4 4.5h-4.7zM105.5 346.7l2.4 4.5h-4.7zM95.3 359.6l2.4 4.5h-4.7zM116.4 334.4l2.4 4.5h-4.7zM92.5 347.2l2.4 4.5h-4.7zM133.5 323.1l2.4 4.5h-4.7zM110.6 339.1l2.4 4.5h-4.7zM92.7 355.1l2.4 4.5h-4.7zM106.9 347.7l2.4 4.5h-4.7zM128.9 325.8l2.4 4.5h-4.7zM175.5 299.4l2.4 4.5h-4.7zM119 325.7l2.4 4.5h-4.7zM103.4 342.2l2.4 4.5h-4.7zM135.6 324l2.4 4.5h-4.7zM131 327.6l2.4 4.5h-4.7zM210 276.9l2.4 4.5h-4.7zM88.5 355.2l2.4 4.5h-4.7zM115.7 338.3l2.4 4.5h-4.7zM134 321l2.4 4.5h-4.7zM180.4 296.1l2.4 4.5h-4.7zM106.4 348.8l2.4 4.5h-4.7zM95.2 350.5l2.4 4.5h-4.7zM99.2 344l2.4 4.5h-4.7zM117 337.2l2.4 4.5h-4.7zM90.2 361.8l2.4 4.5h-4.7zM139.1 321.1l2.4 4.5h-4.7zM128 325l2.4 4.5h-4.7zM98.1 346.8l2.4 4.5h-4.7zM120.5 334.7l2.4 4.5h-4.7zM128.2 329.8l2.4 4.5h-4.7zM97.5 354.1l2.4 4.5h-4.7zM136.3 321.1l2.4 4.5h-4.7zM112.6 343.2l2.4 4.5h-4.7zM98.2 355.1l2.4 4.5h-4.7zM112.8 338.1l2.4 4.5h-4.7zM125.8 321.4l2.4 4.5h-4.7zM104.2 340.7l2.4 4.5h-4.7zM128.7 325l2.4 4.5h-4.7zM93.7 349.8l2.4 4.5h-4.7zM125.1 331l2.4 4.5h-4.7zM203.2 281.4l2.4 4.5h-4.7zM111.4 340.3l2.4 4.5h-4.7zM92.2 333.4l2.4 4.5h-4.7zM181.8 276.4l2.4 4.5h-4.7zM250.3 340.8l2.4 4.5h-4.7zM257.5 336.8l2.4 4.5h-4.7zM183.3 389.2l2.4 4.5h-4.7zM186.2 396.4l2.4 4.5h-4.7zM254.8 340l2.4 4.5h-4.7zM266.7 334.4l2.4 4.5h-4.7zM254.6 343.2l2.4 4.5h-4.7zM215.6 377.6l2.4 4.5h-4.7zM250.1 343.4l2.4 4.5h-4.7zM258.7 345.1l2.4 4.5h-4.7zM262.2 340.9l2.4 4.5h-4.7zM270.1 329.9l2.4 4.5h-4.7zM254.4 339.5l2.4 4.5h-4.7zM264.9 334.3l2.4 4.5h-4.7zM190.1 386l2.4 4.5h-4.7zM215.3 373.4l2.4 4.5h-4.7zM256.5 338.3l2.4 4.5h-4.7zM262.2 345.7l2.4 4.5h-4.7zM183.1 387.7l2.4 4.5h-4.7zM211 373.9l2.4 4.5h-4.7zM183.8 389.4l2.4 4.5h-4.7zM257.8 337.3l2.4 4.5h-4.7zM265.4 334.9l2.4 4.5h-4.7zM251.8 343.5l2.4 4.5h-4.7zM260 344.8l2.4 4.5h-4.7zM191.2 378.9l2.4 4.5h-4.7zM196.7 383.3l2.4 4.5h-4.7zM265 335.3l2.4 4.5h-4.7zM214.6 378.8l2.4 4.5h-4.7zM191.6 380.7l2.4 4.5h-4.7zM244.1 345.2l2.4 4.5h-4.7zM254.9 340.4l2.4 4.5h-4.7zM251.7 346.3l2.4 4.5h-4.7zM265.5 332.4l2.4 4.5h-4.7zM212.6 365l2.4 4.5h-4.7zM262.1 334.4l2.4 4.5h-4.7zM263.9 337.7l2.4 4.5h-4.7zM194 383.3l2.4 4.5h-4.7zM254.8 339.4l2.4 4.5h-4.7zM262.5 338.1l2.4 4.5h-4.7zM250.3 344l2.4 4.5h-4.7zM263.5 341.4l2.4 4.5h-4.7zM187.5 396.4l2.4 4.5h-4.7zM176.8 390.8l2.4 4.5h-4.7zM262.1 339l2.4 4.5h-4.7zM179.7 389.6l2.4 4.5h-4.7zM256.7 337.8l2.4 4.5h-4.7zM259.3 337.3l2.4 4.5h-4.7zM267.7 329.7l2.4 4.5h-4.7zM184 383.8l2.4 4.5h-4.7zM187.4 388.1l2.4 4.5h-4.7zM256.4 345.9l2.4 4.5h-4.7zM198.7 374.6l2.4 4.5h-4.7zM258.4 336.3l2.4 4.5h-4.7zM262.3 339.4l2.4 4.5h-4.7zM203.9 377.5l2.4 4.5h-4.7zM199.5 394l2.4 4.5h-4.7zM251.3 342.3l2.4 4.5h-4.7zM259.3 339.4l2.4 4.5h-4.7zM251.7 343.6l2.4 4.5h-4.7zM191.3 389.2l2.4 4.5h-4.7zM210 387.2l2.4 4.5h-4.7zM246.1 344l2.4 4.5h-4.7zM209.7 367.5l2.4 4.5h-4.7zM242.7 345.9l2.4 4.5h-4.7zM258.4 340.4l2.4 4.5h-4.7zM262.9 334.2l2.4 4.5h-4.7zM261.3 336.4l2.4 4.5h-4.7zM253 345.2l2.4 4.5h-4.7zM180.7 386.9l2.4 4.5h-4.7zM270.3 329.2l2.4 4.5h-4.7zM197.4 377.9l2.4 4.5h-4.7zM204 382.7l2.4 4.5h-4.7zM206.2 385.9l2.4 4.5h-4.7zM202.3 380.7l2.4 4.5h-4.7zM258.6 336.8l2.4 4.5h-4.7zM175.7 389.9l2.4 4.5h-4.7zM245.8 345.6l2.4 4.5h-4.7zM194.6 379.4l2.4 4.5h-4.7zM206 385.7l2.4 4.5h-4.7zM215.5 376.9l2.4 4.5h-4.7zM215.2 376.4l2.4 4.5h-4.7zM254.1 340.8l2.4 4.5h-4.7zM212.5 376.9l2.4 4.5h-4.7zM256.1 342.1l2.4 4.5h-4.7zM258.4 340.4l2.4 4.5h-4.7zM261.8 342.4l2.4 4.5h-4.7zM261.2 334.2l2.4 4.5h-4.7zM215.2 364.4l2.4 4.5h-4.7zM200.8 381.9l2.4 4.5h-4.7zM210.1 375.8l2.4 4.5h-4.7zM250 340.9l2.4 4.5h-4.7zM263.4 341.5l2.4 4.5h-4.7zM182.7 388.6l2.4 4.5h-4.7zM256 341l2.4 4.5h-4.7zM252.6 342.2l2.4 4.5h-4.7zM215.6 381.3l2.4 4.5h-4.7zM256.9 337.8l2.4 4.5h-4.7zM265.2 338.3l2.4 4.5h-4.7zM263.5 342l2.4 4.5h-4.7zM253.6 342.2l2.4 4.5h-4.7zM260.1 334.9l2.4 4.5h-4.7zM254.3 338.3l2.4 4.5h-4.7zM215.1 370.8l2.4 4.5h-4.7zM264.8 335.3l2.4 4.5h-4.7zM249.1 341.6l2.4 4.5h-4.7zM260.7 336.3l2.4 4.5h-4.7zM252.9 341.4l2.4 4.5h-4.7zM211.6 381.7l2.4 4.5h-4.7zM259.8 341.3l2.4 4.5h-4.7zM189.5 384.5l2.4 4.5h-4.7zM259.4 337.4l2.4 4.5h-4.7zM183.5 385.3l2.4 4.5h-4.7zM200 382l2.4 4.5h-4.7zM214.7 380.8l2.4 4.5h-4.7zM189.7 387l2.4 4.5h-4.7zM262.5 340.6l2.4 4.5h-4.7zM255.6 341.9l2.4 4.5h-4.7zM212.4 371.8l2.4 4.5h-4.7zM213.7 376.5l2.4 4.5h-4.7zM195.5 384.3l2.4 4.5h-4.7zM188.3 393.4l2.4 4.5h-4.7zM194.5 392.2l2.4 4.5h-4.7zM261.1 334.3l2.4 4.5h-4.7zM202.8 375.3l2.4 4.5h-4.7zM260.5 336l2.4 4.5h-4.7zM193 389l2.4 4.5h-4.7zM188.5 395.6l2.4 4.5h-4.7zM205.2 370.9l2.4 4.5h-4.7zM249 345.5l2.4 4.5h-4.7zM183.4 386.9l2.4 4.5h-4.7zM261.2 335.5l2.4 4.5h-4.7zM190.5 383.1l2.4 4.5h-4.7zM105.6 318.7l2.4 4.5h-4.7zM95.4 333.9l2.4 4.5h-4.7zM100.5 333.9l2.4 4.5h-4.7zM92.4 340l2.4 4.5h-4.7zM97.5 340l2.4 4.5h-4.7zM90.3 345.1l2.4 4.5h-4.7zM171.5 299.4l2.4 4.5h-4.7zM278.5 328.2l2.4 4.5h-4.7zM276.4 324.3l2.4 4.5h-4.7zM271.8 331.8l2.4 4.5h-4.7zM215.2 388.5l2.4 4.5h-4.7z" fill="#bfbf00" fill-opacity=".8" stroke="#bfbf00" stroke-opacity=".55" stroke-width=".7"/>
<rect x="63" y="351.2" width="148.8" height="65.8" rx="2" fill="#fff" fill-opacity=".8" stroke="#ccc" stroke-width=".9"/>
<circle cx="82.3" cy="364.4" r="2.4" fill="#008000" fill-opacity=".7" stroke="#008000" stroke-opacity=".6" stroke-width=".7"/>
<path d="M82.3 382.65l2.35 4.5h-4.7z" fill="#ff0000" fill-opacity=".8"/>
<path d="M82.3 403.25l2.35 4.5h-4.7z" fill="#bfbf00" fill-opacity=".8"/>
<text class="s" x="107.8" y="367.2" font-size="13.4" text-anchor="start">Normal</text>
<text class="s" x="107.8" y="387.8" font-size="13.4" text-anchor="start">Migrate</text>
<text class="s" x="107.8" y="408.7" font-size="13.4" text-anchor="start">High deviation</text>
<rect x="55.6" y="259.3" width="254.6" height="164.9" fill="none" stroke="#333" stroke-width="1"/>
<text class="s" x="67.4" y="443" font-size="15.5" text-anchor="middle" letter-spacing=".3">0.0</text>
<text class="s" x="50" y="422" font-size="15.5" text-anchor="end" letter-spacing=".3">0.0</text>
<text class="s" x="113.8" y="443" font-size="15.5" text-anchor="middle" letter-spacing=".3">0.2</text>
<text class="s" x="50" y="392.2" font-size="15.5" text-anchor="end" letter-spacing=".3">0.2</text>
<text class="s" x="160.2" y="443" font-size="15.5" text-anchor="middle" letter-spacing=".3">0.4</text>
<text class="s" x="50" y="362.3" font-size="15.5" text-anchor="end" letter-spacing=".3">0.4</text>
<text class="s" x="206.6" y="443" font-size="15.5" text-anchor="middle" letter-spacing=".3">0.6</text>
<text class="s" x="50" y="332.5" font-size="15.5" text-anchor="end" letter-spacing=".3">0.6</text>
<text class="s" x="253" y="443" font-size="15.5" text-anchor="middle" letter-spacing=".3">0.8</text>
<text class="s" x="50" y="302.6" font-size="15.5" text-anchor="end" letter-spacing=".3">0.8</text>
<text class="s" x="299.4" y="443" font-size="15.5" text-anchor="middle" letter-spacing=".3">1.0</text>
<text class="s" x="50" y="272.8" font-size="15.5" text-anchor="end" letter-spacing=".3">1.0</text>
<path d="M67.6 424.2v2.8M55.6 416.2h-2.8M114 424.2v2.8M55.6 386.4h-2.8M160.4 424.2v2.8M55.6 356.5h-2.8M206.8 424.2v2.8M55.6 326.7h-2.8M253.2 424.2v2.8M55.6 296.8h-2.8M299.6 424.2v2.8M55.6 267h-2.8" stroke="#000" stroke-width=".7" fill="none"/>
<text class="s" x="183.2" y="460.8" font-size="16" text-anchor="middle" letter-spacing=".4">100-th Epoch</text>
<text class="s" x="17" y="342.4" font-size="16" text-anchor="middle" transform="rotate(-90 17 342.4)" letter-spacing=".4">150-th Epoch</text>
<path d="M437.1 259.3V424.2M483.4 259.3V424.2M529.8 259.3V424.2M576.1 259.3V424.2M622.4 259.3V424.2M379.2 416.2H633.6M379.2 386.4H633.6M379.2 356.5H633.6M379.2 326.7H633.6M379.2 296.8H633.6" stroke="#d0d0d0" stroke-width=".8" fill="none"/>
<path d="M390.8 416.2L622.4 267" stroke="#000" stroke-width=".8" stroke-dasharray="3.4 1.8" fill="none"/>
<path d="M426.7 357.1 428.7 356.1 430.6 354.4 432.6 352.8 434.6 351.4 436.5 350.3 438.5 349.2 440.5 347.7 442.4 346.2 444.4 344.3 446.3 342.7 448.3 341.3 450.3 340.1 452.2 336.9 454.2 336.1 456.2 334.9 458.1 332.9 460.1 329.6 462.1 329.2 464 328.6 466 326.4 468 325.6 469.9 323.4 471.9 323.9 473.9 321.3 475.8 320.9 477.8 320.4 479.8 319.2 481.7 317.2 483.7 315.6 485.7 314.4 487.6 313.2 489.6 311.1 491.5 310.7 493.5 314.2 495.5 316.7 497.4 313.4 499.4 314.5 501.4 312.6 503.3 311.8 505.3 310.5 507.3 310.2 509.2 308.7 511.2 307.7 513.2 307 515.1 306.7 517.1 307.4 519.1 306 521 305.5 523 304.6 525 304.1 526.9 302.4 528.9 302.4 530.8 302.1 532.8 301.4 534.8 301.4 536.7 300.5 538.7 299.9 540.7 299.5 542.6 299.9 544.6 298.2 546.6 299.4 548.5 297.9 550.5 297.9 552.5 297.2 554.4 296.1 556.4 295.5 558.4 294.6 560.3 293 562.3 293.4 564.3 291.5 566.2 291.5 568.2 288.6 570.1 289.8 572.1 289.8 574.1 289.1 576 289.1 578 289.7 580 287.8 581.9 286.9 583.9 285.6 585.9 285.6 587.8 285.4 589.8 284.8 591.8 283.9 593.7 282.6 595.7 283.3 597.7 281.1 599.6 280.2 601.6 280.8 603.6 279.4 605.5 279.3 607.5 279.4 609.5 278.3 611.4 276.8 613.4 273.8 615.3 272.2 617.3 272 619.3 270.1 621.2 270.1 621.2 270.1 619.3 270.1 617.3 272 615.3 272.2 613.4 273.8 611.4 276.8 609.5 278.3 607.5 281.8 605.5 285.5 603.6 288.2 601.6 290.7 599.6 294.6 597.7 296.1 595.7 300.3 593.7 302.8 591.8 308.2 589.8 313.5 587.8 317.3 585.9 321.8 583.9 323.7 581.9 325 580 326.7 578 327.7 576 330.3 574.1 334.5 572.1 338.7 570.1 340.1 568.2 344.3 566.2 345.3 564.3 346.9 562.3 348.6 560.3 349.3 558.4 350.1 556.4 352.1 554.4 353.2 552.5 353.7 550.5 356.4 548.5 357.4 546.6 358.7 544.6 358.9 542.6 360.9 540.7 361.9 538.7 362.2 536.7 363.1 534.8 366.1 532.8 366 530.8 366.6 528.9 368 526.9 369.1 525 370.8 523 370.7 521 372.8 519.1 373.5 517.1 374.1 515.1 374.7 513.2 376.4 511.2 376.6 509.2 378.6 507.3 379.3 505.3 380.8 503.3 380.5 501.4 381.2 499.4 381.3 497.4 382.8 495.5 383.7 493.5 384.3 491.5 383.9 489.6 383.5 487.6 384.7 485.7 383.7 483.7 383.9 481.7 383.7 479.8 384.1 477.8 385.2 475.8 384.6 473.9 385.7 471.9 385.2 469.9 384.6 468 385.4 466 386.2 464 387 462.1 386.1 460.1 387 458.1 385.4 456.2 387.7 454.2 385.2 452.2 387.7 450.3 387.5 448.3 387.8 446.3 388.3 444.4 388.2 442.4 389 440.5 389.1 438.5 388.4 436.5 389.9 434.6 389.4 432.6 389.8 430.6 391.7 428.7 391.6 426.7 389.8Z" fill="#008000" stroke="#008000" stroke-width="2.4" stroke-linejoin="round"/>
<g fill="#008000" fill-opacity=".62" stroke="#008000" stroke-opacity=".5" stroke-width=".7">
<circle cx="535" cy="300.8" r="2.3"/><circle cx="588" cy="276.4" r="2.3"/><circle cx="454.6" cy="386.4" r="2.3"/><circle cx="507.6" cy="303.4" r="2.3"/><circle cx="559" cy="291.4" r="2.3"/><circle cx="461.4" cy="329.6" r="2.3"/><circle cx="531.3" cy="363.5" r="2.3"/><circle cx="601.3" cy="291.2" r="2.3"/><circle cx="535.1" cy="302" r="2.3"/><circle cx="567.7" cy="343.1" r="2.3"/><circle cx="568.9" cy="286.3" r="2.3"/><circle cx="567.5" cy="341.7" r="2.3"/><circle cx="420.7" cy="366.2" r="2.3"/><circle cx="444.1" cy="391" r="2.3"/><circle cx="559" cy="290.8" r="2.3"/><circle cx="527.7" cy="303.7" r="2.3"/><circle cx="530.4" cy="295.2" r="2.3"/><circle cx="461.6" cy="385.2" r="2.3"/><circle cx="567.9" cy="293.7" r="2.3"/><circle cx="552" cy="352.8" r="2.3"/><circle cx="585.8" cy="283.9" r="2.3"/><circle cx="509.5" cy="377.9" r="2.3"/><circle cx="613.9" cy="272.9" r="2.3"/><circle cx="486" cy="381.2" r="2.3"/><circle cx="457.9" cy="333.1" r="2.3"/><circle cx="410.1" cy="386.4" r="2.3"/><circle cx="436.5" cy="388.3" r="2.3"/><circle cx="513.7" cy="309" r="2.3"/><circle cx="463.7" cy="388.9" r="2.3"/><circle cx="522.2" cy="302.4" r="2.3"/><circle cx="558.3" cy="293.5" r="2.3"/><circle cx="523.3" cy="369.1" r="2.3"/><circle cx="593" cy="308.9" r="2.3"/><circle cx="610.6" cy="278" r="2.3"/><circle cx="509.9" cy="308" r="2.3"/><circle cx="570.5" cy="293.9" r="2.3"/><circle cx="592.6" cy="308.5" r="2.3"/><circle cx="412.9" cy="368.6" r="2.3"/><circle cx="568.6" cy="337.1" r="2.3"/><circle cx="534.8" cy="301.2" r="2.3"/><circle cx="460" cy="387.5" r="2.3"/><circle cx="468.8" cy="325.7" r="2.3"/><circle cx="440.1" cy="389.8" r="2.3"/><circle cx="456.4" cy="337.5" r="2.3"/><circle cx="583.7" cy="280.8" r="2.3"/><circle cx="602.4" cy="289.8" r="2.3"/><circle cx="444.1" cy="347.4" r="2.3"/><circle cx="483.1" cy="316" r="2.3"/><circle cx="605.8" cy="284.2" r="2.3"/><circle cx="554.8" cy="297" r="2.3"/><circle cx="470.5" cy="387.6" r="2.3"/><circle cx="503.1" cy="309.9" r="2.3"/><circle cx="431.9" cy="389.2" r="2.3"/><circle cx="443.8" cy="388.4" r="2.3"/><circle cx="423.4" cy="359.5" r="2.3"/><circle cx="574" cy="284.6" r="2.3"/><circle cx="426.2" cy="394.8" r="2.3"/><circle cx="513.5" cy="312.4" r="2.3"/><circle cx="428.7" cy="389.5" r="2.3"/><circle cx="461.1" cy="334.7" r="2.3"/><circle cx="422.8" cy="361.3" r="2.3"/><circle cx="475.5" cy="387.5" r="2.3"/><circle cx="420.2" cy="394.4" r="2.3"/><circle cx="425" cy="389.2" r="2.3"/><circle cx="585.9" cy="319.6" r="2.3"/><circle cx="508.9" cy="377" r="2.3"/><circle cx="587.5" cy="314.6" r="2.3"/><circle cx="428.3" cy="391.9" r="2.3"/><circle cx="511.3" cy="310.6" r="2.3"/><circle cx="523" cy="370.7" r="2.3"/><circle cx="484.7" cy="314.5" r="2.3"/><circle cx="501.1" cy="315.4" r="2.3"/><circle cx="519.1" cy="307.8" r="2.3"/><circle cx="461" cy="391.4" r="2.3"/><circle cx="550.1" cy="352.7" r="2.3"/><circle cx="465.8" cy="327" r="2.3"/><circle cx="600.3" cy="290.9" r="2.3"/><circle cx="532.1" cy="304" r="2.3"/><circle cx="572.3" cy="293.8" r="2.3"/><circle cx="563.2" cy="292.1" r="2.3"/><circle cx="455.1" cy="387.9" r="2.3"/><circle cx="552.6" cy="355.6" r="2.3"/><circle cx="455.2" cy="334.8" r="2.3"/><circle cx="484.7" cy="383.9" r="2.3"/><circle cx="551" cy="297" r="2.3"/><circle cx="501.2" cy="381" r="2.3"/><circle cx="510.4" cy="303" r="2.3"/><circle cx="529.4" cy="301.6" r="2.3"/><circle cx="596.7" cy="297.4" r="2.3"/><circle cx="576.7" cy="328.3" r="2.3"/><circle cx="425.6" cy="392.4" r="2.3"/><circle cx="524.5" cy="303.1" r="2.3"/><circle cx="422.6" cy="361.8" r="2.3"/><circle cx="449.8" cy="389.9" r="2.3"/><circle cx="407.3" cy="383.2" r="2.3"/><circle cx="526" cy="366.3" r="2.3"/><circle cx="605.1" cy="288.6" r="2.3"/><circle cx="614.4" cy="269.8" r="2.3"/><circle cx="411.4" cy="387.9" r="2.3"/><circle cx="572.1" cy="282.5" r="2.3"/><circle cx="583.2" cy="283.7" r="2.3"/><circle cx="568.2" cy="293" r="2.3"/><circle cx="451.4" cy="339.6" r="2.3"/><circle cx="569.3" cy="290.9" r="2.3"/><circle cx="522.4" cy="302.4" r="2.3"/><circle cx="540.5" cy="301.6" r="2.3"/><circle cx="571.9" cy="341.4" r="2.3"/><circle cx="427.4" cy="359" r="2.3"/><circle cx="413.7" cy="366" r="2.3"/><circle cx="426" cy="386.1" r="2.3"/><circle cx="575.4" cy="331.6" r="2.3"/><circle cx="537.1" cy="302.2" r="2.3"/><circle cx="450.1" cy="387.3" r="2.3"/><circle cx="490.3" cy="385.4" r="2.3"/><circle cx="577.8" cy="290.3" r="2.3"/><circle cx="507.6" cy="309.8" r="2.3"/><circle cx="553.5" cy="297.5" r="2.3"/><circle cx="408.4" cy="390.3" r="2.3"/><circle cx="418.5" cy="390.3" r="2.3"/><circle cx="450.5" cy="385.5" r="2.3"/><circle cx="564.3" cy="292.1" r="2.3"/><circle cx="454.6" cy="338.3" r="2.3"/><circle cx="494.7" cy="318.7" r="2.3"/><circle cx="573.8" cy="334.4" r="2.3"/><circle cx="587.4" cy="316.9" r="2.3"/><circle cx="450.8" cy="338.1" r="2.3"/><circle cx="415.3" cy="369.6" r="2.3"/><circle cx="502.5" cy="309.1" r="2.3"/><circle cx="578.5" cy="332.9" r="2.3"/><circle cx="502.2" cy="376.7" r="2.3"/><circle cx="493.7" cy="317.4" r="2.3"/><circle cx="582.6" cy="290.8" r="2.3"/><circle cx="436.1" cy="390.7" r="2.3"/><circle cx="576.6" cy="285.8" r="2.3"/><circle cx="446" cy="389.6" r="2.3"/><circle cx="467.3" cy="386.8" r="2.3"/><circle cx="607.5" cy="277.9" r="2.3"/><circle cx="569.1" cy="343.8" r="2.3"/><circle cx="462.3" cy="331.2" r="2.3"/><circle cx="555.1" cy="295.4" r="2.3"/><circle cx="508.3" cy="303.6" r="2.3"/><circle cx="496.6" cy="321.7" r="2.3"/><circle cx="542.2" cy="300.1" r="2.3"/><circle cx="605.9" cy="284.3" r="2.3"/><circle cx="422.5" cy="362.3" r="2.3"/><circle cx="560.8" cy="291.4" r="2.3"/><circle cx="545.9" cy="304.4" r="2.3"/><circle cx="570.1" cy="339.2" r="2.3"/><circle cx="445.2" cy="390.7" r="2.3"/><circle cx="597.7" cy="282.9" r="2.3"/><circle cx="432.8" cy="385.5" r="2.3"/><circle cx="575.3" cy="282.2" r="2.3"/><circle cx="521.7" cy="371.6" r="2.3"/><circle cx="421.4" cy="391" r="2.3"/><circle cx="501" cy="308.4" r="2.3"/><circle cx="529" cy="299.6" r="2.3"/><circle cx="471.9" cy="389" r="2.3"/><circle cx="576.2" cy="327.8" r="2.3"/><circle cx="585.5" cy="290" r="2.3"/><circle cx="410.6" cy="371.6" r="2.3"/><circle cx="524.7" cy="298.2" r="2.3"/><circle cx="535" cy="296.2" r="2.3"/><circle cx="460.6" cy="388" r="2.3"/><circle cx="523.1" cy="303.6" r="2.3"/><circle cx="537.4" cy="362.9" r="2.3"/><circle cx="461.8" cy="334.6" r="2.3"/><circle cx="555.1" cy="281.8" r="2.3"/><circle cx="510.4" cy="307.6" r="2.3"/><circle cx="570.8" cy="343.2" r="2.3"/><circle cx="557.2" cy="296.4" r="2.3"/><circle cx="576.7" cy="338.3" r="2.3"/><circle cx="479.5" cy="386.4" r="2.3"/><circle cx="597.6" cy="296.7" r="2.3"/><circle cx="560.1" cy="294.6" r="2.3"/><circle cx="575.3" cy="287.4" r="2.3"/><circle cx="588.3" cy="278.4" r="2.3"/><circle cx="581.3" cy="324.4" r="2.3"/><circle cx="435.6" cy="395.3" r="2.3"/><circle cx="471.8" cy="386.2" r="2.3"/><circle cx="532.8" cy="297.1" r="2.3"/><circle cx="561.7" cy="292.2" r="2.3"/><circle cx="591.9" cy="280.7" r="2.3"/><circle cx="471.4" cy="380" r="2.3"/><circle cx="428.3" cy="387.1" r="2.3"/><circle cx="503.1" cy="377.6" r="2.3"/><circle cx="572.6" cy="288.5" r="2.3"/><circle cx="534.2" cy="307.8" r="2.3"/><circle cx="561.2" cy="291.3" r="2.3"/><circle cx="598" cy="304.6" r="2.3"/><circle cx="453.8" cy="387.6" r="2.3"/><circle cx="446.1" cy="388.9" r="2.3"/><circle cx="489.1" cy="384.2" r="2.3"/><circle cx="457.7" cy="383.6" r="2.3"/><circle cx="465.6" cy="329.2" r="2.3"/><circle cx="457.2" cy="333.5" r="2.3"/><circle cx="416.9" cy="387.5" r="2.3"/><circle cx="579.8" cy="326.2" r="2.3"/><circle cx="588.3" cy="327.5" r="2.3"/><circle cx="553.9" cy="354.9" r="2.3"/><circle cx="446.4" cy="380.2" r="2.3"/><circle cx="415.8" cy="364.8" r="2.3"/><circle cx="539.3" cy="299" r="2.3"/><circle cx="477.4" cy="321.1" r="2.3"/><circle cx="427.9" cy="390.9" r="2.3"/><circle cx="454.7" cy="387.9" r="2.3"/><circle cx="540.2" cy="300.4" r="2.3"/><circle cx="409.1" cy="383.8" r="2.3"/><circle cx="504.1" cy="310.1" r="2.3"/><circle cx="468.5" cy="388.9" r="2.3"/><circle cx="462.8" cy="392.2" r="2.3"/><circle cx="592.7" cy="305.5" r="2.3"/><circle cx="532.1" cy="365.1" r="2.3"/><circle cx="590" cy="313.8" r="2.3"/><circle cx="486.1" cy="313.5" r="2.3"/><circle cx="601.5" cy="292" r="2.3"/><circle cx="433.7" cy="389.9" r="2.3"/><circle cx="446.4" cy="342.1" r="2.3"/><circle cx="488.2" cy="312.5" r="2.3"/><circle cx="506.8" cy="380.1" r="2.3"/><circle cx="460.9" cy="390.6" r="2.3"/><circle cx="609.5" cy="276.2" r="2.3"/><circle cx="569.5" cy="343" r="2.3"/><circle cx="442.7" cy="346.7" r="2.3"/><circle cx="478.5" cy="318.5" r="2.3"/><circle cx="516.1" cy="371.7" r="2.3"/><circle cx="423.1" cy="386.4" r="2.3"/><circle cx="522.7" cy="370.1" r="2.3"/><circle cx="594.9" cy="298.1" r="2.3"/><circle cx="581.2" cy="285" r="2.3"/><circle cx="410.9" cy="373.7" r="2.3"/><circle cx="608.2" cy="276.7" r="2.3"/><circle cx="501.2" cy="305.9" r="2.3"/><circle cx="599.5" cy="291.7" r="2.3"/><circle cx="527.6" cy="299" r="2.3"/><circle cx="505.5" cy="306.2" r="2.3"/><circle cx="588.7" cy="284.1" r="2.3"/><circle cx="577.8" cy="282.6" r="2.3"/><circle cx="601.4" cy="292.5" r="2.3"/><circle cx="500.7" cy="381.9" r="2.3"/><circle cx="554.6" cy="294.1" r="2.3"/><circle cx="569.9" cy="288.1" r="2.3"/><circle cx="553.6" cy="352.4" r="2.3"/><circle cx="453.4" cy="398.2" r="2.3"/><circle cx="590.3" cy="318.5" r="2.3"/><circle cx="462.3" cy="330.2" r="2.3"/><circle cx="482.1" cy="318.4" r="2.3"/><circle cx="500.4" cy="310.2" r="2.3"/><circle cx="504" cy="378.2" r="2.3"/><circle cx="495.8" cy="318.1" r="2.3"/><circle cx="584.9" cy="281" r="2.3"/><circle cx="601.5" cy="282.7" r="2.3"/><circle cx="609.2" cy="272.4" r="2.3"/><circle cx="603.4" cy="281.5" r="2.3"/><circle cx="554.9" cy="350.9" r="2.3"/><circle cx="434.1" cy="353.8" r="2.3"/><circle cx="569.7" cy="296.7" r="2.3"/><circle cx="490.4" cy="380.2" r="2.3"/><circle cx="550.1" cy="294.9" r="2.3"/><circle cx="520.2" cy="309.8" r="2.3"/><circle cx="483.9" cy="383.4" r="2.3"/><circle cx="547.8" cy="298.7" r="2.3"/><circle cx="465.2" cy="329.1" r="2.3"/><circle cx="563.2" cy="346.2" r="2.3"/><circle cx="593.9" cy="305" r="2.3"/><circle cx="604.5" cy="273.1" r="2.3"/><circle cx="590.2" cy="273.6" r="2.3"/><circle cx="453.2" cy="386.7" r="2.3"/><circle cx="503.4" cy="313.7" r="2.3"/><circle cx="579.4" cy="325.4" r="2.3"/><circle cx="580" cy="280.9" r="2.3"/><circle cx="570.7" cy="341.9" r="2.3"/><circle cx="413.5" cy="388.3" r="2.3"/><circle cx="583.2" cy="329.2" r="2.3"/><circle cx="587.8" cy="320.3" r="2.3"/><circle cx="476.1" cy="384" r="2.3"/><circle cx="539.8" cy="303.7" r="2.3"/><circle cx="455.1" cy="387.4" r="2.3"/><circle cx="439.3" cy="393" r="2.3"/><circle cx="502.7" cy="307.6" r="2.3"/><circle cx="497.8" cy="311.4" r="2.3"/><circle cx="480.3" cy="375.7" r="2.3"/><circle cx="538.9" cy="297.8" r="2.3"/><circle cx="548.9" cy="308.7" r="2.3"/><circle cx="574.4" cy="340.6" r="2.3"/><circle cx="593.3" cy="308.5" r="2.3"/><circle cx="535.6" cy="299" r="2.3"/><circle cx="514.3" cy="307.7" r="2.3"/><circle cx="539.6" cy="294" r="2.3"/><circle cx="586.1" cy="287.8" r="2.3"/><circle cx="422.1" cy="364.3" r="2.3"/><circle cx="443.5" cy="386.6" r="2.3"/><circle cx="413.1" cy="389.9" r="2.3"/><circle cx="580.7" cy="282.1" r="2.3"/><circle cx="549.3" cy="357.1" r="2.3"/><circle cx="421.4" cy="388.2" r="2.3"/><circle cx="584.6" cy="329.6" r="2.3"/><circle cx="540.5" cy="298.6" r="2.3"/><circle cx="514.1" cy="306.8" r="2.3"/><circle cx="550.9" cy="297.9" r="2.3"/><circle cx="604.5" cy="287.9" r="2.3"/><circle cx="493.7" cy="309" r="2.3"/><circle cx="557.4" cy="299.3" r="2.3"/><circle cx="550.8" cy="295.2" r="2.3"/><circle cx="550.4" cy="298.1" r="2.3"/><circle cx="463.6" cy="329.6" r="2.3"/><circle cx="558.8" cy="290" r="2.3"/><circle cx="522.9" cy="302.3" r="2.3"/><circle cx="590.7" cy="316" r="2.3"/><circle cx="608.4" cy="281.2" r="2.3"/><circle cx="589.8" cy="275.2" r="2.3"/><circle cx="564.5" cy="285.1" r="2.3"/><circle cx="411" cy="372.6" r="2.3"/><circle cx="563.8" cy="348.2" r="2.3"/><circle cx="573.2" cy="339.3" r="2.3"/><circle cx="441.4" cy="385.7" r="2.3"/><circle cx="533.8" cy="361.6" r="2.3"/><circle cx="444.5" cy="344.6" r="2.3"/><circle cx="613.3" cy="274.4" r="2.3"/><circle cx="513.3" cy="376.7" r="2.3"/><circle cx="460.3" cy="330.5" r="2.3"/><circle cx="412" cy="367.3" r="2.3"/><circle cx="424.3" cy="391.7" r="2.3"/><circle cx="417.1" cy="388.2" r="2.3"/><circle cx="542.5" cy="294.9" r="2.3"/><circle cx="452" cy="395" r="2.3"/><circle cx="563.7" cy="290.4" r="2.3"/><circle cx="420.4" cy="387.8" r="2.3"/><circle cx="592.5" cy="278.3" r="2.3"/><circle cx="509.9" cy="376.2" r="2.3"/><circle cx="408.4" cy="381" r="2.3"/><circle cx="589.5" cy="280.3" r="2.3"/><circle cx="593.3" cy="279.4" r="2.3"/><circle cx="609.9" cy="276.6" r="2.3"/><circle cx="514.6" cy="298.9" r="2.3"/><circle cx="501.5" cy="313.7" r="2.3"/><circle cx="497.3" cy="383.2" r="2.3"/><circle cx="442.2" cy="393.7" r="2.3"/><circle cx="468.2" cy="388.8" r="2.3"/><circle cx="416.4" cy="364" r="2.3"/><circle cx="555.7" cy="351.4" r="2.3"/><circle cx="439.8" cy="347.1" r="2.3"/><circle cx="603.5" cy="278.5" r="2.3"/><circle cx="457.7" cy="392.2" r="2.3"/><circle cx="592.8" cy="287.4" r="2.3"/><circle cx="517.9" cy="300.2" r="2.3"/><circle cx="424.8" cy="390.3" r="2.3"/><circle cx="600.5" cy="272.7" r="2.3"/><circle cx="565.2" cy="343.1" r="2.3"/><circle cx="547.3" cy="294.8" r="2.3"/><circle cx="548.3" cy="355.6" r="2.3"/><circle cx="615.3" cy="272.9" r="2.3"/><circle cx="601.1" cy="313.7" r="2.3"/><circle cx="558.1" cy="349.4" r="2.3"/><circle cx="414.1" cy="390.6" r="2.3"/><circle cx="495.3" cy="382.2" r="2.3"/><circle cx="429.4" cy="391.2" r="2.3"/><circle cx="619.5" cy="271.2" r="2.3"/><circle cx="485.8" cy="320.4" r="2.3"/><circle cx="444.4" cy="345.9" r="2.3"/><circle cx="489.6" cy="381.2" r="2.3"/><circle cx="606.6" cy="279.1" r="2.3"/><circle cx="598.6" cy="292.4" r="2.3"/><circle cx="542.7" cy="295.4" r="2.3"/><circle cx="556.8" cy="347.2" r="2.3"/><circle cx="501.7" cy="311.3" r="2.3"/><circle cx="433.2" cy="394.4" r="2.3"/><circle cx="416.7" cy="391.5" r="2.3"/><circle cx="457.1" cy="384.4" r="2.3"/><circle cx="601.3" cy="275.3" r="2.3"/><circle cx="440.3" cy="348.6" r="2.3"/><circle cx="565.8" cy="291.2" r="2.3"/><circle cx="555.4" cy="296.8" r="2.3"/><circle cx="479.3" cy="320.1" r="2.3"/><circle cx="511.4" cy="306.5" r="2.3"/><circle cx="579.2" cy="290.7" r="2.3"/><circle cx="595.9" cy="278.8" r="2.3"/><circle cx="533.7" cy="363.1" r="2.3"/><circle cx="586.2" cy="320.1" r="2.3"/><circle cx="464.1" cy="328.5" r="2.3"/><circle cx="503.5" cy="309.4" r="2.3"/><circle cx="516.3" cy="297.3" r="2.3"/><circle cx="432.8" cy="392.3" r="2.3"/><circle cx="580.9" cy="326.9" r="2.3"/><circle cx="530.1" cy="365.4" r="2.3"/><circle cx="475" cy="382.9" r="2.3"/><circle cx="616.6" cy="271.9" r="2.3"/><circle cx="588.2" cy="317.1" r="2.3"/><circle cx="577.1" cy="329.4" r="2.3"/><circle cx="489.8" cy="381.2" r="2.3"/><circle cx="418.6" cy="388.9" r="2.3"/><circle cx="567.4" cy="286.4" r="2.3"/><circle cx="614.5" cy="274.7" r="2.3"/><circle cx="572.4" cy="293.1" r="2.3"/><circle cx="572.5" cy="340" r="2.3"/><circle cx="551.8" cy="292.6" r="2.3"/><circle cx="579.6" cy="333.6" r="2.3"/><circle cx="563.7" cy="346.6" r="2.3"/><circle cx="551.4" cy="298.4" r="2.3"/><circle cx="411.4" cy="372.6" r="2.3"/><circle cx="513.1" cy="310.7" r="2.3"/><circle cx="454.4" cy="337.7" r="2.3"/><circle cx="601.1" cy="283.3" r="2.3"/><circle cx="527.6" cy="293.5" r="2.3"/><circle cx="581" cy="287.5" r="2.3"/><circle cx="459" cy="386.3" r="2.3"/><circle cx="574.5" cy="287.5" r="2.3"/><circle cx="485.3" cy="315.1" r="2.3"/><circle cx="541.5" cy="298.4" r="2.3"/><circle cx="599.5" cy="277.9" r="2.3"/><circle cx="465.5" cy="386.4" r="2.3"/><circle cx="447.5" cy="383.1" r="2.3"/><circle cx="492.9" cy="382.2" r="2.3"/><circle cx="549.2" cy="294.2" r="2.3"/><circle cx="450" cy="392.2" r="2.3"/><circle cx="425.8" cy="391.6" r="2.3"/><circle cx="412.2" cy="394.7" r="2.3"/><circle cx="602.2" cy="296.8" r="2.3"/><circle cx="596.5" cy="306.1" r="2.3"/><circle cx="441.3" cy="380.8" r="2.3"/><circle cx="579.3" cy="295.7" r="2.3"/><circle cx="514" cy="303.5" r="2.3"/><circle cx="589.2" cy="313.8" r="2.3"/><circle cx="522.3" cy="368.8" r="2.3"/><circle cx="434.9" cy="386.7" r="2.3"/><circle cx="479.5" cy="387.3" r="2.3"/><circle cx="576.8" cy="330.1" r="2.3"/><circle cx="422.9" cy="392.7" r="2.3"/><circle cx="585.5" cy="320.7" r="2.3"/><circle cx="417.9" cy="365" r="2.3"/><circle cx="522.5" cy="303.1" r="2.3"/><circle cx="414" cy="388.9" r="2.3"/><circle cx="594.3" cy="281.2" r="2.3"/><circle cx="472.8" cy="326.8" r="2.3"/><circle cx="472.3" cy="322.6" r="2.3"/><circle cx="461.9" cy="333.3" r="2.3"/><circle cx="569.8" cy="286.1" r="2.3"/><circle cx="532.5" cy="362.2" r="2.3"/><circle cx="440.8" cy="391.5" r="2.3"/><circle cx="421" cy="363.8" r="2.3"/><circle cx="539.2" cy="297.8" r="2.3"/><circle cx="428.4" cy="356.6" r="2.3"/><circle cx="504" cy="309.2" r="2.3"/><circle cx="467.5" cy="328.6" r="2.3"/><circle cx="591.6" cy="276.3" r="2.3"/><circle cx="537" cy="363.9" r="2.3"/><circle cx="463.4" cy="387.2" r="2.3"/><circle cx="591.2" cy="311.6" r="2.3"/><circle cx="549.1" cy="298.6" r="2.3"/><circle cx="597.4" cy="283" r="2.3"/><circle cx="587.9" cy="285.8" r="2.3"/><circle cx="408.4" cy="387.4" r="2.3"/><circle cx="443.4" cy="408.5" r="2.3"/><circle cx="514" cy="376.4" r="2.3"/><circle cx="527.1" cy="300.2" r="2.3"/><circle cx="430.7" cy="395" r="2.3"/><circle cx="410.1" cy="370.9" r="2.3"/><circle cx="523.1" cy="371.7" r="2.3"/><circle cx="475.2" cy="381.3" r="2.3"/><circle cx="478.1" cy="320.3" r="2.3"/><circle cx="434.5" cy="384.2" r="2.3"/><circle cx="527.6" cy="296.7" r="2.3"/><circle cx="440.8" cy="385.6" r="2.3"/><circle cx="512.5" cy="376.4" r="2.3"/><circle cx="533.8" cy="303.8" r="2.3"/><circle cx="446.7" cy="399.8" r="2.3"/><circle cx="537.6" cy="363.1" r="2.3"/><circle cx="436.2" cy="350.6" r="2.3"/><circle cx="520.6" cy="372.1" r="2.3"/><circle cx="418.9" cy="393.8" r="2.3"/><circle cx="487.9" cy="318.5" r="2.3"/><circle cx="584.2" cy="281.3" r="2.3"/><circle cx="575.2" cy="334.2" r="2.3"/><circle cx="545" cy="294.5" r="2.3"/><circle cx="512.4" cy="297.8" r="2.3"/><circle cx="510.1" cy="310.8" r="2.3"/><circle cx="610.7" cy="272.9" r="2.3"/><circle cx="486" cy="315.6" r="2.3"/><circle cx="493.9" cy="382.6" r="2.3"/><circle cx="560.4" cy="292.4" r="2.3"/><circle cx="454.7" cy="339.9" r="2.3"/><circle cx="608" cy="278.1" r="2.3"/><circle cx="558.4" cy="271" r="2.3"/><circle cx="472" cy="390.6" r="2.3"/><circle cx="473.7" cy="389.1" r="2.3"/><circle cx="593.9" cy="286.6" r="2.3"/><circle cx="509.8" cy="308.1" r="2.3"/><circle cx="429.5" cy="393.6" r="2.3"/><circle cx="564.9" cy="342.2" r="2.3"/><circle cx="513.9" cy="306.1" r="2.3"/><circle cx="527.5" cy="299.1" r="2.3"/><circle cx="575" cy="337.1" r="2.3"/><circle cx="550.3" cy="293.6" r="2.3"/><circle cx="505.1" cy="308.1" r="2.3"/><circle cx="437.5" cy="352" r="2.3"/><circle cx="590.5" cy="284.8" r="2.3"/><circle cx="597.5" cy="284.2" r="2.3"/><circle cx="549.8" cy="294.6" r="2.3"/><circle cx="555.1" cy="351.8" r="2.3"/><circle cx="509.2" cy="305.6" r="2.3"/><circle cx="531.7" cy="305.6" r="2.3"/><circle cx="575.5" cy="327.8" r="2.3"/><circle cx="575.8" cy="332.9" r="2.3"/><circle cx="520.4" cy="304.5" r="2.3"/><circle cx="518.6" cy="305.1" r="2.3"/><circle cx="504.4" cy="308.8" r="2.3"/><circle cx="523" cy="368.5" r="2.3"/><circle cx="454.4" cy="388" r="2.3"/><circle cx="569.3" cy="292.4" r="2.3"/><circle cx="572.7" cy="292.3" r="2.3"/><circle cx="456.7" cy="336" r="2.3"/><circle cx="551.8" cy="297.4" r="2.3"/><circle cx="611.7" cy="274.1" r="2.3"/><circle cx="506.3" cy="377.2" r="2.3"/><circle cx="548.5" cy="351.1" r="2.3"/><circle cx="408.9" cy="377.7" r="2.3"/><circle cx="606" cy="274.9" r="2.3"/><circle cx="492" cy="379.6" r="2.3"/><circle cx="471.1" cy="383.7" r="2.3"/><circle cx="470.6" cy="329.3" r="2.3"/><circle cx="460.2" cy="383" r="2.3"/><circle cx="426.6" cy="391.8" r="2.3"/><circle cx="588.4" cy="318.3" r="2.3"/><circle cx="490.7" cy="315.5" r="2.3"/><circle cx="512.7" cy="306.6" r="2.3"/><circle cx="477" cy="388.9" r="2.3"/><circle cx="604.5" cy="290" r="2.3"/><circle cx="564.1" cy="346.2" r="2.3"/><circle cx="480.6" cy="323.8" r="2.3"/><circle cx="513.5" cy="304.7" r="2.3"/><circle cx="562.2" cy="347.8" r="2.3"/><circle cx="561.6" cy="348.6" r="2.3"/><circle cx="556.7" cy="348.6" r="2.3"/><circle cx="555.8" cy="292.9" r="2.3"/><circle cx="509" cy="375.9" r="2.3"/><circle cx="456.9" cy="393.8" r="2.3"/><circle cx="501.1" cy="309.1" r="2.3"/><circle cx="506.3" cy="313.7" r="2.3"/><circle cx="449.4" cy="341.4" r="2.3"/><circle cx="469.6" cy="386.2" r="2.3"/><circle cx="607.3" cy="274.4" r="2.3"/><circle cx="539.3" cy="298.2" r="2.3"/><circle cx="501.7" cy="380.6" r="2.3"/><circle cx="507.9" cy="378.1" r="2.3"/><circle cx="545.6" cy="292.1" r="2.3"/><circle cx="578.5" cy="286" r="2.3"/><circle cx="506.9" cy="316.1" r="2.3"/><circle cx="408" cy="387.1" r="2.3"/><circle cx="517.1" cy="312.1" r="2.3"/><circle cx="551.9" cy="356" r="2.3"/><circle cx="601.2" cy="293.5" r="2.3"/><circle cx="547" cy="356.8" r="2.3"/><circle cx="602.7" cy="291.1" r="2.3"/><circle cx="502.6" cy="306.3" r="2.3"/><circle cx="418.5" cy="387.2" r="2.3"/><circle cx="614.7" cy="274.6" r="2.3"/><circle cx="552.9" cy="291.6" r="2.3"/><circle cx="409.8" cy="379.4" r="2.3"/><circle cx="570.8" cy="293.2" r="2.3"/><circle cx="499.6" cy="307.6" r="2.3"/><circle cx="477" cy="319.1" r="2.3"/><circle cx="501.8" cy="380.6" r="2.3"/><circle cx="522.4" cy="306.9" r="2.3"/><circle cx="527.8" cy="300.9" r="2.3"/><circle cx="581.8" cy="282.3" r="2.3"/><circle cx="490.9" cy="312.6" r="2.3"/><circle cx="585.1" cy="283" r="2.3"/><circle cx="545" cy="359.8" r="2.3"/><circle cx="411.6" cy="387.1" r="2.3"/><circle cx="419" cy="393.4" r="2.3"/><circle cx="521.5" cy="368.6" r="2.3"/><circle cx="442.5" cy="347.5" r="2.3"/><circle cx="477.6" cy="386.5" r="2.3"/><circle cx="545.6" cy="299.8" r="2.3"/><circle cx="601.6" cy="280.2" r="2.3"/><circle cx="485.5" cy="383" r="2.3"/><circle cx="451.7" cy="385" r="2.3"/><circle cx="547.9" cy="299.1" r="2.3"/><circle cx="543.9" cy="295.8" r="2.3"/><circle cx="531.5" cy="364.3" r="2.3"/><circle cx="470.2" cy="390.3" r="2.3"/><circle cx="547.8" cy="351.9" r="2.3"/><circle cx="559.4" cy="291.3" r="2.3"/><circle cx="510" cy="305.4" r="2.3"/><circle cx="549.2" cy="295" r="2.3"/><circle cx="513" cy="373.8" r="2.3"/><circle cx="565.5" cy="293.1" r="2.3"/><circle cx="427.9" cy="359.1" r="2.3"/><circle cx="477.3" cy="383.7" r="2.3"/><circle cx="595.7" cy="305.1" r="2.3"/><circle cx="606.4" cy="272.9" r="2.3"/><circle cx="484.4" cy="318.1" r="2.3"/><circle cx="426.6" cy="386.6" r="2.3"/><circle cx="417.4" cy="363.9" r="2.3"/><circle cx="420.4" cy="387.8" r="2.3"/><circle cx="573.1" cy="280.6" r="2.3"/><circle cx="545.5" cy="297.3" r="2.3"/><circle cx="419.4" cy="387.7" r="2.3"/><circle cx="474.1" cy="321.5" r="2.3"/><circle cx="516.3" cy="372.2" r="2.3"/><circle cx="523.1" cy="369.7" r="2.3"/><circle cx="519.6" cy="301.2" r="2.3"/><circle cx="471.6" cy="324.4" r="2.3"/><circle cx="551.9" cy="353.3" r="2.3"/><circle cx="516.1" cy="305.3" r="2.3"/><circle cx="502.5" cy="312.7" r="2.3"/><circle cx="466.9" cy="384.2" r="2.3"/><circle cx="529.2" cy="297.1" r="2.3"/><circle cx="548.3" cy="354.6" r="2.3"/><circle cx="541.7" cy="302.3" r="2.3"/><circle cx="477.2" cy="321.3" r="2.3"/><circle cx="597.2" cy="299.8" r="2.3"/><circle cx="494.5" cy="312.1" r="2.3"/><circle cx="437" cy="398.9" r="2.3"/><circle cx="524.6" cy="367.2" r="2.3"/><circle cx="423.4" cy="392.4" r="2.3"/><circle cx="511" cy="311.4" r="2.3"/><circle cx="552.7" cy="302.7" r="2.3"/><circle cx="468.7" cy="390" r="2.3"/><circle cx="445.7" cy="344.1" r="2.3"/><circle cx="601.3" cy="292.1" r="2.3"/><circle cx="563.6" cy="280.9" r="2.3"/><circle cx="516.9" cy="374.5" r="2.3"/><circle cx="440.4" cy="391.9" r="2.3"/><circle cx="430.1" cy="392.3" r="2.3"/><circle cx="611.3" cy="278.6" r="2.3"/><circle cx="606.5" cy="285" r="2.3"/><circle cx="587.5" cy="281.7" r="2.3"/><circle cx="487.2" cy="383" r="2.3"/><circle cx="599.1" cy="277.3" r="2.3"/><circle cx="583.9" cy="289" r="2.3"/><circle cx="469.9" cy="324.2" r="2.3"/><circle cx="498.2" cy="379.9" r="2.3"/><circle cx="441.1" cy="393.1" r="2.3"/><circle cx="428.7" cy="355.3" r="2.3"/><circle cx="430.4" cy="385.1" r="2.3"/><circle cx="567.2" cy="345.3" r="2.3"/><circle cx="588.6" cy="278" r="2.3"/><circle cx="582.5" cy="285.7" r="2.3"/><circle cx="534.2" cy="300.3" r="2.3"/><circle cx="469.3" cy="391.1" r="2.3"/><circle cx="552.5" cy="294.5" r="2.3"/><circle cx="568" cy="343.5" r="2.3"/><circle cx="576.4" cy="285.3" r="2.3"/><circle cx="430.7" cy="391.3" r="2.3"/><circle cx="496.2" cy="310.7" r="2.3"/><circle cx="512.6" cy="306.6" r="2.3"/><circle cx="504.5" cy="375.9" r="2.3"/><circle cx="522.3" cy="306.6" r="2.3"/><circle cx="599.4" cy="277.8" r="2.3"/><circle cx="598.6" cy="277.7" r="2.3"/><circle cx="409.6" cy="380.8" r="2.3"/><circle cx="419.2" cy="363.2" r="2.3"/><circle cx="409.4" cy="376.2" r="2.3"/><circle cx="425.6" cy="374.9" r="2.3"/><circle cx="424.6" cy="377" r="2.3"/><circle cx="414.6" cy="381.2" r="2.3"/><circle cx="409.3" cy="390.9" r="2.3"/><circle cx="421.1" cy="372.2" r="2.3"/><circle cx="418.8" cy="364.4" r="2.3"/><circle cx="429.9" cy="355" r="2.3"/><circle cx="430.8" cy="392.9" r="2.3"/><circle cx="414.2" cy="391.5" r="2.3"/><circle cx="423.7" cy="362.2" r="2.3"/><circle cx="427.1" cy="379.7" r="2.3"/><circle cx="418.8" cy="381.1" r="2.3"/><circle cx="412" cy="389.4" r="2.3"/><circle cx="425.8" cy="392.2" r="2.3"/><circle cx="418.6" cy="375.9" r="2.3"/><circle cx="414.7" cy="381.7" r="2.3"/><circle cx="426" cy="380.8" r="2.3"/><circle cx="417" cy="370.1" r="2.3"/><circle cx="410.7" cy="376.9" r="2.3"/><circle cx="429" cy="396.4" r="2.3"/><circle cx="430.5" cy="357.8" r="2.3"/><circle cx="413.4" cy="373.9" r="2.3"/><circle cx="423.6" cy="380" r="2.3"/><circle cx="428.6" cy="383.6" r="2.3"/><circle cx="418.7" cy="366.4" r="2.3"/><circle cx="414.3" cy="389.4" r="2.3"/><circle cx="424.6" cy="391.2" r="2.3"/><circle cx="406.6" cy="378.1" r="2.3"/><circle cx="420.5" cy="381.5" r="2.3"/><circle cx="421.3" cy="365.8" r="2.3"/><circle cx="430.3" cy="355" r="2.3"/><circle cx="407.4" cy="389.8" r="2.3"/><circle cx="425.2" cy="372.1" r="2.3"/><circle cx="424.9" cy="367.4" r="2.3"/><circle cx="423.2" cy="359.2" r="2.3"/><circle cx="427.7" cy="390.7" r="2.3"/><circle cx="412" cy="376.1" r="2.3"/><circle cx="424.8" cy="368" r="2.3"/><circle cx="428.6" cy="357.7" r="2.3"/><circle cx="414.2" cy="369.5" r="2.3"/><circle cx="428.4" cy="380.1" r="2.3"/><circle cx="426.6" cy="392.9" r="2.3"/><circle cx="413.4" cy="390.8" r="2.3"/><circle cx="430.6" cy="383.7" r="2.3"/><circle cx="416.7" cy="388.8" r="2.3"/><circle cx="419.4" cy="371.2" r="2.3"/><circle cx="429.3" cy="395" r="2.3"/><circle cx="430.4" cy="393" r="2.3"/><circle cx="408.8" cy="388.9" r="2.3"/><circle cx="423.5" cy="378.1" r="2.3"/><circle cx="416.3" cy="394.4" r="2.3"/><circle cx="420" cy="369.7" r="2.3"/><circle cx="421" cy="394.2" r="2.3"/><circle cx="424.8" cy="373.1" r="2.3"/><circle cx="413.2" cy="377.6" r="2.3"/><circle cx="429.4" cy="374" r="2.3"/><circle cx="420.8" cy="364.6" r="2.3"/><circle cx="612" cy="279.6" r="2.3"/><circle cx="604.5" cy="284.5" r="2.3"/><circle cx="617.4" cy="271.2" r="2.3"/><circle cx="619" cy="271.5" r="2.3"/><circle cx="619.2" cy="269.6" r="2.3"/><circle cx="614.6" cy="270.7" r="2.3"/><circle cx="619.3" cy="270.6" r="2.3"/><circle cx="595.6" cy="282.4" r="2.3"/><circle cx="610.1" cy="277.6" r="2.3"/><circle cx="606.5" cy="285.1" r="2.3"/><circle cx="611.2" cy="275.1" r="2.3"/><circle cx="617.7" cy="270.3" r="2.3"/><circle cx="603.6" cy="273.9" r="2.3"/><circle cx="622.3" cy="270.2" r="2.3"/><circle cx="611.6" cy="273.6" r="2.3"/><circle cx="617.3" cy="272.1" r="2.3"/><circle cx="610.7" cy="273.7" r="2.3"/><circle cx="614.2" cy="275.7" r="2.3"/><circle cx="613.2" cy="275.5" r="2.3"/><circle cx="599.6" cy="280.4" r="2.3"/><circle cx="620.4" cy="267.9" r="2.3"/><circle cx="620.5" cy="269.5" r="2.3"/><circle cx="614.2" cy="275.7" r="2.3"/><circle cx="599.1" cy="275.9" r="2.3"/><circle cx="607.3" cy="276.1" r="2.3"/><circle cx="608.4" cy="280.6" r="2.3"/><circle cx="617.3" cy="272.3" r="2.3"/><circle cx="602" cy="283.8" r="2.3"/><circle cx="595.7" cy="280.7" r="2.3"/><circle cx="617.4" cy="272" r="2.3"/><circle cx="604.3" cy="278.4" r="2.3"/><circle cx="608.2" cy="274.8" r="2.3"/><circle cx="615" cy="275.2" r="2.3"/><circle cx="619.5" cy="269.3" r="2.3"/><circle cx="622.1" cy="267.7" r="2.3"/><circle cx="609.1" cy="277.7" r="2.3"/><circle cx="611.9" cy="276.5" r="2.3"/><circle cx="618.3" cy="270.3" r="2.3"/><circle cx="615.8" cy="273.6" r="2.3"/><circle cx="595.8" cy="286.5" r="2.3"/><circle cx="609.8" cy="274.4" r="2.3"/><circle cx="595.9" cy="284.1" r="2.3"/><circle cx="601.2" cy="282.6" r="2.3"/><circle cx="617.1" cy="272.5" r="2.3"/><circle cx="596.8" cy="287.1" r="2.3"/><circle cx="609.7" cy="274.9" r="2.3"/><circle cx="616.1" cy="269.9" r="2.3"/><circle cx="601.3" cy="281.9" r="2.3"/><circle cx="620.8" cy="268.8" r="2.3"/><circle cx="606.4" cy="275.6" r="2.3"/><circle cx="603.5" cy="277.8" r="2.3"/><circle cx="610.3" cy="273.5" r="2.3"/><circle cx="610.7" cy="275" r="2.3"/><circle cx="602.3" cy="272.3" r="2.3"/><circle cx="599.9" cy="286.4" r="2.3"/><circle cx="598.2" cy="285.9" r="2.3"/><circle cx="597.4" cy="288.6" r="2.3"/><circle cx="599" cy="288.1" r="2.3"/><circle cx="622.2" cy="267" r="2.3"/><circle cx="598" cy="280.3" r="2.3"/><circle cx="609.2" cy="272.8" r="2.3"/><circle cx="598.7" cy="275.8" r="2.3"/><circle cx="615.2" cy="269.5" r="2.3"/><circle cx="611" cy="273.4" r="2.3"/><circle cx="616.5" cy="275.2" r="2.3"/><circle cx="610.9" cy="275.3" r="2.3"/><circle cx="612.2" cy="273.5" r="2.3"/><circle cx="606.2" cy="277.9" r="2.3"/><circle cx="614.2" cy="273.9" r="2.3"/><circle cx="615.4" cy="272" r="2.3"/><circle cx="406.5" cy="385.8" r="2.3"/><circle cx="402" cy="385.4" r="2.3"/><circle cx="407.9" cy="390.9" r="2.3"/><circle cx="396.8" cy="400.4" r="2.3"/><circle cx="405.1" cy="388.9" r="2.3"/><circle cx="397.7" cy="404.3" r="2.3"/>
</g>
<path d="M402.4 408.7L622.4 267" stroke="#002800" stroke-opacity=".55" stroke-width=".8" stroke-dasharray="3.4 1.8" fill="none"/>
<path d="M491.9 302.4l2.4 4.5h-4.7zM477.7 298.9l2.4 4.5h-4.7zM488.5 295.8l2.4 4.5h-4.7zM475.4 301.3l2.4 4.5h-4.7zM492.3 294.4l2.4 4.5h-4.7zM468.5 310.2l2.4 4.5h-4.7zM467.6 297l2.4 4.5h-4.7zM466.6 316.9l2.4 4.5h-4.7zM426.7 301.6l2.4 4.5h-4.7zM472.7 311.4l2.4 4.5h-4.7zM490.8 305l2.4 4.5h-4.7zM466.9 298l2.4 4.5h-4.7zM474.5 309.4l2.4 4.5h-4.7zM464.9 309.4l2.4 4.5h-4.7zM447.9 315.3l2.4 4.5h-4.7zM491.5 297.9l2.4 4.5h-4.7zM449.7 306.8l2.4 4.5h-4.7zM454.7 318.7l2.4 4.5h-4.7zM432.9 307.7l2.4 4.5h-4.7zM469.4 316.3l2.4 4.5h-4.7zM471.8 317.5l2.4 4.5h-4.7zM415.2 316l2.4 4.5h-4.7zM467.5 296.2l2.4 4.5h-4.7zM490.7 293.6l2.4 4.5h-4.7zM487.9 301.5l2.4 4.5h-4.7zM464.9 309.9l2.4 4.5h-4.7zM429.4 317.6l2.4 4.5h-4.7zM463.1 304.1l2.4 4.5h-4.7zM483.1 307.2l2.4 4.5h-4.7zM430.4 311.5l2.4 4.5h-4.7zM447.6 309.6l2.4 4.5h-4.7zM473.9 302.6l2.4 4.5h-4.7zM435.9 311.8l2.4 4.5h-4.7zM469.2 297.3l2.4 4.5h-4.7zM463.2 313.4l2.4 4.5h-4.7zM495.8 298l2.4 4.5h-4.7zM474.4 303.8l2.4 4.5h-4.7zM477.3 296l2.4 4.5h-4.7zM431.2 318.1l2.4 4.5h-4.7zM478.3 313.4l2.4 4.5h-4.7zM486.4 298.3l2.4 4.5h-4.7zM495.7 290.4l2.4 4.5h-4.7zM480.5 307.3l2.4 4.5h-4.7zM479.8 296.1l2.4 4.5h-4.7zM476.6 309l2.4 4.5h-4.7zM447.4 309.6l2.4 4.5h-4.7zM468.9 316.5l2.4 4.5h-4.7zM474.7 298.6l2.4 4.5h-4.7zM494.5 299.6l2.4 4.5h-4.7zM426.8 317.9l2.4 4.5h-4.7zM473.8 306.3l2.4 4.5h-4.7zM486.7 306.7l2.4 4.5h-4.7zM463.2 317.2l2.4 4.5h-4.7zM471.6 310l2.4 4.5h-4.7zM457.6 313.4l2.4 4.5h-4.7zM469.7 307.2l2.4 4.5h-4.7zM494.6 288.2l2.4 4.5h-4.7zM472 307.6l2.4 4.5h-4.7zM480.9 304.5l2.4 4.5h-4.7zM478.8 313.4l2.4 4.5h-4.7zM445.7 313.9l2.4 4.5h-4.7zM435.2 304.8l2.4 4.5h-4.7zM444.9 316.1l2.4 4.5h-4.7zM482.9 304.2l2.4 4.5h-4.7zM456.3 300.7l2.4 4.5h-4.7zM422.6 307.4l2.4 4.5h-4.7zM463.5 309.8l2.4 4.5h-4.7zM454.5 315l2.4 4.5h-4.7zM435.3 305.9l2.4 4.5h-4.7zM474 300.9l2.4 4.5h-4.7zM462.2 314.8l2.4 4.5h-4.7zM449.2 304.2l2.4 4.5h-4.7zM464.7 311.7l2.4 4.5h-4.7zM483.6 301.6l2.4 4.5h-4.7zM434.9 317.1l2.4 4.5h-4.7zM475.4 313.2l2.4 4.5h-4.7zM453.1 314.4l2.4 4.5h-4.7zM470.6 295.5l2.4 4.5h-4.7zM481.5 310.1l2.4 4.5h-4.7zM447.4 310.6l2.4 4.5h-4.7zM459.9 308.1l2.4 4.5h-4.7zM492.8 303.6l2.4 4.5h-4.7zM473.2 309.8l2.4 4.5h-4.7zM470.7 304.1l2.4 4.5h-4.7zM420.8 316.5l2.4 4.5h-4.7zM474.8 315.8l2.4 4.5h-4.7zM475.1 312.2l2.4 4.5h-4.7zM451.6 300.5l2.4 4.5h-4.7zM491.5 297.1l2.4 4.5h-4.7zM437.3 295.6l2.4 4.5h-4.7zM484.5 299.4l2.4 4.5h-4.7zM457.9 308.7l2.4 4.5h-4.7zM459.3 297.4l2.4 4.5h-4.7zM430.9 294.8l2.4 4.5h-4.7zM460.3 315.4l2.4 4.5h-4.7zM472.6 316.6l2.4 4.5h-4.7zM477.6 306.9l2.4 4.5h-4.7zM456 308.7l2.4 4.5h-4.7zM475.5 310.6l2.4 4.5h-4.7zM474 305l2.4 4.5h-4.7zM488 301.8l2.4 4.5h-4.7zM478.1 308.7l2.4 4.5h-4.7zM489.2 304.8l2.4 4.5h-4.7zM483.2 309.8l2.4 4.5h-4.7zM463.4 310.5l2.4 4.5h-4.7zM441.2 303l2.4 4.5h-4.7zM480.8 302.5l2.4 4.5h-4.7zM450.8 312.1l2.4 4.5h-4.7zM446.8 300.6l2.4 4.5h-4.7zM462.5 315.8l2.4 4.5h-4.7zM492.9 298l2.4 4.5h-4.7zM475.6 303.5l2.4 4.5h-4.7zM447.9 314.6l2.4 4.5h-4.7zM450.6 314.7l2.4 4.5h-4.7zM483.2 300.6l2.4 4.5h-4.7zM477 303.9l2.4 4.5h-4.7zM469.4 313.7l2.4 4.5h-4.7zM430.3 298.3l2.4 4.5h-4.7zM485.6 305l2.4 4.5h-4.7zM472.3 312.9l2.4 4.5h-4.7zM444.7 300.8l2.4 4.5h-4.7zM491.7 288.2l2.4 4.5h-4.7zM468.9 298.3l2.4 4.5h-4.7zM465.2 311.7l2.4 4.5h-4.7zM461 317.8l2.4 4.5h-4.7zM465.3 299.7l2.4 4.5h-4.7zM427.4 296.2l2.4 4.5h-4.7zM464.1 310l2.4 4.5h-4.7zM469.8 305.9l2.4 4.5h-4.7zM462.5 310.4l2.4 4.5h-4.7zM491.2 306l2.4 4.5h-4.7zM476.4 298.4l2.4 4.5h-4.7zM469.8 301.5l2.4 4.5h-4.7zM446.7 303.7l2.4 4.5h-4.7zM447.1 318.6l2.4 4.5h-4.7zM460.8 308.1l2.4 4.5h-4.7zM431 311.8l2.4 4.5h-4.7zM447.4 304.2l2.4 4.5h-4.7zM476.6 309.4l2.4 4.5h-4.7zM425.5 313.1l2.4 4.5h-4.7zM486.1 299.2l2.4 4.5h-4.7zM492.8 300.9l2.4 4.5h-4.7zM438 316.7l2.4 4.5h-4.7zM488.1 303l2.4 4.5h-4.7zM493.7 296.3l2.4 4.5h-4.7zM474.2 300.3l2.4 4.5h-4.7zM480.2 305.4l2.4 4.5h-4.7zM471.6 313l2.4 4.5h-4.7zM478.2 313.8l2.4 4.5h-4.7zM454.3 311.5l2.4 4.5h-4.7zM464.9 314.7l2.4 4.5h-4.7zM484.7 305.4l2.4 4.5h-4.7zM472.8 315.3l2.4 4.5h-4.7zM428.8 307.7l2.4 4.5h-4.7zM482.9 294.6l2.4 4.5h-4.7zM456.2 314.6l2.4 4.5h-4.7zM448.1 311.4l2.4 4.5h-4.7zM489.3 299.8l2.4 4.5h-4.7zM468.3 309.4l2.4 4.5h-4.7zM448.9 311l2.4 4.5h-4.7zM472.9 303.2l2.4 4.5h-4.7zM490.6 303.4l2.4 4.5h-4.7zM487.7 296.5l2.4 4.5h-4.7zM469.4 296.6l2.4 4.5h-4.7zM471.3 307.1l2.4 4.5h-4.7zM426.8 309.4l2.4 4.5h-4.7zM492.2 305.1l2.4 4.5h-4.7zM475 290.2l2.4 4.5h-4.7zM493 296.8l2.4 4.5h-4.7zM496 298.2l2.4 4.5h-4.7zM430.4 309.2l2.4 4.5h-4.7zM457.2 297.7l2.4 4.5h-4.7zM440.4 292.1l2.4 4.5h-4.7zM467.6 310l2.4 4.5h-4.7zM472.7 300.5l2.4 4.5h-4.7zM479.7 300.8l2.4 4.5h-4.7zM487.2 299.8l2.4 4.5h-4.7zM492.5 300l2.4 4.5h-4.7zM472.9 307.1l2.4 4.5h-4.7zM473.4 314.8l2.4 4.5h-4.7zM486 306.2l2.4 4.5h-4.7zM486.4 298.5l2.4 4.5h-4.7zM438.4 299.9l2.4 4.5h-4.7zM478.2 300.8l2.4 4.5h-4.7zM485.4 306.8l2.4 4.5h-4.7zM479.4 309.5l2.4 4.5h-4.7zM474 313.8l2.4 4.5h-4.7zM426.1 314.4l2.4 4.5h-4.7zM478.6 297.9l2.4 4.5h-4.7zM461.6 305.9l2.4 4.5h-4.7zM490.4 298.8l2.4 4.5h-4.7zM481.1 310.5l2.4 4.5h-4.7zM482.6 306.7l2.4 4.5h-4.7zM445.3 311.7l2.4 4.5h-4.7zM437.7 296.7l2.4 4.5h-4.7zM485.1 304.6l2.4 4.5h-4.7zM493.8 303.4l2.4 4.5h-4.7zM460.7 314.2l2.4 4.5h-4.7zM450.8 317.5l2.4 4.5h-4.7zM469.8 305.8l2.4 4.5h-4.7zM449.6 316.9l2.4 4.5h-4.7zM449.8 316.8l2.4 4.5h-4.7zM484.8 292.7l2.4 4.5h-4.7zM469.2 300.5l2.4 4.5h-4.7zM493.8 298.5l2.4 4.5h-4.7zM464.6 298.1l2.4 4.5h-4.7zM467.8 306.7l2.4 4.5h-4.7zM461.3 304.3l2.4 4.5h-4.7zM467 311l2.4 4.5h-4.7zM472.6 313.2l2.4 4.5h-4.7zM461.3 293.2l2.4 4.5h-4.7zM495.2 292.8l2.4 4.5h-4.7zM482.7 303.7l2.4 4.5h-4.7zM470.8 303.6l2.4 4.5h-4.7zM492.9 303.4l2.4 4.5h-4.7zM471.4 311.6l2.4 4.5h-4.7zM495.9 287.3l2.4 4.5h-4.7zM485 309.8l2.4 4.5h-4.7zM452.8 312.4l2.4 4.5h-4.7zM430.4 309l2.4 4.5h-4.7zM467 314.1l2.4 4.5h-4.7zM479.5 311.1l2.4 4.5h-4.7zM486.3 300.2l2.4 4.5h-4.7zM487.1 301.6l2.4 4.5h-4.7zM484 296.4l2.4 4.5h-4.7zM436.1 311.4l2.4 4.5h-4.7zM490.1 290.1l2.4 4.5h-4.7zM492.1 295.4l2.4 4.5h-4.7zM474.1 315.6l2.4 4.5h-4.7zM474.8 309.3l2.4 4.5h-4.7zM470 306.5l2.4 4.5h-4.7zM476.4 311.9l2.4 4.5h-4.7zM470.8 297.6l2.4 4.5h-4.7zM473.4 309.4l2.4 4.5h-4.7zM485.4 296.5l2.4 4.5h-4.7zM470.1 317.4l2.4 4.5h-4.7zM440 297.4l2.4 4.5h-4.7zM492.3 304.1l2.4 4.5h-4.7zM469.8 313.5l2.4 4.5h-4.7zM453.2 319l2.4 4.5h-4.7zM451.6 312.1l2.4 4.5h-4.7zM480.3 309.6l2.4 4.5h-4.7zM483.4 305.9l2.4 4.5h-4.7zM458.3 300.3l2.4 4.5h-4.7zM495.6 292.6l2.4 4.5h-4.7zM448.2 310.3l2.4 4.5h-4.7zM429.9 315.7l2.4 4.5h-4.7zM486.3 307.6l2.4 4.5h-4.7zM474.9 316.3l2.4 4.5h-4.7zM487.6 298.8l2.4 4.5h-4.7zM460.5 302.6l2.4 4.5h-4.7zM455.7 305.1l2.4 4.5h-4.7zM462.7 300.9l2.4 4.5h-4.7zM484.1 298.8l2.4 4.5h-4.7zM470.8 317.9l2.4 4.5h-4.7zM469.2 284.5l2.4 4.5h-4.7zM451.5 293.2l2.4 4.5h-4.7zM446.6 293.2l2.4 4.5h-4.7zM478.8 290.6l2.4 4.5h-4.7zM476.7 284.7l2.4 4.5h-4.7zM452.2 295l2.4 4.5h-4.7zM455.8 295.4l2.4 4.5h-4.7zM466.7 291.1l2.4 4.5h-4.7zM465.2 294.8l2.4 4.5h-4.7zM483.6 277.3l2.4 4.5h-4.7zM451.9 291.2l2.4 4.5h-4.7zM481.6 286.2l2.4 4.5h-4.7zM471.9 291l2.4 4.5h-4.7zM457.5 290.2l2.4 4.5h-4.7zM468 292.2l2.4 4.5h-4.7zM470.8 279.4l2.4 4.5h-4.7zM419.4 298.1l2.4 4.5h-4.7zM435.8 293.9l2.4 4.5h-4.7zM454.3 294.4l2.4 4.5h-4.7zM474.8 289.9l2.4 4.5h-4.7zM483.3 286.6l2.4 4.5h-4.7zM551 374.8l2.4 4.5h-4.7zM550.2 362.1l2.4 4.5h-4.7zM544.5 374.5l2.4 4.5h-4.7zM551.9 359.9l2.4 4.5h-4.7zM569.1 369.5l2.4 4.5h-4.7zM542.9 363.5l2.4 4.5h-4.7zM549.5 358.2l2.4 4.5h-4.7zM581.8 355.7l2.4 4.5h-4.7zM575.6 356.6l2.4 4.5h-4.7zM556.7 378l2.4 4.5h-4.7zM554.6 381.9l2.4 4.5h-4.7zM545.5 365.1l2.4 4.5h-4.7zM553 362.5l2.4 4.5h-4.7zM569.6 364.5l2.4 4.5h-4.7zM576.5 355.5l2.4 4.5h-4.7zM546.7 373.7l2.4 4.5h-4.7zM573.1 356.7l2.4 4.5h-4.7zM567.9 363.6l2.4 4.5h-4.7zM543.6 391.3l2.4 4.5h-4.7zM565.2 349.8l2.4 4.5h-4.7zM547.4 359.5l2.4 4.5h-4.7zM545.3 369.2l2.4 4.5h-4.7zM547.1 361.1l2.4 4.5h-4.7zM555.7 373.3l2.4 4.5h-4.7zM565.4 347.8l2.4 4.5h-4.7zM545.7 377.2l2.4 4.5h-4.7zM561.6 355.1l2.4 4.5h-4.7zM555.3 369.6l2.4 4.5h-4.7zM580.8 353.6l2.4 4.5h-4.7zM551.9 378.1l2.4 4.5h-4.7zM547.9 379.1l2.4 4.5h-4.7zM558.4 360.1l2.4 4.5h-4.7zM544.3 367.6l2.4 4.5h-4.7zM568.2 358l2.4 4.5h-4.7zM546.3 382.5l2.4 4.5h-4.7zM556.9 357.7l2.4 4.5h-4.7zM540.7 369.5l2.4 4.5h-4.7zM543.9 383l2.4 4.5h-4.7zM545.4 391.7l2.4 4.5h-4.7zM544.6 376.8l2.4 4.5h-4.7zM579.1 347.8l2.4 4.5h-4.7zM543.2 365.2l2.4 4.5h-4.7zM550.3 384.1l2.4 4.5h-4.7zM565.1 349.9l2.4 4.5h-4.7zM549.7 367.6l2.4 4.5h-4.7zM571.8 352.4l2.4 4.5h-4.7zM541.3 365.9l2.4 4.5h-4.7zM564.6 357.9l2.4 4.5h-4.7zM553.1 363.7l2.4 4.5h-4.7zM583.1 347.9l2.4 4.5h-4.7zM562.3 349.7l2.4 4.5h-4.7zM545 360.8l2.4 4.5h-4.7zM562.1 379.4l2.4 4.5h-4.7zM579 350l2.4 4.5h-4.7zM561.7 353.8l2.4 4.5h-4.7zM567.4 371.5l2.4 4.5h-4.7zM559.1 356.4l2.4 4.5h-4.7zM551 365.7l2.4 4.5h-4.7zM549.5 380l2.4 4.5h-4.7zM554.6 376.8l2.4 4.5h-4.7zM541.8 368.3l2.4 4.5h-4.7zM567.1 357.7l2.4 4.5h-4.7zM572.5 348.5l2.4 4.5h-4.7zM542.7 369.5l2.4 4.5h-4.7zM564.1 359.9l2.4 4.5h-4.7zM561.3 359.9l2.4 4.5h-4.7zM568.8 348.5l2.4 4.5h-4.7zM568.7 361.2l2.4 4.5h-4.7zM544.9 371.2l2.4 4.5h-4.7zM551.2 387.7l2.4 4.5h-4.7zM561.1 351.7l2.4 4.5h-4.7zM548.7 382.7l2.4 4.5h-4.7zM559.5 373.3l2.4 4.5h-4.7zM542.8 369.3l2.4 4.5h-4.7zM565.7 369.6l2.4 4.5h-4.7zM563.2 372.8l2.4 4.5h-4.7zM548.8 368.3l2.4 4.5h-4.7zM578.3 353.7l2.4 4.5h-4.7zM552.6 369l2.4 4.5h-4.7zM580.6 348.2l2.4 4.5h-4.7zM574.4 346.5l2.4 4.5h-4.7zM566 356.3l2.4 4.5h-4.7zM577.9 348.2l2.4 4.5h-4.7zM542.3 373.1l2.4 4.5h-4.7zM573.1 348.5l2.4 4.5h-4.7zM546.6 377.9l2.4 4.5h-4.7zM574.2 359.5l2.4 4.5h-4.7zM557.7 366.7l2.4 4.5h-4.7zM551.2 378.1l2.4 4.5h-4.7zM541.8 370.1l2.4 4.5h-4.7zM568.9 366.3l2.4 4.5h-4.7zM570.2 347l2.4 4.5h-4.7zM564 363.6l2.4 4.5h-4.7zM559.3 357.9l2.4 4.5h-4.7zM575.8 350.4l2.4 4.5h-4.7zM553.5 369.9l2.4 4.5h-4.7zM555.3 353.6l2.4 4.5h-4.7zM583.3 351.8l2.4 4.5h-4.7zM543.2 370.8l2.4 4.5h-4.7zM563.7 371.9l2.4 4.5h-4.7zM561.8 353l2.4 4.5h-4.7zM543.2 364.6l2.4 4.5h-4.7zM554.1 367.3l2.4 4.5h-4.7zM547.5 375.2l2.4 4.5h-4.7zM572.2 350l2.4 4.5h-4.7zM542.1 370.3l2.4 4.5h-4.7zM575.3 361.2l2.4 4.5h-4.7zM566.3 347.9l2.4 4.5h-4.7zM556 372.2l2.4 4.5h-4.7zM577.4 360.9l2.4 4.5h-4.7zM546.8 368.6l2.4 4.5h-4.7zM575.8 355.4l2.4 4.5h-4.7zM568.9 349.5l2.4 4.5h-4.7zM544.4 362.4l2.4 4.5h-4.7zM583.1 346.8l2.4 4.5h-4.7zM573.5 352.5l2.4 4.5h-4.7zM584.4 354.7l2.4 4.5h-4.7zM572.1 351.6l2.4 4.5h-4.7zM570.5 351.6l2.4 4.5h-4.7zM564.8 357.4l2.4 4.5h-4.7zM564.1 349.1l2.4 4.5h-4.7zM540.9 370.9l2.4 4.5h-4.7zM561.1 373l2.4 4.5h-4.7zM561.6 357.2l2.4 4.5h-4.7zM561.1 350.5l2.4 4.5h-4.7zM563 371.5l2.4 4.5h-4.7zM566.5 366.4l2.4 4.5h-4.7zM561.7 375.5l2.4 4.5h-4.7zM575.8 357.3l2.4 4.5h-4.7zM559.7 368.9l2.4 4.5h-4.7zM540.7 383.7l2.4 4.5h-4.7zM584 351.5l2.4 4.5h-4.7zM567.2 360.7l2.4 4.5h-4.7zM573.4 355.4l2.4 4.5h-4.7zM548.5 360.3l2.4 4.5h-4.7zM553.7 373.3l2.4 4.5h-4.7zM554.5 370.6l2.4 4.5h-4.7zM550.5 382.1l2.4 4.5h-4.7zM546.6 367l2.4 4.5h-4.7zM551.7 378.3l2.4 4.5h-4.7zM548.3 370.7l2.4 4.5h-4.7zM544.1 368.2l2.4 4.5h-4.7zM560.6 364.5l2.4 4.5h-4.7zM547.4 359l2.4 4.5h-4.7zM581.5 353l2.4 4.5h-4.7zM571.7 350.4l2.4 4.5h-4.7zM570.2 346.4l2.4 4.5h-4.7zM548.4 382.6l2.4 4.5h-4.7zM554 356.7l2.4 4.5h-4.7zM565.3 364.7l2.4 4.5h-4.7zM544 362.7l2.4 4.5h-4.7zM564.3 359.7l2.4 4.5h-4.7zM566.8 348.9l2.4 4.5h-4.7zM564.6 349.4l2.4 4.5h-4.7zM568.1 352.8l2.4 4.5h-4.7zM542.9 371.6l2.4 4.5h-4.7zM565.1 371.5l2.4 4.5h-4.7zM552.5 355.2l2.4 4.5h-4.7zM572.7 355.9l2.4 4.5h-4.7zM543.7 365.5l2.4 4.5h-4.7zM554.7 356.5l2.4 4.5h-4.7zM569.5 355l2.4 4.5h-4.7zM553.3 369.3l2.4 4.5h-4.7zM556.5 366.3l2.4 4.5h-4.7zM584.7 346.5l2.4 4.5h-4.7zM544.1 379.9l2.4 4.5h-4.7zM571.9 349.9l2.4 4.5h-4.7zM576.4 348.2l2.4 4.5h-4.7zM572.1 352l2.4 4.5h-4.7zM554 357.9l2.4 4.5h-4.7zM555.4 368l2.4 4.5h-4.7zM548.3 371l2.4 4.5h-4.7zM548.7 377.2l2.4 4.5h-4.7zM555.6 363.5l2.4 4.5h-4.7zM553.2 358.9l2.4 4.5h-4.7zM540.6 366.9l2.4 4.5h-4.7zM585.6 350.7l2.4 4.5h-4.7zM573.6 352.6l2.4 4.5h-4.7zM560 358.2l2.4 4.5h-4.7zM579.6 346.9l2.4 4.5h-4.7zM580 350.4l2.4 4.5h-4.7zM558 376.9l2.4 4.5h-4.7zM541.4 383l2.4 4.5h-4.7zM573.8 364.1l2.4 4.5h-4.7zM560.8 364.6l2.4 4.5h-4.7zM555.7 358l2.4 4.5h-4.7zM549 379l2.4 4.5h-4.7zM571.9 360.1l2.4 4.5h-4.7zM567.9 364l2.4 4.5h-4.7zM569.9 362.8l2.4 4.5h-4.7zM546.9 370.2l2.4 4.5h-4.7zM551.5 363.5l2.4 4.5h-4.7zM571.2 362.8l2.4 4.5h-4.7zM543.8 374.8l2.4 4.5h-4.7zM572.3 353.1l2.4 4.5h-4.7zM553.4 379.6l2.4 4.5h-4.7zM572.5 361.9l2.4 4.5h-4.7zM568.4 358.1l2.4 4.5h-4.7zM577.1 347.3l2.4 4.5h-4.7zM568.1 372l2.4 4.5h-4.7zM559.5 366.5l2.4 4.5h-4.7zM548.8 363.2l2.4 4.5h-4.7zM569.5 357.8l2.4 4.5h-4.7zM558 370.4l2.4 4.5h-4.7zM542.4 368.5l2.4 4.5h-4.7zM548.4 378.7l2.4 4.5h-4.7zM542.3 365.6l2.4 4.5h-4.7zM578.4 347l2.4 4.5h-4.7zM551.4 366.4l2.4 4.5h-4.7zM558.1 370.5l2.4 4.5h-4.7zM564.7 361.4l2.4 4.5h-4.7zM559.8 358l2.4 4.5h-4.7zM559.1 386.9l2.4 4.5h-4.7zM540.6 376.7l2.4 4.5h-4.7zM541.4 376.3l2.4 4.5h-4.7zM548.6 366.7l2.4 4.5h-4.7zM559.4 356.1l2.4 4.5h-4.7zM564.3 357.1l2.4 4.5h-4.7zM541.3 367.1l2.4 4.5h-4.7zM553.5 361.3l2.4 4.5h-4.7zM550.5 365.3l2.4 4.5h-4.7zM561 366.4l2.4 4.5h-4.7zM564.7 362.5l2.4 4.5h-4.7zM568.1 349.7l2.4 4.5h-4.7zM586 349.5l2.4 4.5h-4.7zM564.8 365.8l2.4 4.5h-4.7zM549.7 380.1l2.4 4.5h-4.7zM550.1 380.4l2.4 4.5h-4.7zM579.4 355.9l2.4 4.5h-4.7zM572.5 356l2.4 4.5h-4.7zM560.2 356.4l2.4 4.5h-4.7zM569.3 363.6l2.4 4.5h-4.7zM569.5 365.6l2.4 4.5h-4.7zM545.8 369.6l2.4 4.5h-4.7zM554.3 375.4l2.4 4.5h-4.7zM556.9 363.5l2.4 4.5h-4.7zM543.6 380.6l2.4 4.5h-4.7zM569.9 361.7l2.4 4.5h-4.7zM540.4 385.9l2.4 4.5h-4.7zM561.5 353.4l2.4 4.5h-4.7zM562.2 358.5l2.4 4.5h-4.7zM552.3 356.7l2.4 4.5h-4.7zM576.5 351l2.4 4.5h-4.7zM551.7 374.5l2.4 4.5h-4.7zM561.8 352.4l2.4 4.5h-4.7zM566.9 375.7l2.4 4.5h-4.7zM558.5 361.7l2.4 4.5h-4.7zM571.7 348.8l2.4 4.5h-4.7zM562.4 365.6l2.4 4.5h-4.7zM572.2 368.9l2.4 4.5h-4.7zM559.6 361.5l2.4 4.5h-4.7zM544.8 386.1l2.4 4.5h-4.7zM573.5 357l2.4 4.5h-4.7zM547.1 381.5l2.4 4.5h-4.7zM565.8 366.2l2.4 4.5h-4.7zM561 351.7l2.4 4.5h-4.7zM562.3 360l2.4 4.5h-4.7zM549.5 369l2.4 4.5h-4.7zM558.5 376.2l2.4 4.5h-4.7zM584.9 350.6l2.4 4.5h-4.7zM564.2 362.1l2.4 4.5h-4.7zM579.6 350.9l2.4 4.5h-4.7zM569.8 348.9l2.4 4.5h-4.7zM568.5 355.2l2.4 4.5h-4.7zM541 381.9l2.4 4.5h-4.7zM541.2 387.6l2.4 4.5h-4.7zM547 382.7l2.4 4.5h-4.7zM545.9 381.7l2.4 4.5h-4.7zM572.4 351.4l2.4 4.5h-4.7zM568.2 350.2l2.4 4.5h-4.7zM566.8 346.4l2.4 4.5h-4.7zM588.9 348.6l2.4 4.5h-4.7zM570.5 377.9l2.4 4.5h-4.7zM565.6 386.4l2.4 4.5h-4.7zM583.9 377.8l2.4 4.5h-4.7zM568.8 376.5l2.4 4.5h-4.7zM563.2 386l2.4 4.5h-4.7zM557.7 391.1l2.4 4.5h-4.7zM581.5 365.6l2.4 4.5h-4.7zM564 377.3l2.4 4.5h-4.7zM545.6 389.3l2.4 4.5h-4.7zM479.3 278.1l2.4 4.5h-4.7zM473.2 283.2l2.4 4.5h-4.7zM467.2 285.1l2.4 4.5h-4.7zM493.6 279l2.4 4.5h-4.7zM493.6 284l2.4 4.5h-4.7zM444.8 289.1l2.4 4.5h-4.7zM451.9 292.3l2.4 4.5h-4.7zM423.5 293.1l2.4 4.5h-4.7zM415.3 295.2l2.4 4.5h-4.7zM417.4 299.3l2.4 4.5h-4.7zM423.5 302.2l2.4 4.5h-4.7zM434.8 296.1l2.4 4.5h-4.7zM441.8 295.2l2.4 4.5h-4.7zM605.5 352.7l2.4 4.5h-4.7zM558.7 393.1l2.4 4.5h-4.7zM590 354.2l2.4 4.5h-4.7z" fill="#ff0000" fill-opacity=".8" stroke="#ff0000" stroke-opacity=".55" stroke-width=".7"/>
<path d="M456.9 325.6l2.4 4.5h-4.7zM520.7 281.1l2.4 4.5h-4.7zM440 342.7l2.4 4.5h-4.7zM458.3 323.8l2.4 4.5h-4.7zM439.4 325.8l2.4 4.5h-4.7zM438.4 328.3l2.4 4.5h-4.7zM430.9 342.3l2.4 4.5h-4.7zM427.2 334.2l2.4 4.5h-4.7zM441.9 319.6l2.4 4.5h-4.7zM447.8 328.4l2.4 4.5h-4.7zM432 329l2.4 4.5h-4.7zM441.3 326.3l2.4 4.5h-4.7zM416.4 355.8l2.4 4.5h-4.7zM422.1 350.2l2.4 4.5h-4.7zM436.4 337.9l2.4 4.5h-4.7zM503.4 292.5l2.4 4.5h-4.7zM436.9 344.1l2.4 4.5h-4.7zM450.1 327.9l2.4 4.5h-4.7zM437 323.9l2.4 4.5h-4.7zM501.3 292.8l2.4 4.5h-4.7zM445.6 335.4l2.4 4.5h-4.7zM498.3 300.8l2.4 4.5h-4.7zM449.5 319.9l2.4 4.5h-4.7zM445.5 321.7l2.4 4.5h-4.7zM437.5 338.4l2.4 4.5h-4.7zM442 338.6l2.4 4.5h-4.7zM436.2 328l2.4 4.5h-4.7zM466.2 322.2l2.4 4.5h-4.7zM448 332.4l2.4 4.5h-4.7zM452.7 327.1l2.4 4.5h-4.7zM430.6 337.7l2.4 4.5h-4.7zM413.6 343.4l2.4 4.5h-4.7zM439.7 328.2l2.4 4.5h-4.7zM436.7 343.7l2.4 4.5h-4.7zM431.9 338.5l2.4 4.5h-4.7zM458.6 326.1l2.4 4.5h-4.7zM438 324.3l2.4 4.5h-4.7zM454.5 326.6l2.4 4.5h-4.7zM448.1 328.5l2.4 4.5h-4.7zM453.6 325.4l2.4 4.5h-4.7zM444.8 328.6l2.4 4.5h-4.7zM462.1 323.1l2.4 4.5h-4.7zM496.4 292.9l2.4 4.5h-4.7zM448.6 334.6l2.4 4.5h-4.7zM457.7 324.2l2.4 4.5h-4.7zM431.1 336.6l2.4 4.5h-4.7zM426 331.4l2.4 4.5h-4.7zM440 342.5l2.4 4.5h-4.7zM439 321.6l2.4 4.5h-4.7zM436.2 336.5l2.4 4.5h-4.7zM465.3 320.4l2.4 4.5h-4.7zM417.9 354.9l2.4 4.5h-4.7zM463.3 323l2.4 4.5h-4.7zM444.3 337.2l2.4 4.5h-4.7zM446.6 321.5l2.4 4.5h-4.7zM433.3 323.4l2.4 4.5h-4.7zM453.2 328l2.4 4.5h-4.7zM445 320.6l2.4 4.5h-4.7zM443.9 329.6l2.4 4.5h-4.7zM454.7 327.9l2.4 4.5h-4.7zM462.7 321.3l2.4 4.5h-4.7zM449.3 333.9l2.4 4.5h-4.7zM454.2 321.5l2.4 4.5h-4.7zM449.7 322.3l2.4 4.5h-4.7zM448.4 333.1l2.4 4.5h-4.7zM443.2 325.3l2.4 4.5h-4.7zM418.5 332.9l2.4 4.5h-4.7zM423.1 323.1l2.4 4.5h-4.7zM417.5 342.4l2.4 4.5h-4.7zM433.2 327.9l2.4 4.5h-4.7zM418.4 325.6l2.4 4.5h-4.7zM454.4 321l2.4 4.5h-4.7zM423.1 345.9l2.4 4.5h-4.7zM444.2 323.7l2.4 4.5h-4.7zM450.1 324.8l2.4 4.5h-4.7zM434.6 332.4l2.4 4.5h-4.7zM461.7 324.5l2.4 4.5h-4.7zM445.3 334.1l2.4 4.5h-4.7zM448.8 325.1l2.4 4.5h-4.7zM446.2 329.8l2.4 4.5h-4.7zM454.2 319.5l2.4 4.5h-4.7zM526.2 282.1l2.4 4.5h-4.7zM440.3 322.8l2.4 4.5h-4.7zM451.4 319.4l2.4 4.5h-4.7zM416.3 330.3l2.4 4.5h-4.7zM426.4 345.6l2.4 4.5h-4.7zM451.5 330.8l2.4 4.5h-4.7zM440.6 327.2l2.4 4.5h-4.7zM459.3 323.7l2.4 4.5h-4.7zM448.2 323.4l2.4 4.5h-4.7zM410.8 361.1l2.4 4.5h-4.7zM447.1 331.6l2.4 4.5h-4.7zM424.9 345.7l2.4 4.5h-4.7zM512.4 286.5l2.4 4.5h-4.7zM440 330.9l2.4 4.5h-4.7zM443.6 321.7l2.4 4.5h-4.7zM461.4 322.6l2.4 4.5h-4.7zM442 331.1l2.4 4.5h-4.7zM446.4 327.5l2.4 4.5h-4.7zM459.8 322.6l2.4 4.5h-4.7zM450.3 319.7l2.4 4.5h-4.7zM413.4 348l2.4 4.5h-4.7zM447.1 335.8l2.4 4.5h-4.7zM423.4 321.2l2.4 4.5h-4.7zM426.2 325.9l2.4 4.5h-4.7zM427.4 333.8l2.4 4.5h-4.7zM417.1 343.2l2.4 4.5h-4.7zM511.5 288.7l2.4 4.5h-4.7zM406 358.4l2.4 4.5h-4.7zM440.5 322.3l2.4 4.5h-4.7zM435.4 328.7l2.4 4.5h-4.7zM448.4 333.6l2.4 4.5h-4.7zM434.6 345.3l2.4 4.5h-4.7zM414.9 332.4l2.4 4.5h-4.7zM453.5 329.7l2.4 4.5h-4.7zM412.7 325.3l2.4 4.5h-4.7zM461.6 323.6l2.4 4.5h-4.7zM446.8 324.3l2.4 4.5h-4.7zM498.1 296.1l2.4 4.5h-4.7zM444.3 331.3l2.4 4.5h-4.7zM406.9 364.7l2.4 4.5h-4.7zM505.4 289.4l2.4 4.5h-4.7zM446 333.3l2.4 4.5h-4.7zM432.7 344.4l2.4 4.5h-4.7zM444.9 338.1l2.4 4.5h-4.7zM420.7 352.7l2.4 4.5h-4.7zM417.7 339.4l2.4 4.5h-4.7zM441 334.7l2.4 4.5h-4.7zM435.1 321.3l2.4 4.5h-4.7zM521.1 280.8l2.4 4.5h-4.7zM523.6 281l2.4 4.5h-4.7zM425.3 335.3l2.4 4.5h-4.7zM506.3 291.7l2.4 4.5h-4.7zM515.1 284.9l2.4 4.5h-4.7zM434.6 321.3l2.4 4.5h-4.7zM438.5 330.9l2.4 4.5h-4.7zM521.4 274.1l2.4 4.5h-4.7zM464.9 321.2l2.4 4.5h-4.7zM410.4 332.1l2.4 4.5h-4.7zM520 286.3l2.4 4.5h-4.7zM439.7 341.5l2.4 4.5h-4.7zM451 319.6l2.4 4.5h-4.7zM416.4 353.8l2.4 4.5h-4.7zM423.7 320.9l2.4 4.5h-4.7zM453.4 320l2.4 4.5h-4.7zM421 331.8l2.4 4.5h-4.7zM421.3 340.4l2.4 4.5h-4.7zM432.8 335.4l2.4 4.5h-4.7zM465 321.8l2.4 4.5h-4.7zM447.6 327.6l2.4 4.5h-4.7zM507.6 291.5l2.4 4.5h-4.7zM443.3 331.5l2.4 4.5h-4.7zM413.4 343.8l2.4 4.5h-4.7zM416.8 335.4l2.4 4.5h-4.7zM427.2 351.3l2.4 4.5h-4.7zM440 343l2.4 4.5h-4.7zM424 346.1l2.4 4.5h-4.7zM419.4 347l2.4 4.5h-4.7zM431.4 321.2l2.4 4.5h-4.7zM432.7 321.7l2.4 4.5h-4.7zM437.2 333.7l2.4 4.5h-4.7zM428.1 347.1l2.4 4.5h-4.7zM434.1 331.3l2.4 4.5h-4.7zM420.8 347.6l2.4 4.5h-4.7zM440.5 334.5l2.4 4.5h-4.7zM455.5 327.4l2.4 4.5h-4.7zM418.9 356.1l2.4 4.5h-4.7zM466.9 320.5l2.4 4.5h-4.7zM430.7 347.7l2.4 4.5h-4.7zM509.7 293.4l2.4 4.5h-4.7zM451.6 320l2.4 4.5h-4.7zM446.7 335.8l2.4 4.5h-4.7zM467.4 319.6l2.4 4.5h-4.7zM450.6 322.8l2.4 4.5h-4.7zM425.9 329.8l2.4 4.5h-4.7zM432.3 337.8l2.4 4.5h-4.7zM449.6 328.1l2.4 4.5h-4.7zM416.7 324.2l2.4 4.5h-4.7zM467.4 319.4l2.4 4.5h-4.7zM412.8 357.9l2.4 4.5h-4.7zM522.8 283.4l2.4 4.5h-4.7zM458.4 325.7l2.4 4.5h-4.7zM432.4 337.4l2.4 4.5h-4.7zM421.6 350.6l2.4 4.5h-4.7zM444.4 328.7l2.4 4.5h-4.7zM435.3 328.5l2.4 4.5h-4.7zM447.9 323.2l2.4 4.5h-4.7zM444.1 325.9l2.4 4.5h-4.7zM509 283.1l2.4 4.5h-4.7zM429.8 350.1l2.4 4.5h-4.7zM431.2 327.2l2.4 4.5h-4.7zM513.9 285.9l2.4 4.5h-4.7zM496.6 297.3l2.4 4.5h-4.7zM431.3 319.6l2.4 4.5h-4.7zM416.8 328.1l2.4 4.5h-4.7zM499.8 280.6l2.4 4.5h-4.7zM600.7 328.3l2.4 4.5h-4.7zM492.3 394.7l2.4 4.5h-4.7zM530.4 382.1l2.4 4.5h-4.7zM593.2 334l2.4 4.5h-4.7zM587 334.3l2.4 4.5h-4.7zM534.5 379.2l2.4 4.5h-4.7zM497.5 385.3l2.4 4.5h-4.7zM575 345.4l2.4 4.5h-4.7zM512.9 388.8l2.4 4.5h-4.7zM593.1 329.1l2.4 4.5h-4.7zM574.7 342.2l2.4 4.5h-4.7zM598.1 332.9l2.4 4.5h-4.7zM510.9 391.8l2.4 4.5h-4.7zM517.5 388.8l2.4 4.5h-4.7zM582.2 342.2l2.4 4.5h-4.7zM524 390.6l2.4 4.5h-4.7zM538.1 387.9l2.4 4.5h-4.7zM519.9 386.5l2.4 4.5h-4.7zM502.6 390.5l2.4 4.5h-4.7zM498.9 396.1l2.4 4.5h-4.7zM578.9 342.3l2.4 4.5h-4.7zM532.5 383.1l2.4 4.5h-4.7zM525.4 372.7l2.4 4.5h-4.7zM595.3 331.8l2.4 4.5h-4.7zM519 380.2l2.4 4.5h-4.7zM494.4 386l2.4 4.5h-4.7zM576.2 343.7l2.4 4.5h-4.7zM492 385.2l2.4 4.5h-4.7zM518.2 388.6l2.4 4.5h-4.7zM528.6 381.5l2.4 4.5h-4.7zM519.6 381.1l2.4 4.5h-4.7zM519.9 376.2l2.4 4.5h-4.7zM580.4 346.4l2.4 4.5h-4.7zM504.9 384l2.4 4.5h-4.7zM497.4 386.8l2.4 4.5h-4.7zM585.5 338.4l2.4 4.5h-4.7zM539.4 380.4l2.4 4.5h-4.7zM579.2 340.7l2.4 4.5h-4.7zM516.4 377.1l2.4 4.5h-4.7zM592.6 337.9l2.4 4.5h-4.7zM505.2 400.1l2.4 4.5h-4.7zM594.6 338.6l2.4 4.5h-4.7zM589.7 333.4l2.4 4.5h-4.7zM580.9 338.9l2.4 4.5h-4.7zM585.1 342.9l2.4 4.5h-4.7zM581.5 342.9l2.4 4.5h-4.7zM589.2 336.7l2.4 4.5h-4.7zM592.8 330l2.4 4.5h-4.7zM594.1 332.7l2.4 4.5h-4.7zM518.6 390.1l2.4 4.5h-4.7zM493.4 389.4l2.4 4.5h-4.7zM520 392.8l2.4 4.5h-4.7zM492.2 401.7l2.4 4.5h-4.7zM587.9 335.1l2.4 4.5h-4.7zM588.3 337.7l2.4 4.5h-4.7zM529.3 385.5l2.4 4.5h-4.7zM528.3 379.5l2.4 4.5h-4.7zM580.6 341.4l2.4 4.5h-4.7zM590.5 337.1l2.4 4.5h-4.7zM506 393.3l2.4 4.5h-4.7zM586.5 335.7l2.4 4.5h-4.7zM508 379.5l2.4 4.5h-4.7zM531.1 375.5l2.4 4.5h-4.7zM539.4 363.8l2.4 4.5h-4.7zM571.1 343.6l2.4 4.5h-4.7zM508.2 383.7l2.4 4.5h-4.7zM506.6 382.7l2.4 4.5h-4.7zM539.3 384.9l2.4 4.5h-4.7zM532.6 376.5l2.4 4.5h-4.7zM540.2 376.5l2.4 4.5h-4.7zM576.8 346.4l2.4 4.5h-4.7zM504.2 392.6l2.4 4.5h-4.7zM504.2 384l2.4 4.5h-4.7zM525 388.1l2.4 4.5h-4.7zM593.5 330.3l2.4 4.5h-4.7zM505.1 397.9l2.4 4.5h-4.7zM585.2 336.5l2.4 4.5h-4.7zM523.8 384.7l2.4 4.5h-4.7zM583.2 337.1l2.4 4.5h-4.7zM509.1 398.5l2.4 4.5h-4.7zM513.6 397.4l2.4 4.5h-4.7zM584.4 334.9l2.4 4.5h-4.7zM579.5 339.8l2.4 4.5h-4.7zM592 334.9l2.4 4.5h-4.7zM583 340.1l2.4 4.5h-4.7zM595.7 337.7l2.4 4.5h-4.7zM538.9 373.6l2.4 4.5h-4.7zM522.1 375.6l2.4 4.5h-4.7zM585.4 343.5l2.4 4.5h-4.7zM530.6 378.2l2.4 4.5h-4.7zM573.8 341.6l2.4 4.5h-4.7zM515.5 393.2l2.4 4.5h-4.7zM514.7 396.4l2.4 4.5h-4.7zM534.5 370.8l2.4 4.5h-4.7zM516.1 400.7l2.4 4.5h-4.7zM587.3 341.8l2.4 4.5h-4.7zM535.5 376.3l2.4 4.5h-4.7zM515.7 382.1l2.4 4.5h-4.7zM496.1 389.4l2.4 4.5h-4.7zM587.9 341.3l2.4 4.5h-4.7zM592.6 345.6l2.4 4.5h-4.7zM534.7 371.8l2.4 4.5h-4.7zM510 381.5l2.4 4.5h-4.7zM496.4 393.7l2.4 4.5h-4.7zM526.3 376l2.4 4.5h-4.7zM588.7 335.6l2.4 4.5h-4.7zM523.9 386.5l2.4 4.5h-4.7zM536.3 380.7l2.4 4.5h-4.7zM508.9 388.9l2.4 4.5h-4.7zM527.7 379l2.4 4.5h-4.7zM537.1 389.3l2.4 4.5h-4.7zM575.8 346.3l2.4 4.5h-4.7zM494.9 394.6l2.4 4.5h-4.7zM593.7 334.2l2.4 4.5h-4.7zM520.7 398l2.4 4.5h-4.7zM513.9 397l2.4 4.5h-4.7zM490.1 395.9l2.4 4.5h-4.7zM511.7 393.3l2.4 4.5h-4.7zM520.8 373.9l2.4 4.5h-4.7zM514.4 384.4l2.4 4.5h-4.7zM526.4 379.1l2.4 4.5h-4.7zM521.8 387.3l2.4 4.5h-4.7zM586.9 339.3l2.4 4.5h-4.7zM531.3 381.7l2.4 4.5h-4.7zM584 345.9l2.4 4.5h-4.7zM589.3 332.4l2.4 4.5h-4.7zM590.8 343.3l2.4 4.5h-4.7zM508.2 398.7l2.4 4.5h-4.7zM530.5 389.7l2.4 4.5h-4.7zM533.6 374.3l2.4 4.5h-4.7zM580.8 341.4l2.4 4.5h-4.7zM515.6 392l2.4 4.5h-4.7zM514.8 375.8l2.4 4.5h-4.7zM496.3 393.5l2.4 4.5h-4.7zM593.2 332.7l2.4 4.5h-4.7zM539.4 384.6l2.4 4.5h-4.7zM509.8 381.5l2.4 4.5h-4.7zM584.1 338.3l2.4 4.5h-4.7zM493.5 391.3l2.4 4.5h-4.7zM576.3 341.3l2.4 4.5h-4.7zM576.3 341.1l2.4 4.5h-4.7zM490.6 397.7l2.4 4.5h-4.7zM519.1 377.7l2.4 4.5h-4.7zM520.4 387.4l2.4 4.5h-4.7zM587.8 339.7l2.4 4.5h-4.7zM597.1 331.6l2.4 4.5h-4.7zM530.6 385.5l2.4 4.5h-4.7zM587.2 333.6l2.4 4.5h-4.7zM518.2 384.2l2.4 4.5h-4.7zM507.6 385.6l2.4 4.5h-4.7zM536.8 368.2l2.4 4.5h-4.7zM582.6 339.1l2.4 4.5h-4.7zM518.2 385.7l2.4 4.5h-4.7zM589.4 335.8l2.4 4.5h-4.7zM535 368.7l2.4 4.5h-4.7zM585.6 345.6l2.4 4.5h-4.7zM582.5 343.1l2.4 4.5h-4.7zM539.2 371.8l2.4 4.5h-4.7zM537.4 370.2l2.4 4.5h-4.7zM582.8 336.6l2.4 4.5h-4.7zM531.9 374.9l2.4 4.5h-4.7zM595.2 340.4l2.4 4.5h-4.7zM527.3 384.4l2.4 4.5h-4.7zM527.9 380.6l2.4 4.5h-4.7zM574.5 345.5l2.4 4.5h-4.7zM530.6 394.2l2.4 4.5h-4.7zM532.8 368.8l2.4 4.5h-4.7zM508.8 398.6l2.4 4.5h-4.7zM568.8 345.5l2.4 4.5h-4.7zM534.8 379.4l2.4 4.5h-4.7zM511 394.5l2.4 4.5h-4.7zM522.3 384.4l2.4 4.5h-4.7zM525 380.1l2.4 4.5h-4.7zM535.7 370.3l2.4 4.5h-4.7zM521.9 382.1l2.4 4.5h-4.7zM587 342.1l2.4 4.5h-4.7zM533.6 391.7l2.4 4.5h-4.7zM588.9 343.5l2.4 4.5h-4.7zM513.4 377l2.4 4.5h-4.7zM516.3 384.9l2.4 4.5h-4.7zM529.2 370.1l2.4 4.5h-4.7zM529.7 381.3l2.4 4.5h-4.7zM580.8 338.2l2.4 4.5h-4.7zM488.4 402.1l2.4 4.5h-4.7zM528.3 378.7l2.4 4.5h-4.7zM498.9 392.1l2.4 4.5h-4.7zM495 401.3l2.4 4.5h-4.7zM507 384.8l2.4 4.5h-4.7zM539.3 373.6l2.4 4.5h-4.7zM498.8 400.6l2.4 4.5h-4.7zM511.1 381.6l2.4 4.5h-4.7zM509.9 386.6l2.4 4.5h-4.7zM532.1 382.4l2.4 4.5h-4.7zM580.7 339.5l2.4 4.5h-4.7zM534.5 366.6l2.4 4.5h-4.7zM520.1 379.2l2.4 4.5h-4.7zM583.6 342.9l2.4 4.5h-4.7zM574.1 341.5l2.4 4.5h-4.7zM509.1 393.1l2.4 4.5h-4.7zM519.9 396.8l2.4 4.5h-4.7zM584.1 342.6l2.4 4.5h-4.7zM584.5 334.7l2.4 4.5h-4.7zM595.7 328.5l2.4 4.5h-4.7zM581.1 342.6l2.4 4.5h-4.7zM538.3 389.2l2.4 4.5h-4.7zM587.1 333l2.4 4.5h-4.7zM580.9 339l2.4 4.5h-4.7zM500.4 391.7l2.4 4.5h-4.7zM497.8 385.1l2.4 4.5h-4.7zM590.5 343.6l2.4 4.5h-4.7zM596.4 334.6l2.4 4.5h-4.7zM521.3 385.3l2.4 4.5h-4.7zM534.1 370l2.4 4.5h-4.7zM532.3 366.7l2.4 4.5h-4.7zM519.6 382.1l2.4 4.5h-4.7zM506.5 386l2.4 4.5h-4.7zM540.1 395.2l2.4 4.5h-4.7zM534.1 367.6l2.4 4.5h-4.7zM537.2 364.1l2.4 4.5h-4.7zM508.8 396l2.4 4.5h-4.7zM526 369.5l2.4 4.5h-4.7zM581.8 338.8l2.4 4.5h-4.7zM509.3 395l2.4 4.5h-4.7zM539 371.2l2.4 4.5h-4.7zM495.9 391l2.4 4.5h-4.7zM495.8 393.7l2.4 4.5h-4.7zM518.4 376.3l2.4 4.5h-4.7zM531.7 383.5l2.4 4.5h-4.7zM536.7 379.4l2.4 4.5h-4.7zM521.9 376.1l2.4 4.5h-4.7zM596.6 330.8l2.4 4.5h-4.7zM524.5 375.4l2.4 4.5h-4.7zM526.7 392.1l2.4 4.5h-4.7zM505.9 394.1l2.4 4.5h-4.7zM587.8 342.5l2.4 4.5h-4.7zM594.1 335.5l2.4 4.5h-4.7zM590.8 336.8l2.4 4.5h-4.7zM531.5 375.4l2.4 4.5h-4.7zM515.5 381.5l2.4 4.5h-4.7zM583.7 340l2.4 4.5h-4.7zM519.9 382.3l2.4 4.5h-4.7zM534.7 376.5l2.4 4.5h-4.7zM509.8 383.5l2.4 4.5h-4.7zM534.8 375l2.4 4.5h-4.7zM494.9 396.1l2.4 4.5h-4.7zM577.4 345.1l2.4 4.5h-4.7zM508.1 379.5l2.4 4.5h-4.7zM582.7 345.1l2.4 4.5h-4.7zM515.2 387.4l2.4 4.5h-4.7zM591.9 346.2l2.4 4.5h-4.7zM405.2 336l2.4 4.5h-4.7zM410.3 329.9l2.4 4.5h-4.7zM415.3 327.8l2.4 4.5h-4.7zM413.3 339l2.4 4.5h-4.7zM407.2 344l2.4 4.5h-4.7zM497.8 288.1l2.4 4.5h-4.7zM503.8 290.2l2.4 4.5h-4.7zM509.8 285.1l2.4 4.5h-4.7zM514.9 287l2.4 4.5h-4.7zM612.7 324.3l2.4 4.5h-4.7zM607.3 344.3l2.4 4.5h-4.7zM606.2 330.3l2.4 4.5h-4.7z" fill="#bfbf00" fill-opacity=".8" stroke="#bfbf00" stroke-opacity=".55" stroke-width=".7"/>
<rect x="385.6" y="351.2" width="148.8" height="65.8" rx="2" fill="#fff" fill-opacity=".8" stroke="#ccc" stroke-width=".9"/>
<circle cx="405.6" cy="364.4" r="2.4" fill="#008000" fill-opacity=".7" stroke="#008000" stroke-opacity=".6" stroke-width=".7"/>
<path d="M405.6 382.65l2.35 4.5h-4.7z" fill="#ff0000" fill-opacity=".8"/>
<path d="M405.6 403.25l2.35 4.5h-4.7z" fill="#bfbf00" fill-opacity=".8"/>
<text class="s" x="431.1" y="367.2" font-size="13.4" text-anchor="start">Normal</text>
<text class="s" x="431.1" y="387.8" font-size="13.4" text-anchor="start">Migrate</text>
<text class="s" x="431.1" y="408.7" font-size="13.4" text-anchor="start">High deviation</text>
<rect x="379.2" y="259.3" width="254.4" height="164.9" fill="none" stroke="#333" stroke-width="1"/>
<text class="s" x="390.6" y="443" font-size="15.5" text-anchor="middle" letter-spacing=".3">0.0</text>
<text class="s" x="373.5" y="422" font-size="15.5" text-anchor="end" letter-spacing=".3">0.0</text>
<text class="s" x="436.9" y="443" font-size="15.5" text-anchor="middle" letter-spacing=".3">0.2</text>
<text class="s" x="373.5" y="392.2" font-size="15.5" text-anchor="end" letter-spacing=".3">0.2</text>
<text class="s" x="483.2" y="443" font-size="15.5" text-anchor="middle" letter-spacing=".3">0.4</text>
<text class="s" x="373.5" y="362.3" font-size="15.5" text-anchor="end" letter-spacing=".3">0.4</text>
<text class="s" x="529.6" y="443" font-size="15.5" text-anchor="middle" letter-spacing=".3">0.6</text>
<text class="s" x="373.5" y="332.5" font-size="15.5" text-anchor="end" letter-spacing=".3">0.6</text>
<text class="s" x="575.9" y="443" font-size="15.5" text-anchor="middle" letter-spacing=".3">0.8</text>
<text class="s" x="373.5" y="302.6" font-size="15.5" text-anchor="end" letter-spacing=".3">0.8</text>
<text class="s" x="622.2" y="443" font-size="15.5" text-anchor="middle" letter-spacing=".3">1.0</text>
<text class="s" x="373.5" y="272.8" font-size="15.5" text-anchor="end" letter-spacing=".3">1.0</text>
<path d="M390.8 424.2v2.8M379.2 416.2h-2.8M437.1 424.2v2.8M379.2 386.4h-2.8M483.4 424.2v2.8M379.2 356.5h-2.8M529.8 424.2v2.8M379.2 326.7h-2.8M576.1 424.2v2.8M379.2 296.8h-2.8M622.4 424.2v2.8M379.2 267h-2.8" stroke="#000" stroke-width=".7" fill="none"/>
<text class="s" x="506.5" y="460.8" font-size="16" text-anchor="middle" letter-spacing=".4">150-th Epoch</text>
<text class="s" x="339.8" y="342.4" font-size="16" text-anchor="middle" transform="rotate(-90 339.8 342.4)" letter-spacing=".4">250-th Epoch</text>
<text class="r" x="22" y="219.6" font-size="17.4" textLength="18" lengthAdjust="spacingAndGlyphs">(a)</text>
<text class="r" x="49.6" y="219.6" font-size="17.4" textLength="260.4" lengthAdjust="spacingAndGlyphs">AUC and Loss with DNS sampler</text>
<text class="r" x="340" y="219.6" font-size="17.4" textLength="18.5" lengthAdjust="spacingAndGlyphs">(b)</text>
<text class="r" x="368" y="219.6" font-size="17.4" textLength="268" lengthAdjust="spacingAndGlyphs">Impact of removing “easy” samples</text>
<text class="r" x="0.3" y="498.6" font-size="17.4" textLength="17" lengthAdjust="spacingAndGlyphs">(c)</text>
<text class="r" x="28" y="498.6" font-size="17.4" textLength="288" lengthAdjust="spacingAndGlyphs">Migration between 100-th and 150-th</text>
<text class="r" x="0.3" y="519.2" font-size="17.4" textLength="48.5" lengthAdjust="spacingAndGlyphs">Epoch</text>
<text class="r" x="323" y="498.6" font-size="17.4" textLength="18.5" lengthAdjust="spacingAndGlyphs">(d)</text>
<text class="r" x="353" y="498.6" font-size="17.4" textLength="284" lengthAdjust="spacingAndGlyphs">Migration between 150-th and 250-th</text>
<text class="r" x="323" y="519.2" font-size="17.4" textLength="48.5" lengthAdjust="spacingAndGlyphs">Epoch</text>
</svg>
</body></html>
